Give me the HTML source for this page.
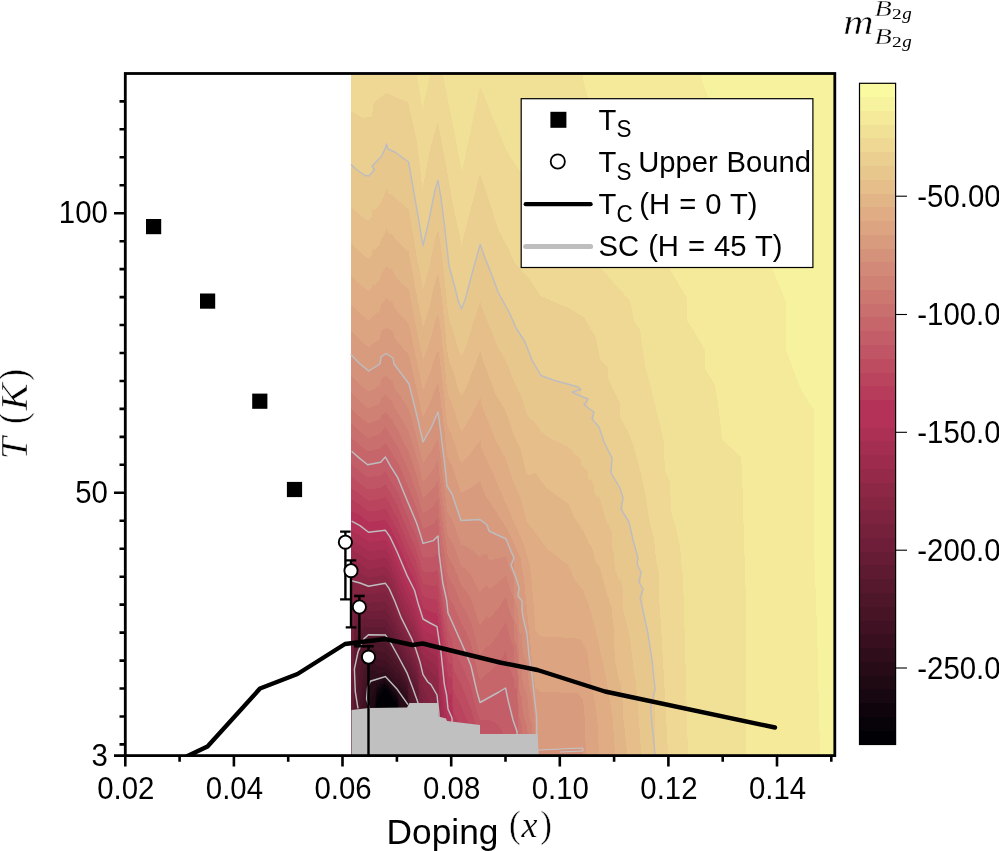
<!DOCTYPE html>
<html><head><meta charset="utf-8"><title>chart</title>
<style>
html,body{margin:0;padding:0;background:#fff}
body{width:999px;height:851px;position:relative;overflow:hidden;font-family:"Liberation Sans",sans-serif}
#hm{position:absolute;left:351px;top:74px;width:484px;height:682px;overflow:hidden}
#hm i{position:absolute;top:0;width:1px;height:682px;display:block}
#ov{position:absolute;left:0;top:0;will-change:transform}
</style></head><body>
<div id="hm">
<i style="left:0px;background:linear-gradient(#eed893 37.8px,#ebcf90 37.8px,#ebcf90 91.5px,#e8c78d 91.5px,#e8c78d 133.2px,#e5be8a 133.2px,#e5be8a 170px,#e2b587 170px,#e2b587 202.5px,#dfac84 202.5px,#dfac84 231.5px,#dca481 231.5px,#dca481 258px,#d99b7e 258px,#d99b7e 281.8px,#d5927a 281.8px,#d5927a 302.2px,#d28977 302.2px,#d28977 319.5px,#cf8174 319.5px,#cf8174 335.2px,#cc7871 335.2px,#cc7871 350px,#c96f6e 350px,#c96f6e 364px,#c6666b 364px,#c6666b 377.8px,#c35e68 377.8px,#c35e68 390.8px,#c05565 390.8px,#c05565 403px,#bd4c61 403px,#bd4c61 414.8px,#ba435e 414.8px,#ba435e 425.8px,#b73b5b 425.8px,#b73b5b 436.8px,#b43258 436.8px,#b43258 447.5px,#b43258 447.5px,#b43258 457.2px,#ac3054 457.2px,#ac3054 466px,#a42e51 466px,#a42e51 474.2px,#9d2b4d 474.2px,#9d2b4d 483px,#95294a 483px,#95294a 492.8px,#8d2746 492.8px,#8d2746 507px,#852542 507px,#852542 529px,#7d233f 529px,#7d233f 553.2px,#75213b 553.2px,#75213b 581.2px,#6e1e38 581.2px,#6e1e38 618px,#661c34 618px)"></i>
<i style="left:1px;background:linear-gradient(#eed893 38px,#ebcf90 38px,#ebcf90 92px,#e8c78d 92px,#e8c78d 133.8px,#e5be8a 133.8px,#e5be8a 170.5px,#e2b587 170.5px,#e2b587 203px,#dfac84 203px,#dfac84 232.2px,#dca481 232.2px,#dca481 258.5px,#d99b7e 258.5px,#d99b7e 282.5px,#d5927a 282.5px,#d5927a 302.8px,#d28977 302.8px,#d28977 320px,#cf8174 320px,#cf8174 335.8px,#cc7871 335.8px,#cc7871 350.5px,#c96f6e 350.5px,#c96f6e 364.5px,#c6666b 364.5px,#c6666b 378.2px,#c35e68 378.2px,#c35e68 391.2px,#c05565 391.2px,#c05565 403.5px,#bd4c61 403.5px,#bd4c61 415px,#ba435e 415px,#ba435e 426.2px,#b73b5b 426.2px,#b73b5b 437px,#b43258 437px,#b43258 447.8px,#b43258 447.8px,#b43258 457.5px,#ac3054 457.5px,#ac3054 466.2px,#a42e51 466.2px,#a42e51 474.8px,#9d2b4d 474.8px,#9d2b4d 483.2px,#95294a 483.2px,#95294a 493.2px,#8d2746 493.2px,#8d2746 507px,#852542 507px,#852542 528px,#7d233f 528px,#7d233f 551px,#75213b 551px,#75213b 577px,#6e1e38 577px,#6e1e38 609.5px,#661c34 609.5px)"></i>
<i style="left:2px;background:linear-gradient(#eed893 38.8px,#ebcf90 38.8px,#ebcf90 92.8px,#e8c78d 92.8px,#e8c78d 135px,#e5be8a 135px,#e5be8a 171.8px,#e2b587 171.8px,#e2b587 204.2px,#dfac84 204.2px,#dfac84 233.2px,#dca481 233.2px,#dca481 259.5px,#d99b7e 259.5px,#d99b7e 283.5px,#d5927a 283.5px,#d5927a 303.8px,#d28977 303.8px,#d28977 321px,#cf8174 321px,#cf8174 336.8px,#cc7871 336.8px,#cc7871 351.2px,#c96f6e 351.2px,#c96f6e 365.5px,#c6666b 365.5px,#c6666b 379px,#c35e68 379px,#c35e68 392.2px,#c05565 392.2px,#c05565 404.2px,#bd4c61 404.2px,#bd4c61 415.8px,#ba435e 415.8px,#ba435e 426.8px,#b73b5b 426.8px,#b73b5b 437.8px,#b43258 437.8px,#b43258 448.2px,#b43258 448.2px,#b43258 458px,#ac3054 458px,#ac3054 466.8px,#a42e51 466.8px,#a42e51 475.2px,#9d2b4d 475.2px,#9d2b4d 484px,#95294a 484px,#95294a 493.8px,#8d2746 493.8px,#8d2746 507.2px,#852542 507.2px,#852542 526.8px,#7d233f 526.8px,#7d233f 547.5px,#75213b 547.5px,#75213b 570.2px,#6e1e38 570.2px,#6e1e38 596.8px,#661c34 596.8px,#661c34 633.2px,#5e1a30 633.2px)"></i>
<i style="left:3px;background:linear-gradient(#eed893 39.2px,#ebcf90 39.2px,#ebcf90 93.8px,#e8c78d 93.8px,#e8c78d 136px,#e5be8a 136px,#e5be8a 172.8px,#e2b587 172.8px,#e2b587 205.2px,#dfac84 205.2px,#dfac84 234.2px,#dca481 234.2px,#dca481 260.5px,#d99b7e 260.5px,#d99b7e 284.5px,#d5927a 284.5px,#d5927a 304.8px,#d28977 304.8px,#d28977 322px,#cf8174 322px,#cf8174 337.8px,#cc7871 337.8px,#cc7871 352.2px,#c96f6e 352.2px,#c96f6e 366.2px,#c6666b 366.2px,#c6666b 380px,#c35e68 380px,#c35e68 393px,#c05565 393px,#c05565 405px,#bd4c61 405px,#bd4c61 416.5px,#ba435e 416.5px,#ba435e 427.5px,#b73b5b 427.5px,#b73b5b 438.2px,#b43258 438.2px,#b43258 448.8px,#b43258 448.8px,#b43258 459px,#ac3054 459px,#ac3054 468.2px,#a42e51 468.2px,#a42e51 477.5px,#9d2b4d 477.5px,#9d2b4d 486.8px,#95294a 486.8px,#95294a 496.5px,#8d2746 496.5px,#8d2746 507.5px,#852542 507.5px,#852542 519px,#7d233f 519px,#7d233f 530px,#75213b 530px,#75213b 540.8px,#6e1e38 540.8px,#6e1e38 552.5px,#661c34 552.5px,#661c34 566.2px,#5e1a30 566.2px,#5e1a30 594.8px,#56182d 594.8px)"></i>
<i style="left:4px;background:linear-gradient(#eed893 39.8px,#ebcf90 39.8px,#ebcf90 94.8px,#e8c78d 94.8px,#e8c78d 137px,#e5be8a 137px,#e5be8a 173.8px,#e2b587 173.8px,#e2b587 206.2px,#dfac84 206.2px,#dfac84 235.2px,#dca481 235.2px,#dca481 261.5px,#d99b7e 261.5px,#d99b7e 285.5px,#d5927a 285.5px,#d5927a 306px,#d28977 306px,#d28977 323px,#cf8174 323px,#cf8174 338.8px,#cc7871 338.8px,#cc7871 353.2px,#c96f6e 353.2px,#c96f6e 367.2px,#c6666b 367.2px,#c6666b 381px,#c35e68 381px,#c35e68 393.8px,#c05565 393.8px,#c05565 405.8px,#bd4c61 405.8px,#bd4c61 417px,#ba435e 417px,#ba435e 428px,#b73b5b 428px,#b73b5b 438.8px,#b43258 438.8px,#b43258 449.2px,#b43258 449.2px,#b43258 459.5px,#ac3054 459.5px,#ac3054 468.8px,#a42e51 468.8px,#a42e51 478px,#9d2b4d 478px,#9d2b4d 487.2px,#95294a 487.2px,#95294a 497px,#8d2746 497px,#8d2746 508px,#852542 508px,#852542 519px,#7d233f 519px,#7d233f 529.5px,#75213b 529.5px,#75213b 540.2px,#6e1e38 540.2px,#6e1e38 551.8px,#661c34 551.8px,#661c34 565px,#5e1a30 565px,#5e1a30 590px,#56182d 590px)"></i>
<i style="left:5px;background:linear-gradient(#eed893 40.5px,#ebcf90 40.5px,#ebcf90 95.8px,#e8c78d 95.8px,#e8c78d 138px,#e5be8a 138px,#e5be8a 175px,#e2b587 175px,#e2b587 207.5px,#dfac84 207.5px,#dfac84 236.2px,#dca481 236.2px,#dca481 262.5px,#d99b7e 262.5px,#d99b7e 286.5px,#d5927a 286.5px,#d5927a 307px,#d28977 307px,#d28977 324.2px,#cf8174 324.2px,#cf8174 339.8px,#cc7871 339.8px,#cc7871 354.2px,#c96f6e 354.2px,#c96f6e 368.2px,#c6666b 368.2px,#c6666b 381.8px,#c35e68 381.8px,#c35e68 394.8px,#c05565 394.8px,#c05565 406.5px,#bd4c61 406.5px,#bd4c61 417.8px,#ba435e 417.8px,#ba435e 428.8px,#b73b5b 428.8px,#b73b5b 439.2px,#b43258 439.2px,#b43258 450px,#b43258 450px,#b43258 460px,#ac3054 460px,#ac3054 469.5px,#a42e51 469.5px,#a42e51 478.8px,#9d2b4d 478.8px,#9d2b4d 488px,#95294a 488px,#95294a 497.8px,#8d2746 497.8px,#8d2746 508.2px,#852542 508.2px,#852542 519px,#7d233f 519px,#7d233f 529px,#75213b 529px,#75213b 539.5px,#6e1e38 539.5px,#6e1e38 550.5px,#661c34 550.5px,#661c34 563.2px,#5e1a30 563.2px,#5e1a30 585.2px,#56182d 585.2px,#56182d 665.2px,#4e1629 665.2px)"></i>
<i style="left:6px;background:linear-gradient(#eed893 41px,#ebcf90 41px,#ebcf90 96.5px,#e8c78d 96.5px,#e8c78d 139px,#e5be8a 139px,#e5be8a 176px,#e2b587 176px,#e2b587 208.5px,#dfac84 208.5px,#dfac84 237.5px,#dca481 237.5px,#dca481 263.5px,#d99b7e 263.5px,#d99b7e 287.5px,#d5927a 287.5px,#d5927a 308px,#d28977 308px,#d28977 325.2px,#cf8174 325.2px,#cf8174 340.8px,#cc7871 340.8px,#cc7871 355.2px,#c96f6e 355.2px,#c96f6e 369.2px,#c6666b 369.2px,#c6666b 382.8px,#c35e68 382.8px,#c35e68 395.5px,#c05565 395.5px,#c05565 407.2px,#bd4c61 407.2px,#bd4c61 418.5px,#ba435e 418.5px,#ba435e 429.2px,#b73b5b 429.2px,#b73b5b 440px,#b43258 440px,#b43258 450.5px,#b43258 450.5px,#b43258 460.5px,#ac3054 460.5px,#ac3054 470px,#a42e51 470px,#a42e51 479.2px,#9d2b4d 479.2px,#9d2b4d 488.5px,#95294a 488.5px,#95294a 498.2px,#8d2746 498.2px,#8d2746 508.5px,#852542 508.5px,#852542 518.8px,#7d233f 518.8px,#7d233f 528.5px,#75213b 528.5px,#75213b 538.2px,#6e1e38 538.2px,#6e1e38 548.8px,#661c34 548.8px,#661c34 561px,#5e1a30 561px,#5e1a30 580.5px,#56182d 580.5px,#56182d 625px,#4e1629 625px)"></i>
<i style="left:7px;background:linear-gradient(#eed893 41.5px,#ebcf90 41.5px,#ebcf90 97.2px,#e8c78d 97.2px,#e8c78d 139.8px,#e5be8a 139.8px,#e5be8a 176.8px,#e2b587 176.8px,#e2b587 209.2px,#dfac84 209.2px,#dfac84 238.5px,#dca481 238.5px,#dca481 264.8px,#d99b7e 264.8px,#d99b7e 288.5px,#d5927a 288.5px,#d5927a 309px,#d28977 309px,#d28977 326.2px,#cf8174 326.2px,#cf8174 341.8px,#cc7871 341.8px,#cc7871 356.2px,#c96f6e 356.2px,#c96f6e 370px,#c6666b 370px,#c6666b 383.5px,#c35e68 383.5px,#c35e68 396.2px,#c05565 396.2px,#c05565 408px,#bd4c61 408px,#bd4c61 419.2px,#ba435e 419.2px,#ba435e 430px,#b73b5b 430px,#b73b5b 440.5px,#b43258 440.5px,#b43258 451px,#b43258 451px,#b43258 461px,#ac3054 461px,#ac3054 470.5px,#a42e51 470.5px,#a42e51 479.8px,#9d2b4d 479.8px,#9d2b4d 489px,#95294a 489px,#95294a 498.8px,#8d2746 498.8px,#8d2746 508.8px,#852542 508.8px,#852542 518.8px,#7d233f 518.8px,#7d233f 528.2px,#75213b 528.2px,#75213b 537.8px,#6e1e38 537.8px,#6e1e38 547.8px,#661c34 547.8px,#661c34 559.2px,#5e1a30 559.2px,#5e1a30 577px,#56182d 577px,#56182d 610.2px,#4e1629 610.2px,#4e1629 672.8px,#461425 672.8px)"></i>
<i style="left:8px;background:linear-gradient(#eed893 42.2px,#ebcf90 42.2px,#ebcf90 97.8px,#e8c78d 97.8px,#e8c78d 140.5px,#e5be8a 140.5px,#e5be8a 177.5px,#e2b587 177.5px,#e2b587 210.2px,#dfac84 210.2px,#dfac84 239.2px,#dca481 239.2px,#dca481 265.5px,#d99b7e 265.5px,#d99b7e 289.5px,#d5927a 289.5px,#d5927a 310px,#d28977 310px,#d28977 327px,#cf8174 327px,#cf8174 342.5px,#cc7871 342.5px,#cc7871 357px,#c96f6e 357px,#c96f6e 371px,#c6666b 371px,#c6666b 384.5px,#c35e68 384.5px,#c35e68 397px,#c05565 397px,#c05565 408.8px,#bd4c61 408.8px,#bd4c61 420px,#ba435e 420px,#ba435e 430.5px,#b73b5b 430.5px,#b73b5b 441px,#b43258 441px,#b43258 451.5px,#b43258 451.5px,#b43258 461.5px,#ac3054 461.5px,#ac3054 471px,#a42e51 471px,#a42e51 480.2px,#9d2b4d 480.2px,#9d2b4d 489.5px,#95294a 489.5px,#95294a 499px,#8d2746 499px,#8d2746 509px,#852542 509px,#852542 518.8px,#7d233f 518.8px,#7d233f 528px,#75213b 528px,#75213b 537.2px,#6e1e38 537.2px,#6e1e38 547px,#661c34 547px,#661c34 558.2px,#5e1a30 558.2px,#5e1a30 574.8px,#56182d 574.8px,#56182d 602px,#4e1629 602px,#4e1629 637.2px,#461425 637.2px)"></i>
<i style="left:9px;background:linear-gradient(#eed893 42.8px,#ebcf90 42.8px,#ebcf90 98.5px,#e8c78d 98.5px,#e8c78d 141.2px,#e5be8a 141.2px,#e5be8a 178.2px,#e2b587 178.2px,#e2b587 211px,#dfac84 211px,#dfac84 240px,#dca481 240px,#dca481 266.5px,#d99b7e 266.5px,#d99b7e 290.2px,#d5927a 290.2px,#d5927a 310.8px,#d28977 310.8px,#d28977 328px,#cf8174 328px,#cf8174 343.5px,#cc7871 343.5px,#cc7871 358px,#c96f6e 358px,#c96f6e 371.8px,#c6666b 371.8px,#c6666b 385.2px,#c35e68 385.2px,#c35e68 398px,#c05565 398px,#c05565 409.5px,#bd4c61 409.5px,#bd4c61 420.8px,#ba435e 420.8px,#ba435e 431.2px,#b73b5b 431.2px,#b73b5b 441.8px,#b43258 441.8px,#b43258 452px,#b43258 452px,#b43258 462px,#ac3054 462px,#ac3054 471.5px,#a42e51 471.5px,#a42e51 481px,#9d2b4d 481px,#9d2b4d 490.2px,#95294a 490.2px,#95294a 499.5px,#8d2746 499.5px,#8d2746 509.2px,#852542 509.2px,#852542 518.8px,#7d233f 518.8px,#7d233f 528px,#75213b 528px,#75213b 537px,#6e1e38 537px,#6e1e38 546.5px,#661c34 546.5px,#661c34 557.2px,#5e1a30 557.2px,#5e1a30 572.5px,#56182d 572.5px,#56182d 595.8px,#4e1629 595.8px,#4e1629 623.2px,#461425 623.2px)"></i>
<i style="left:10px;background:linear-gradient(#eed893 43.5px,#ebcf90 43.5px,#ebcf90 99.2px,#e8c78d 99.2px,#e8c78d 142px,#e5be8a 142px,#e5be8a 179.2px,#e2b587 179.2px,#e2b587 211.8px,#dfac84 211.8px,#dfac84 241px,#dca481 241px,#dca481 267.2px,#d99b7e 267.2px,#d99b7e 291.2px,#d5927a 291.2px,#d5927a 311.5px,#d28977 311.5px,#d28977 328.8px,#cf8174 328.8px,#cf8174 344.2px,#cc7871 344.2px,#cc7871 358.8px,#c96f6e 358.8px,#c96f6e 372.5px,#c6666b 372.5px,#c6666b 386px,#c35e68 386px,#c35e68 398.8px,#c05565 398.8px,#c05565 410.5px,#bd4c61 410.5px,#bd4c61 421.5px,#ba435e 421.5px,#ba435e 432.2px,#b73b5b 432.2px,#b73b5b 442.5px,#b43258 442.5px,#b43258 453px,#b43258 453px,#b43258 462.8px,#ac3054 462.8px,#ac3054 472.2px,#a42e51 472.2px,#a42e51 481.8px,#9d2b4d 481.8px,#9d2b4d 490.8px,#95294a 490.8px,#95294a 500.2px,#8d2746 500.2px,#8d2746 509.8px,#852542 509.8px,#852542 519px,#7d233f 519px,#7d233f 527.8px,#75213b 527.8px,#75213b 536.5px,#6e1e38 536.5px,#6e1e38 545.8px,#661c34 545.8px,#661c34 556px,#5e1a30 556px,#5e1a30 570.2px,#56182d 570.2px,#56182d 590.8px,#4e1629 590.8px,#4e1629 613.8px,#461425 613.8px,#461425 644.2px,#3f1122 644.2px)"></i>
<i style="left:11px;background:linear-gradient(#eed893 44px,#ebcf90 44px,#ebcf90 100px,#e8c78d 100px,#e8c78d 142.8px,#e5be8a 142.8px,#e5be8a 180px,#e2b587 180px,#e2b587 212.5px,#dfac84 212.5px,#dfac84 241.8px,#dca481 241.8px,#dca481 268px,#d99b7e 268px,#d99b7e 292px,#d5927a 292px,#d5927a 312.5px,#d28977 312.5px,#d28977 329.5px,#cf8174 329.5px,#cf8174 345px,#cc7871 345px,#cc7871 359.5px,#c96f6e 359.5px,#c96f6e 373.5px,#c6666b 373.5px,#c6666b 386.8px,#c35e68 386.8px,#c35e68 399.5px,#c05565 399.5px,#c05565 411.2px,#bd4c61 411.2px,#bd4c61 422.2px,#ba435e 422.2px,#ba435e 433px,#b73b5b 433px,#b73b5b 443.5px,#b43258 443.5px,#b43258 453.8px,#b43258 453.8px,#b43258 463.5px,#ac3054 463.5px,#ac3054 473px,#a42e51 473px,#a42e51 482.2px,#9d2b4d 482.2px,#9d2b4d 491.5px,#95294a 491.5px,#95294a 500.8px,#8d2746 500.8px,#8d2746 510px,#852542 510px,#852542 519px,#7d233f 519px,#7d233f 527.5px,#75213b 527.5px,#75213b 536px,#6e1e38 536px,#6e1e38 544.8px,#661c34 544.8px,#661c34 554.8px,#5e1a30 554.8px,#5e1a30 568px,#56182d 568px,#56182d 586.5px,#4e1629 586.5px,#4e1629 606.5px,#461425 606.5px,#461425 630.5px,#3f1122 630.5px)"></i>
<i style="left:12px;background:linear-gradient(#eed893 44.2px,#ebcf90 44.2px,#ebcf90 100.5px,#e8c78d 100.5px,#e8c78d 143.5px,#e5be8a 143.5px,#e5be8a 180.8px,#e2b587 180.8px,#e2b587 213.5px,#dfac84 213.5px,#dfac84 242.5px,#dca481 242.5px,#dca481 268.8px,#d99b7e 268.8px,#d99b7e 292.8px,#d5927a 292.8px,#d5927a 313.2px,#d28977 313.2px,#d28977 330.5px,#cf8174 330.5px,#cf8174 346px,#cc7871 346px,#cc7871 360.2px,#c96f6e 360.2px,#c96f6e 374.2px,#c6666b 374.2px,#c6666b 387.8px,#c35e68 387.8px,#c35e68 400.2px,#c05565 400.2px,#c05565 412px,#bd4c61 412px,#bd4c61 423px,#ba435e 423px,#ba435e 433.8px,#b73b5b 433.8px,#b73b5b 444.2px,#b43258 444.2px,#b43258 454.5px,#b43258 454.5px,#b43258 464.2px,#ac3054 464.2px,#ac3054 473.8px,#a42e51 473.8px,#a42e51 483px,#9d2b4d 483px,#9d2b4d 492.2px,#95294a 492.2px,#95294a 501.2px,#8d2746 501.2px,#8d2746 510.5px,#852542 510.5px,#852542 519.2px,#7d233f 519.2px,#7d233f 527.5px,#75213b 527.5px,#75213b 535.5px,#6e1e38 535.5px,#6e1e38 543.8px,#661c34 543.8px,#661c34 553.2px,#5e1a30 553.2px,#5e1a30 565.8px,#56182d 565.8px,#56182d 582.5px,#4e1629 582.5px,#4e1629 600.5px,#461425 600.5px,#461425 621px,#3f1122 621px,#3f1122 648.2px,#370f1e 648.2px)"></i>
<i style="left:13px;background:linear-gradient(#eed893 44px,#ebcf90 44px,#ebcf90 101.2px,#e8c78d 101.2px,#e8c78d 144.5px,#e5be8a 144.5px,#e5be8a 181.8px,#e2b587 181.8px,#e2b587 214.2px,#dfac84 214.2px,#dfac84 243.5px,#dca481 243.5px,#dca481 269.8px,#d99b7e 269.8px,#d99b7e 293.8px,#d5927a 293.8px,#d5927a 314px,#d28977 314px,#d28977 331.2px,#cf8174 331.2px,#cf8174 346.8px,#cc7871 346.8px,#cc7871 361.2px,#c96f6e 361.2px,#c96f6e 375px,#c6666b 375px,#c6666b 388.5px,#c35e68 388.5px,#c35e68 401px,#c05565 401px,#c05565 412.8px,#bd4c61 412.8px,#bd4c61 424px,#ba435e 424px,#ba435e 434.5px,#b73b5b 434.5px,#b73b5b 445px,#b43258 445px,#b43258 455.2px,#b43258 455.2px,#b43258 465px,#ac3054 465px,#ac3054 474.5px,#a42e51 474.5px,#a42e51 483.8px,#9d2b4d 483.8px,#9d2b4d 492.8px,#95294a 492.8px,#95294a 501.8px,#8d2746 501.8px,#8d2746 510.8px,#852542 510.8px,#852542 519.5px,#7d233f 519.5px,#7d233f 527.5px,#75213b 527.5px,#75213b 535.2px,#6e1e38 535.2px,#6e1e38 543.5px,#661c34 543.5px,#661c34 552.5px,#5e1a30 552.5px,#5e1a30 564.5px,#56182d 564.5px,#56182d 580px,#4e1629 580px,#4e1629 596.2px,#461425 596.2px,#461425 614px,#3f1122 614px,#3f1122 635.8px,#370f1e 635.8px)"></i>
<i style="left:14px;background:linear-gradient(#eed893 43.8px,#ebcf90 43.8px,#ebcf90 101.8px,#e8c78d 101.8px,#e8c78d 145.2px,#e5be8a 145.2px,#e5be8a 182.5px,#e2b587 182.5px,#e2b587 215.2px,#dfac84 215.2px,#dfac84 244.2px,#dca481 244.2px,#dca481 270.5px,#d99b7e 270.5px,#d99b7e 294.5px,#d5927a 294.5px,#d5927a 315px,#d28977 315px,#d28977 332px,#cf8174 332px,#cf8174 347.5px,#cc7871 347.5px,#cc7871 362px,#c96f6e 362px,#c96f6e 375.8px,#c6666b 375.8px,#c6666b 389.2px,#c35e68 389.2px,#c35e68 402px,#c05565 402px,#c05565 413.8px,#bd4c61 413.8px,#bd4c61 424.8px,#ba435e 424.8px,#ba435e 435.5px,#b73b5b 435.5px,#b73b5b 445.8px,#b43258 445.8px,#b43258 456px,#b43258 456px,#b43258 465.8px,#ac3054 465.8px,#ac3054 475.2px,#a42e51 475.2px,#a42e51 484.5px,#9d2b4d 484.5px,#9d2b4d 493.5px,#95294a 493.5px,#95294a 502.2px,#8d2746 502.2px,#8d2746 511.2px,#852542 511.2px,#852542 519.8px,#7d233f 519.8px,#7d233f 527.5px,#75213b 527.5px,#75213b 535.2px,#6e1e38 535.2px,#6e1e38 543.2px,#661c34 543.2px,#661c34 552.2px,#5e1a30 552.2px,#5e1a30 563.5px,#56182d 563.5px,#56182d 578px,#4e1629 578px,#4e1629 592.8px,#461425 592.8px,#461425 608.8px,#3f1122 608.8px,#3f1122 627.2px,#370f1e 627.2px,#370f1e 652px,#2f0d1b 652px)"></i>
<i style="left:15px;background:linear-gradient(#eed893 43.5px,#ebcf90 43.5px,#ebcf90 101.8px,#e8c78d 101.8px,#e8c78d 145.5px,#e5be8a 145.5px,#e5be8a 183px,#e2b587 183px,#e2b587 215.8px,#dfac84 215.8px,#dfac84 245px,#dca481 245px,#dca481 271.2px,#d99b7e 271.2px,#d99b7e 295.2px,#d5927a 295.2px,#d5927a 315.8px,#d28977 315.8px,#d28977 333px,#cf8174 333px,#cf8174 348.2px,#cc7871 348.2px,#cc7871 362.8px,#c96f6e 362.8px,#c96f6e 376.5px,#c6666b 376.5px,#c6666b 390px,#c35e68 390px,#c35e68 402.8px,#c05565 402.8px,#c05565 414.5px,#bd4c61 414.5px,#bd4c61 425.5px,#ba435e 425.5px,#ba435e 436.2px,#b73b5b 436.2px,#b73b5b 446.5px,#b43258 446.5px,#b43258 456.8px,#b43258 456.8px,#b43258 466.5px,#ac3054 466.5px,#ac3054 476px,#a42e51 476px,#a42e51 485px,#9d2b4d 485px,#9d2b4d 494px,#95294a 494px,#95294a 502.8px,#8d2746 502.8px,#8d2746 511.8px,#852542 511.8px,#852542 520px,#7d233f 520px,#7d233f 527.8px,#75213b 527.8px,#75213b 535.2px,#6e1e38 535.2px,#6e1e38 543px,#661c34 543px,#661c34 551.8px,#5e1a30 551.8px,#5e1a30 562.8px,#56182d 562.8px,#56182d 576.2px,#4e1629 576.2px,#4e1629 590.2px,#461425 590.2px,#461425 605px,#3f1122 605px,#3f1122 621.5px,#370f1e 621.5px,#370f1e 641.5px,#2f0d1b 641.5px)"></i>
<i style="left:16px;background:linear-gradient(#eed893 43.5px,#ebcf90 43.5px,#ebcf90 102px,#e8c78d 102px,#e8c78d 145.8px,#e5be8a 145.8px,#e5be8a 183.5px,#e2b587 183.5px,#e2b587 216.5px,#dfac84 216.5px,#dfac84 245.8px,#dca481 245.8px,#dca481 272px,#d99b7e 272px,#d99b7e 296.2px,#d5927a 296.2px,#d5927a 316.5px,#d28977 316.5px,#d28977 333.8px,#cf8174 333.8px,#cf8174 349.2px,#cc7871 349.2px,#cc7871 363.8px,#c96f6e 363.8px,#c96f6e 377.5px,#c6666b 377.5px,#c6666b 390.8px,#c35e68 390.8px,#c35e68 403.5px,#c05565 403.5px,#c05565 415.2px,#bd4c61 415.2px,#bd4c61 426.5px,#ba435e 426.5px,#ba435e 437px,#b73b5b 437px,#b73b5b 447.5px,#b43258 447.5px,#b43258 457.5px,#b43258 457.5px,#b43258 467.2px,#ac3054 467.2px,#ac3054 476.8px,#a42e51 476.8px,#a42e51 485.8px,#9d2b4d 485.8px,#9d2b4d 494.5px,#95294a 494.5px,#95294a 503.2px,#8d2746 503.2px,#8d2746 512px,#852542 512px,#852542 520.5px,#7d233f 520.5px,#7d233f 528.8px,#75213b 528.8px,#75213b 537px,#6e1e38 537px,#6e1e38 545.2px,#661c34 545.2px,#661c34 553.5px,#5e1a30 553.5px,#5e1a30 561.8px,#56182d 561.8px,#56182d 569.8px,#4e1629 569.8px,#4e1629 576.8px,#461425 576.8px,#461425 583.8px,#3f1122 583.8px,#3f1122 591px,#370f1e 591px,#370f1e 599.2px,#2f0d1b 599.2px,#2f0d1b 615px,#270b17 615px)"></i>
<i style="left:17px;background:linear-gradient(#eed893 43.2px,#ebcf90 43.2px,#ebcf90 102px,#e8c78d 102px,#e8c78d 146.2px,#e5be8a 146.2px,#e5be8a 184px,#e2b587 184px,#e2b587 217.2px,#dfac84 217.2px,#dfac84 246.5px,#dca481 246.5px,#dca481 273px,#d99b7e 273px,#d99b7e 297px,#d5927a 297px,#d5927a 317.2px,#d28977 317.2px,#d28977 334.2px,#cf8174 334.2px,#cf8174 349.5px,#cc7871 349.5px,#cc7871 363.8px,#c96f6e 363.8px,#c96f6e 377.2px,#c6666b 377.2px,#c6666b 390.8px,#c35e68 390.8px,#c35e68 403.5px,#c05565 403.5px,#c05565 415.5px,#bd4c61 415.5px,#bd4c61 426.8px,#ba435e 426.8px,#ba435e 437.8px,#b73b5b 437.8px,#b73b5b 448px,#b43258 448px,#b43258 458.2px,#b43258 458.2px,#b43258 468.2px,#ac3054 468.2px,#ac3054 477.5px,#a42e51 477.5px,#a42e51 486.5px,#9d2b4d 486.5px,#9d2b4d 495.2px,#95294a 495.2px,#95294a 503.8px,#8d2746 503.8px,#8d2746 512.5px,#852542 512.5px,#852542 520.8px,#7d233f 520.8px,#7d233f 529px,#75213b 529px,#75213b 536.8px,#6e1e38 536.8px,#6e1e38 544.8px,#661c34 544.8px,#661c34 552.8px,#5e1a30 552.8px,#5e1a30 561px,#56182d 561px,#56182d 568.5px,#4e1629 568.5px,#4e1629 575.5px,#461425 575.5px,#461425 582.2px,#3f1122 582.2px,#3f1122 589.5px,#370f1e 589.5px,#370f1e 597.8px,#2f0d1b 597.8px,#2f0d1b 611.8px,#270b17 611.8px,#270b17 656.5px,#1f0913 656.5px)"></i>
<i style="left:18px;background:linear-gradient(#eed893 43px,#ebcf90 43px,#ebcf90 101.5px,#e8c78d 101.5px,#e8c78d 145.8px,#e5be8a 145.8px,#e5be8a 183.5px,#e2b587 183.5px,#e2b587 216.5px,#dfac84 216.5px,#dfac84 246px,#dca481 246px,#dca481 272.5px,#d99b7e 272.5px,#d99b7e 296.5px,#d5927a 296.5px,#d5927a 316.8px,#d28977 316.8px,#d28977 333.8px,#cf8174 333.8px,#cf8174 349px,#cc7871 349px,#cc7871 363.5px,#c96f6e 363.5px,#c96f6e 377px,#c6666b 377px,#c6666b 390.5px,#c35e68 390.5px,#c35e68 403.2px,#c05565 403.2px,#c05565 415.2px,#bd4c61 415.2px,#bd4c61 426.8px,#ba435e 426.8px,#ba435e 437.5px,#b73b5b 437.5px,#b73b5b 448px,#b43258 448px,#b43258 458.2px,#b43258 458.2px,#b43258 468px,#ac3054 468px,#ac3054 477.2px,#a42e51 477.2px,#a42e51 486.2px,#9d2b4d 486.2px,#9d2b4d 495px,#95294a 495px,#95294a 503.8px,#8d2746 503.8px,#8d2746 512.2px,#852542 512.2px,#852542 520.8px,#7d233f 520.8px,#7d233f 528.8px,#75213b 528.8px,#75213b 537px,#6e1e38 537px,#6e1e38 545px,#661c34 545px,#661c34 553px,#5e1a30 553px,#5e1a30 561px,#56182d 561px,#56182d 568.5px,#4e1629 568.5px,#4e1629 575.2px,#461425 575.2px,#461425 581.8px,#3f1122 581.8px,#3f1122 588.8px,#370f1e 588.8px,#370f1e 596.8px,#2f0d1b 596.8px,#2f0d1b 609.5px,#270b17 609.5px,#270b17 635.8px,#1f0913 635.8px)"></i>
<i style="left:19px;background:linear-gradient(#eed893 42.8px,#ebcf90 42.8px,#ebcf90 100.5px,#e8c78d 100.5px,#e8c78d 144.2px,#e5be8a 144.2px,#e5be8a 182.2px,#e2b587 182.2px,#e2b587 215.5px,#dfac84 215.5px,#dfac84 245px,#dca481 245px,#dca481 271.8px,#d99b7e 271.8px,#d99b7e 296px,#d5927a 296px,#d5927a 316.2px,#d28977 316.2px,#d28977 333.2px,#cf8174 333.2px,#cf8174 348.8px,#cc7871 348.8px,#cc7871 363px,#c96f6e 363px,#c96f6e 377px,#c6666b 377px,#c6666b 390.2px,#c35e68 390.2px,#c35e68 403.2px,#c05565 403.2px,#c05565 415.2px,#bd4c61 415.2px,#bd4c61 426.5px,#ba435e 426.5px,#ba435e 437.5px,#b73b5b 437.5px,#b73b5b 448px,#b43258 448px,#b43258 458px,#b43258 458px,#b43258 468px,#ac3054 468px,#ac3054 477.2px,#a42e51 477.2px,#a42e51 486.2px,#9d2b4d 486.2px,#9d2b4d 495px,#95294a 495px,#95294a 503.5px,#8d2746 503.5px,#8d2746 512px,#852542 512px,#852542 520.5px,#7d233f 520.5px,#7d233f 528.8px,#75213b 528.8px,#75213b 537px,#6e1e38 537px,#6e1e38 545px,#661c34 545px,#661c34 553px,#5e1a30 553px,#5e1a30 561px,#56182d 561px,#56182d 568.2px,#4e1629 568.2px,#4e1629 575px,#461425 575px,#461425 581.2px,#3f1122 581.2px,#3f1122 588.2px,#370f1e 588.2px,#370f1e 595.8px,#2f0d1b 595.8px,#2f0d1b 607.2px,#270b17 607.2px,#270b17 627.2px,#1f0913 627.2px,#1f0913 654px,#170710 654px)"></i>
<i style="left:20px;background:linear-gradient(#eed893 42.5px,#ebcf90 42.5px,#ebcf90 99.2px,#e8c78d 99.2px,#e8c78d 143px,#e5be8a 143px,#e5be8a 181px,#e2b587 181px,#e2b587 214.5px,#dfac84 214.5px,#dfac84 244.2px,#dca481 244.2px,#dca481 271px,#d99b7e 271px,#d99b7e 295.2px,#d5927a 295.2px,#d5927a 315.8px,#d28977 315.8px,#d28977 333px,#cf8174 333px,#cf8174 348.2px,#cc7871 348.2px,#cc7871 362.8px,#c96f6e 362.8px,#c96f6e 376.8px,#c6666b 376.8px,#c6666b 390.2px,#c35e68 390.2px,#c35e68 403px,#c05565 403px,#c05565 415px,#bd4c61 415px,#bd4c61 426.5px,#ba435e 426.5px,#ba435e 437.2px,#b73b5b 437.2px,#b73b5b 447.8px,#b43258 447.8px,#b43258 458px,#b43258 458px,#b43258 467.8px,#ac3054 467.8px,#ac3054 477px,#a42e51 477px,#a42e51 486px,#9d2b4d 486px,#9d2b4d 494.8px,#95294a 494.8px,#95294a 503.2px,#8d2746 503.2px,#8d2746 512px,#852542 512px,#852542 520.5px,#7d233f 520.5px,#7d233f 528.8px,#75213b 528.8px,#75213b 537px,#6e1e38 537px,#6e1e38 545px,#661c34 545px,#661c34 553px,#5e1a30 553px,#5e1a30 561px,#56182d 561px,#56182d 568.2px,#4e1629 568.2px,#4e1629 575px,#461425 575px,#461425 581.5px,#3f1122 581.5px,#3f1122 588.5px,#370f1e 588.5px,#370f1e 596.2px,#2f0d1b 596.2px,#2f0d1b 607px,#270b17 607px,#270b17 623px,#1f0913 623px,#1f0913 642px,#170710 642px)"></i>
<i style="left:21px;background:linear-gradient(#eed893 38.5px,#ebcf90 38.5px,#ebcf90 91.5px,#e8c78d 91.5px,#e8c78d 135.5px,#e5be8a 135.5px,#e5be8a 175.2px,#e2b587 175.2px,#e2b587 210.5px,#dfac84 210.5px,#dfac84 241.8px,#dca481 241.8px,#dca481 269.8px,#d99b7e 269.8px,#d99b7e 294.8px,#d5927a 294.8px,#d5927a 315.5px,#d28977 315.5px,#d28977 332.8px,#cf8174 332.8px,#cf8174 348px,#cc7871 348px,#cc7871 362.5px,#c96f6e 362.5px,#c96f6e 376.5px,#c6666b 376.5px,#c6666b 390px,#c35e68 390px,#c35e68 402.8px,#c05565 402.8px,#c05565 415px,#bd4c61 415px,#bd4c61 426.2px,#ba435e 426.2px,#ba435e 437.2px,#b73b5b 437.2px,#b73b5b 447.8px,#b43258 447.8px,#b43258 458px,#b43258 458px,#b43258 467.8px,#ac3054 467.8px,#ac3054 477px,#a42e51 477px,#a42e51 485.8px,#9d2b4d 485.8px,#9d2b4d 494.5px,#95294a 494.5px,#95294a 503.2px,#8d2746 503.2px,#8d2746 511.8px,#852542 511.8px,#852542 520.2px,#7d233f 520.2px,#7d233f 528.5px,#75213b 528.5px,#75213b 536.8px,#6e1e38 536.8px,#6e1e38 545px,#661c34 545px,#661c34 553px,#5e1a30 553px,#5e1a30 561px,#56182d 561px,#56182d 568.2px,#4e1629 568.2px,#4e1629 575px,#461425 575px,#461425 581.8px,#3f1122 581.8px,#3f1122 588.8px,#370f1e 588.8px,#370f1e 596.5px,#2f0d1b 596.5px,#2f0d1b 606.8px,#270b17 606.8px,#270b17 620.5px,#1f0913 620.5px,#1f0913 635.5px,#170710 635.5px,#170710 654.2px,#10040c 654.2px)"></i>
<i style="left:22px;background:linear-gradient(#eed893 30.5px,#ebcf90 30.5px,#ebcf90 90.5px,#e8c78d 90.5px,#e8c78d 136.5px,#e5be8a 136.5px,#e5be8a 176.2px,#e2b587 176.2px,#e2b587 211px,#dfac84 211px,#dfac84 241.8px,#dca481 241.8px,#dca481 269.2px,#d99b7e 269.2px,#d99b7e 294px,#d5927a 294px,#d5927a 315px,#d28977 315px,#d28977 332.2px,#cf8174 332.2px,#cf8174 347.8px,#cc7871 347.8px,#cc7871 362.2px,#c96f6e 362.2px,#c96f6e 376.2px,#c6666b 376.2px,#c6666b 389.8px,#c35e68 389.8px,#c35e68 402.8px,#c05565 402.8px,#c05565 414.8px,#bd4c61 414.8px,#bd4c61 426.2px,#ba435e 426.2px,#ba435e 437px,#b73b5b 437px,#b73b5b 447.5px,#b43258 447.5px,#b43258 457.8px,#b43258 457.8px,#b43258 467.5px,#ac3054 467.5px,#ac3054 476.8px,#a42e51 476.8px,#a42e51 485.8px,#9d2b4d 485.8px,#9d2b4d 494.2px,#95294a 494.2px,#95294a 503px,#8d2746 503px,#8d2746 511.5px,#852542 511.5px,#852542 520px,#7d233f 520px,#7d233f 528.5px,#75213b 528.5px,#75213b 536.8px,#6e1e38 536.8px,#6e1e38 545px,#661c34 545px,#661c34 553px,#5e1a30 553px,#5e1a30 561px,#56182d 561px,#56182d 568.5px,#4e1629 568.5px,#4e1629 575.2px,#461425 575.2px,#461425 582px,#3f1122 582px,#3f1122 589px,#370f1e 589px,#370f1e 596.5px,#2f0d1b 596.5px,#2f0d1b 606.2px,#270b17 606.2px,#270b17 618.8px,#1f0913 618.8px,#1f0913 632px,#170710 632px,#170710 647.2px,#10040c 647.2px,#10040c 669.5px,#080209 669.5px)"></i>
<i style="left:23px;background:linear-gradient(#eed893 27.8px,#ebcf90 27.8px,#ebcf90 89.5px,#e8c78d 89.5px,#e8c78d 136px,#e5be8a 136px,#e5be8a 175.8px,#e2b587 175.8px,#e2b587 210.5px,#dfac84 210.5px,#dfac84 241px,#dca481 241px,#dca481 268.5px,#d99b7e 268.5px,#d99b7e 293.5px,#d5927a 293.5px,#d5927a 314.5px,#d28977 314.5px,#d28977 331.8px,#cf8174 331.8px,#cf8174 347.5px,#cc7871 347.5px,#cc7871 362px,#c96f6e 362px,#c96f6e 376px,#c6666b 376px,#c6666b 389.5px,#c35e68 389.5px,#c35e68 402.5px,#c05565 402.5px,#c05565 414.5px,#bd4c61 414.5px,#bd4c61 426px,#ba435e 426px,#ba435e 437px,#b73b5b 437px,#b73b5b 447.5px,#b43258 447.5px,#b43258 457.8px,#b43258 457.8px,#b43258 467.5px,#ac3054 467.5px,#ac3054 476.8px,#a42e51 476.8px,#a42e51 485.5px,#9d2b4d 485.5px,#9d2b4d 494.2px,#95294a 494.2px,#95294a 502.8px,#8d2746 502.8px,#8d2746 511.2px,#852542 511.2px,#852542 520px,#7d233f 520px,#7d233f 528.5px,#75213b 528.5px,#75213b 536.8px,#6e1e38 536.8px,#6e1e38 545px,#661c34 545px,#661c34 553px,#5e1a30 553px,#5e1a30 561px,#56182d 561px,#56182d 568.5px,#4e1629 568.5px,#4e1629 575.2px,#461425 575.2px,#461425 582px,#3f1122 582px,#3f1122 589px,#370f1e 589px,#370f1e 596.8px,#2f0d1b 596.8px,#2f0d1b 606px,#270b17 606px,#270b17 617.5px,#1f0913 617.5px,#1f0913 629.5px,#170710 629.5px,#170710 642.8px,#10040c 642.8px,#10040c 659px,#080209 659px)"></i>
<i style="left:24px;background:linear-gradient(#eed893 27px,#ebcf90 27px,#ebcf90 88.5px,#e8c78d 88.5px,#e8c78d 135px,#e5be8a 135px,#e5be8a 174.8px,#e2b587 174.8px,#e2b587 209.5px,#dfac84 209.5px,#dfac84 240.2px,#dca481 240.2px,#dca481 267.8px,#d99b7e 267.8px,#d99b7e 293px,#d5927a 293px,#d5927a 313.8px,#d28977 313.8px,#d28977 331.2px,#cf8174 331.2px,#cf8174 347px,#cc7871 347px,#cc7871 361.8px,#c96f6e 361.8px,#c96f6e 375.8px,#c6666b 375.8px,#c6666b 389.2px,#c35e68 389.2px,#c35e68 402.2px,#c05565 402.2px,#c05565 414.5px,#bd4c61 414.5px,#bd4c61 425.8px,#ba435e 425.8px,#ba435e 436.8px,#b73b5b 436.8px,#b73b5b 447.2px,#b43258 447.2px,#b43258 457.5px,#b43258 457.5px,#b43258 467.2px,#ac3054 467.2px,#ac3054 476.5px,#a42e51 476.5px,#a42e51 485.2px,#9d2b4d 485.2px,#9d2b4d 494px,#95294a 494px,#95294a 502.5px,#8d2746 502.5px,#8d2746 511.2px,#852542 511.2px,#852542 519.8px,#7d233f 519.8px,#7d233f 528.2px,#75213b 528.2px,#75213b 536.8px,#6e1e38 536.8px,#6e1e38 545px,#661c34 545px,#661c34 553px,#5e1a30 553px,#5e1a30 561px,#56182d 561px,#56182d 568.5px,#4e1629 568.5px,#4e1629 575.8px,#461425 575.8px,#461425 582.8px,#3f1122 582.8px,#3f1122 590px,#370f1e 590px,#370f1e 597.5px,#2f0d1b 597.5px,#2f0d1b 605.8px,#270b17 605.8px,#270b17 614px,#1f0913 614px,#1f0913 621.5px,#170710 621.5px,#170710 629.2px,#10040c 629.2px,#10040c 638.2px,#080209 638.2px,#080209 651.8px,#000005 651.8px)"></i>
<i style="left:25px;background:linear-gradient(#eed893 26.2px,#ebcf90 26.2px,#ebcf90 87.5px,#e8c78d 87.5px,#e8c78d 134px,#e5be8a 134px,#e5be8a 174px,#e2b587 174px,#e2b587 208.8px,#dfac84 208.8px,#dfac84 239.5px,#dca481 239.5px,#dca481 267px,#d99b7e 267px,#d99b7e 292.2px,#d5927a 292.2px,#d5927a 313.2px,#d28977 313.2px,#d28977 331px,#cf8174 331px,#cf8174 346.8px,#cc7871 346.8px,#cc7871 361.2px,#c96f6e 361.2px,#c96f6e 375.5px,#c6666b 375.5px,#c6666b 389.2px,#c35e68 389.2px,#c35e68 402.2px,#c05565 402.2px,#c05565 414.2px,#bd4c61 414.2px,#bd4c61 425.8px,#ba435e 425.8px,#ba435e 436.8px,#b73b5b 436.8px,#b73b5b 447.2px,#b43258 447.2px,#b43258 457.5px,#b43258 457.5px,#b43258 467.2px,#ac3054 467.2px,#ac3054 476.2px,#a42e51 476.2px,#a42e51 485.2px,#9d2b4d 485.2px,#9d2b4d 493.8px,#95294a 493.8px,#95294a 502.5px,#8d2746 502.5px,#8d2746 511px,#852542 511px,#852542 519.5px,#7d233f 519.5px,#7d233f 528.2px,#75213b 528.2px,#75213b 536.5px,#6e1e38 536.5px,#6e1e38 545px,#661c34 545px,#661c34 553px,#5e1a30 553px,#5e1a30 561px,#56182d 561px,#56182d 569px,#4e1629 569px,#4e1629 577px,#461425 577px,#461425 584.5px,#3f1122 584.5px,#3f1122 592px,#370f1e 592px,#370f1e 599px,#2f0d1b 599px,#2f0d1b 605.5px,#270b17 605.5px,#270b17 610.5px,#1f0913 610.5px,#1f0913 614.5px,#170710 614.5px,#170710 618.5px,#10040c 618.5px,#10040c 623px,#080209 623px,#080209 629.5px,#000005 629.5px)"></i>
<i style="left:26px;background:linear-gradient(#eed893 25.5px,#ebcf90 25.5px,#ebcf90 86.5px,#e8c78d 86.5px,#e8c78d 133px,#e5be8a 133px,#e5be8a 173px,#e2b587 173px,#e2b587 207.8px,#dfac84 207.8px,#dfac84 238.8px,#dca481 238.8px,#dca481 266.5px,#d99b7e 266.5px,#d99b7e 291.8px,#d5927a 291.8px,#d5927a 312.8px,#d28977 312.8px,#d28977 330.5px,#cf8174 330.5px,#cf8174 346.2px,#cc7871 346.2px,#cc7871 361px,#c96f6e 361px,#c96f6e 375.2px,#c6666b 375.2px,#c6666b 389px,#c35e68 389px,#c35e68 402px,#c05565 402px,#c05565 414.2px,#bd4c61 414.2px,#bd4c61 425.5px,#ba435e 425.5px,#ba435e 436.5px,#b73b5b 436.5px,#b73b5b 447px,#b43258 447px,#b43258 457.2px,#b43258 457.2px,#b43258 467px,#ac3054 467px,#ac3054 476.2px,#a42e51 476.2px,#a42e51 485px,#9d2b4d 485px,#9d2b4d 493.8px,#95294a 493.8px,#95294a 502.2px,#8d2746 502.2px,#8d2746 510.8px,#852542 510.8px,#852542 519.5px,#7d233f 519.5px,#7d233f 528px,#75213b 528px,#75213b 536.5px,#6e1e38 536.5px,#6e1e38 545px,#661c34 545px,#661c34 553px,#5e1a30 553px,#5e1a30 561px,#56182d 561px,#56182d 569px,#4e1629 569px,#4e1629 577px,#461425 577px,#461425 584.8px,#3f1122 584.8px,#3f1122 592.2px,#370f1e 592.2px,#370f1e 599px,#2f0d1b 599px,#2f0d1b 605px,#270b17 605px,#270b17 609.8px,#1f0913 609.8px,#1f0913 613.5px,#170710 613.5px,#170710 617px,#10040c 617px,#10040c 620.8px,#080209 620.8px,#080209 626.5px,#000005 626.5px)"></i>
<i style="left:27px;background:linear-gradient(#eed893 24.8px,#ebcf90 24.8px,#ebcf90 85.5px,#e8c78d 85.5px,#e8c78d 132px,#e5be8a 132px,#e5be8a 172px,#e2b587 172px,#e2b587 207px,#dfac84 207px,#dfac84 238px,#dca481 238px,#dca481 265.8px,#d99b7e 265.8px,#d99b7e 291px,#d5927a 291px,#d5927a 312.2px,#d28977 312.2px,#d28977 330px,#cf8174 330px,#cf8174 346px,#cc7871 346px,#cc7871 360.8px,#c96f6e 360.8px,#c96f6e 375px,#c6666b 375px,#c6666b 388.8px,#c35e68 388.8px,#c35e68 401.8px,#c05565 401.8px,#c05565 414px,#bd4c61 414px,#bd4c61 425.5px,#ba435e 425.5px,#ba435e 436.5px,#b73b5b 436.5px,#b73b5b 447px,#b43258 447px,#b43258 457.2px,#b43258 457.2px,#b43258 467px,#ac3054 467px,#ac3054 476px,#a42e51 476px,#a42e51 485px,#9d2b4d 485px,#9d2b4d 493.5px,#95294a 493.5px,#95294a 502px,#8d2746 502px,#8d2746 510.8px,#852542 510.8px,#852542 519.2px,#7d233f 519.2px,#7d233f 528px,#75213b 528px,#75213b 536.5px,#6e1e38 536.5px,#6e1e38 545px,#661c34 545px,#661c34 553px,#5e1a30 553px,#5e1a30 561px,#56182d 561px,#56182d 569px,#4e1629 569px,#4e1629 577.2px,#461425 577.2px,#461425 585.2px,#3f1122 585.2px,#3f1122 592.5px,#370f1e 592.5px,#370f1e 599px,#2f0d1b 599px,#2f0d1b 604.8px,#270b17 604.8px,#270b17 609px,#1f0913 609px,#1f0913 612.2px,#170710 612.2px,#170710 615.2px,#10040c 615.2px,#10040c 618.5px,#080209 618.5px,#080209 623.5px,#000005 623.5px)"></i>
<i style="left:28px;background:linear-gradient(#eed893 24.2px,#ebcf90 24.2px,#ebcf90 84.5px,#e8c78d 84.5px,#e8c78d 131px,#e5be8a 131px,#e5be8a 171px,#e2b587 171px,#e2b587 206px,#dfac84 206px,#dfac84 237px,#dca481 237px,#dca481 265px,#d99b7e 265px,#d99b7e 290.5px,#d5927a 290.5px,#d5927a 311.8px,#d28977 311.8px,#d28977 329.5px,#cf8174 329.5px,#cf8174 345.5px,#cc7871 345.5px,#cc7871 360.5px,#c96f6e 360.5px,#c96f6e 374.8px,#c6666b 374.8px,#c6666b 388.5px,#c35e68 388.5px,#c35e68 401.8px,#c05565 401.8px,#c05565 413.8px,#bd4c61 413.8px,#bd4c61 425.2px,#ba435e 425.2px,#ba435e 436.2px,#b73b5b 436.2px,#b73b5b 446.8px,#b43258 446.8px,#b43258 457px,#b43258 457px,#b43258 466.8px,#ac3054 466.8px,#ac3054 476px,#a42e51 476px,#a42e51 484.8px,#9d2b4d 484.8px,#9d2b4d 493.2px,#95294a 493.2px,#95294a 502px,#8d2746 502px,#8d2746 510.5px,#852542 510.5px,#852542 519.2px,#7d233f 519.2px,#7d233f 527.8px,#75213b 527.8px,#75213b 536.5px,#6e1e38 536.5px,#6e1e38 544.8px,#661c34 544.8px,#661c34 553px,#5e1a30 553px,#5e1a30 561px,#56182d 561px,#56182d 569.2px,#4e1629 569.2px,#4e1629 577.5px,#461425 577.5px,#461425 585.5px,#3f1122 585.5px,#3f1122 592.5px,#370f1e 592.5px,#370f1e 599px,#2f0d1b 599px,#2f0d1b 604.5px,#270b17 604.5px,#270b17 608.2px,#1f0913 608.2px,#1f0913 611.2px,#170710 611.2px,#170710 614px,#10040c 614px,#10040c 617px,#080209 617px,#080209 621.5px,#000005 621.5px)"></i>
<i style="left:29px;background:linear-gradient(#eed893 23.5px,#ebcf90 23.5px,#ebcf90 83.5px,#e8c78d 83.5px,#e8c78d 129.2px,#e5be8a 129.2px,#e5be8a 168.2px,#e2b587 168.2px,#e2b587 202.5px,#dfac84 202.5px,#dfac84 233.2px,#dca481 233.2px,#dca481 261.2px,#d99b7e 261.2px,#d99b7e 286.5px,#d5927a 286.5px,#d5927a 308.5px,#d28977 308.5px,#d28977 327px,#cf8174 327px,#cf8174 343.8px,#cc7871 343.8px,#cc7871 359.2px,#c96f6e 359.2px,#c96f6e 374.2px,#c6666b 374.2px,#c6666b 388.2px,#c35e68 388.2px,#c35e68 401.8px,#c05565 401.8px,#c05565 413.8px,#bd4c61 413.8px,#bd4c61 425.2px,#ba435e 425.2px,#ba435e 436.2px,#b73b5b 436.2px,#b73b5b 446.8px,#b43258 446.8px,#b43258 457px,#b43258 457px,#b43258 466.8px,#ac3054 466.8px,#ac3054 475.8px,#a42e51 475.8px,#a42e51 484.5px,#9d2b4d 484.5px,#9d2b4d 493.2px,#95294a 493.2px,#95294a 501.8px,#8d2746 501.8px,#8d2746 510.2px,#852542 510.2px,#852542 519px,#7d233f 519px,#7d233f 527.8px,#75213b 527.8px,#75213b 536.5px,#6e1e38 536.5px,#6e1e38 544.8px,#661c34 544.8px,#661c34 553px,#5e1a30 553px,#5e1a30 561px,#56182d 561px,#56182d 569.2px,#4e1629 569.2px,#4e1629 577.5px,#461425 577.5px,#461425 585.5px,#3f1122 585.5px,#3f1122 592.8px,#370f1e 592.8px,#370f1e 598.8px,#2f0d1b 598.8px,#2f0d1b 604.2px,#270b17 604.2px,#270b17 607.8px,#1f0913 607.8px,#1f0913 610.5px,#170710 610.5px,#170710 613px,#10040c 613px,#10040c 615.8px,#080209 615.8px,#080209 620px,#000005 620px)"></i>
<i style="left:30px;background:linear-gradient(#eed893 22.8px,#ebcf90 22.8px,#ebcf90 82px,#e8c78d 82px,#e8c78d 126.8px,#e5be8a 126.8px,#e5be8a 165.2px,#e2b587 165.2px,#e2b587 199px,#dfac84 199px,#dfac84 229.5px,#dca481 229.5px,#dca481 257.2px,#d99b7e 257.2px,#d99b7e 282.8px,#d5927a 282.8px,#d5927a 305px,#d28977 305px,#d28977 324.2px,#cf8174 324.2px,#cf8174 341.5px,#cc7871 341.5px,#cc7871 357.8px,#c96f6e 357.8px,#c96f6e 372.8px,#c6666b 372.8px,#c6666b 387.5px,#c35e68 387.5px,#c35e68 401px,#c05565 401px,#c05565 413.2px,#bd4c61 413.2px,#bd4c61 425px,#ba435e 425px,#ba435e 436px,#b73b5b 436px,#b73b5b 446.5px,#b43258 446.5px,#b43258 456.8px,#b43258 456.8px,#b43258 466.5px,#ac3054 466.5px,#ac3054 475.8px,#a42e51 475.8px,#a42e51 484.5px,#9d2b4d 484.5px,#9d2b4d 493px,#95294a 493px,#95294a 501.5px,#8d2746 501.5px,#8d2746 510px,#852542 510px,#852542 518.8px,#7d233f 518.8px,#7d233f 527.8px,#75213b 527.8px,#75213b 536.2px,#6e1e38 536.2px,#6e1e38 544.8px,#661c34 544.8px,#661c34 553px,#5e1a30 553px,#5e1a30 561px,#56182d 561px,#56182d 569.2px,#4e1629 569.2px,#4e1629 577.8px,#461425 577.8px,#461425 585.8px,#3f1122 585.8px,#3f1122 592.8px,#370f1e 592.8px,#370f1e 598.8px,#2f0d1b 598.8px,#2f0d1b 603.8px,#270b17 603.8px,#270b17 607.2px,#1f0913 607.2px,#1f0913 609.8px,#170710 609.8px,#170710 612px,#10040c 612px,#10040c 614.8px,#080209 614.8px,#080209 618.5px,#000005 618.5px)"></i>
<i style="left:31px;background:linear-gradient(#eed893 22px,#ebcf90 22px,#ebcf90 80px,#e8c78d 80px,#e8c78d 124.8px,#e5be8a 124.8px,#e5be8a 163.5px,#e2b587 163.5px,#e2b587 197.8px,#dfac84 197.8px,#dfac84 228.5px,#dca481 228.5px,#dca481 256.5px,#d99b7e 256.5px,#d99b7e 282px,#d5927a 282px,#d5927a 304.2px,#d28977 304.2px,#d28977 323.2px,#cf8174 323.2px,#cf8174 340.5px,#cc7871 340.5px,#cc7871 356.5px,#c96f6e 356.5px,#c96f6e 371.8px,#c6666b 371.8px,#c6666b 386.2px,#c35e68 386.2px,#c35e68 400px,#c05565 400px,#c05565 412.5px,#bd4c61 412.5px,#bd4c61 424.5px,#ba435e 424.5px,#ba435e 435.5px,#b73b5b 435.5px,#b73b5b 446.2px,#b43258 446.2px,#b43258 456.8px,#b43258 456.8px,#b43258 466.5px,#ac3054 466.5px,#ac3054 475.5px,#a42e51 475.5px,#a42e51 484.2px,#9d2b4d 484.2px,#9d2b4d 492.8px,#95294a 492.8px,#95294a 501.2px,#8d2746 501.2px,#8d2746 510px,#852542 510px,#852542 518.8px,#7d233f 518.8px,#7d233f 527.5px,#75213b 527.5px,#75213b 536.2px,#6e1e38 536.2px,#6e1e38 544.8px,#661c34 544.8px,#661c34 553.2px,#5e1a30 553.2px,#5e1a30 561px,#56182d 561px,#56182d 569.2px,#4e1629 569.2px,#4e1629 578px,#461425 578px,#461425 585.8px,#3f1122 585.8px,#3f1122 592.8px,#370f1e 592.8px,#370f1e 598.5px,#2f0d1b 598.5px,#2f0d1b 603.5px,#270b17 603.5px,#270b17 606.8px,#1f0913 606.8px,#1f0913 609px,#170710 609px,#170710 611.2px,#10040c 611.2px,#10040c 613.5px,#080209 613.5px,#080209 617px,#000005 617px)"></i>
<i style="left:32px;background:linear-gradient(#eed893 21.2px,#ebcf90 21.2px,#ebcf90 78px,#e8c78d 78px,#e8c78d 122.8px,#e5be8a 122.8px,#e5be8a 161.8px,#e2b587 161.8px,#e2b587 196.5px,#dfac84 196.5px,#dfac84 227.5px,#dca481 227.5px,#dca481 255.5px,#d99b7e 255.5px,#d99b7e 281.2px,#d5927a 281.2px,#d5927a 303.5px,#d28977 303.5px,#d28977 322.5px,#cf8174 322.5px,#cf8174 339.5px,#cc7871 339.5px,#cc7871 355.5px,#c96f6e 355.5px,#c96f6e 370.5px,#c6666b 370.5px,#c6666b 385.2px,#c35e68 385.2px,#c35e68 399px,#c05565 399px,#c05565 411.8px,#bd4c61 411.8px,#bd4c61 423.8px,#ba435e 423.8px,#ba435e 435.2px,#b73b5b 435.2px,#b73b5b 446.2px,#b43258 446.2px,#b43258 456.8px,#b43258 456.8px,#b43258 466.5px,#ac3054 466.5px,#ac3054 475.5px,#a42e51 475.5px,#a42e51 484.2px,#9d2b4d 484.2px,#9d2b4d 492.8px,#95294a 492.8px,#95294a 501.2px,#8d2746 501.2px,#8d2746 509.8px,#852542 509.8px,#852542 518.5px,#7d233f 518.5px,#7d233f 527.5px,#75213b 527.5px,#75213b 536.2px,#6e1e38 536.2px,#6e1e38 544.8px,#661c34 544.8px,#661c34 553.2px,#5e1a30 553.2px,#5e1a30 561px,#56182d 561px,#56182d 569.5px,#4e1629 569.5px,#4e1629 578px,#461425 578px,#461425 586px,#3f1122 586px,#3f1122 592.8px,#370f1e 592.8px,#370f1e 598.5px,#2f0d1b 598.5px,#2f0d1b 603.2px,#270b17 603.2px,#270b17 606.2px,#1f0913 606.2px,#1f0913 608.2px,#170710 608.2px,#170710 610.2px,#10040c 610.2px,#10040c 612.2px,#080209 612.2px,#080209 615.5px,#000005 615.5px)"></i>
<i style="left:33px;background:linear-gradient(#eed893 20.5px,#ebcf90 20.5px,#ebcf90 76px,#e8c78d 76px,#e8c78d 120.5px,#e5be8a 120.5px,#e5be8a 160px,#e2b587 160px,#e2b587 195px,#dfac84 195px,#dfac84 226.5px,#dca481 226.5px,#dca481 254.8px,#d99b7e 254.8px,#d99b7e 280.8px,#d5927a 280.8px,#d5927a 302.8px,#d28977 302.8px,#d28977 321.5px,#cf8174 321.5px,#cf8174 338.5px,#cc7871 338.5px,#cc7871 354.2px,#c96f6e 354.2px,#c96f6e 369.5px,#c6666b 369.5px,#c6666b 384px,#c35e68 384px,#c35e68 398px,#c05565 398px,#c05565 411px,#bd4c61 411px,#bd4c61 423.2px,#ba435e 423.2px,#ba435e 435px,#b73b5b 435px,#b73b5b 446px,#b43258 446px,#b43258 456.5px,#b43258 456.5px,#b43258 466.2px,#ac3054 466.2px,#ac3054 475.5px,#a42e51 475.5px,#a42e51 484px,#9d2b4d 484px,#9d2b4d 492.5px,#95294a 492.5px,#95294a 501px,#8d2746 501px,#8d2746 509.5px,#852542 509.5px,#852542 518.5px,#7d233f 518.5px,#7d233f 527.2px,#75213b 527.2px,#75213b 536.2px,#6e1e38 536.2px,#6e1e38 544.8px,#661c34 544.8px,#661c34 553.2px,#5e1a30 553.2px,#5e1a30 561px,#56182d 561px,#56182d 569.5px,#4e1629 569.5px,#4e1629 578.2px,#461425 578.2px,#461425 586.2px,#3f1122 586.2px,#3f1122 592.8px,#370f1e 592.8px,#370f1e 598.2px,#2f0d1b 598.2px,#2f0d1b 603px,#270b17 603px,#270b17 605.5px,#1f0913 605.5px,#1f0913 607.5px,#170710 607.5px,#170710 609.2px,#10040c 609.2px,#10040c 611.2px,#080209 611.2px,#080209 614px,#000005 614px)"></i>
<i style="left:34px;background:linear-gradient(#eed893 20px,#ebcf90 20px,#ebcf90 73.5px,#e8c78d 73.5px,#e8c78d 117.5px,#e5be8a 117.5px,#e5be8a 157.5px,#e2b587 157.5px,#e2b587 193.2px,#dfac84 193.2px,#dfac84 225.2px,#dca481 225.2px,#dca481 254px,#d99b7e 254px,#d99b7e 280px,#d5927a 280px,#d5927a 302px,#d28977 302px,#d28977 320.8px,#cf8174 320.8px,#cf8174 337.8px,#cc7871 337.8px,#cc7871 353.5px,#c96f6e 353.5px,#c96f6e 368.5px,#c6666b 368.5px,#c6666b 383.2px,#c35e68 383.2px,#c35e68 397.5px,#c05565 397.5px,#c05565 410.5px,#bd4c61 410.5px,#bd4c61 423px,#ba435e 423px,#ba435e 434.8px,#b73b5b 434.8px,#b73b5b 446px,#b43258 446px,#b43258 456.5px,#b43258 456.5px,#b43258 466.5px,#ac3054 466.5px,#ac3054 475.5px,#a42e51 475.5px,#a42e51 484px,#9d2b4d 484px,#9d2b4d 492.5px,#95294a 492.5px,#95294a 501px,#8d2746 501px,#8d2746 509.5px,#852542 509.5px,#852542 518.5px,#7d233f 518.5px,#7d233f 527.2px,#75213b 527.2px,#75213b 536.2px,#6e1e38 536.2px,#6e1e38 545px,#661c34 545px,#661c34 553.2px,#5e1a30 553.2px,#5e1a30 561.2px,#56182d 561.2px,#56182d 569.5px,#4e1629 569.5px,#4e1629 578px,#461425 578px,#461425 585.8px,#3f1122 585.8px,#3f1122 592.5px,#370f1e 592.5px,#370f1e 598px,#2f0d1b 598px,#2f0d1b 602.8px,#270b17 602.8px,#270b17 605.8px,#1f0913 605.8px,#1f0913 607.8px,#170710 607.8px,#170710 609.8px,#10040c 609.8px,#10040c 612px,#080209 612px,#080209 615px,#000005 615px)"></i>
<i style="left:35px;background:linear-gradient(#eed893 19.2px,#ebcf90 19.2px,#ebcf90 70px,#e8c78d 70px,#e8c78d 113.8px,#e5be8a 113.8px,#e5be8a 154.2px,#e2b587 154.2px,#e2b587 191px,#dfac84 191px,#dfac84 224px,#dca481 224px,#dca481 253.2px,#d99b7e 253.2px,#d99b7e 280px,#d5927a 280px,#d5927a 302.5px,#d28977 302.5px,#d28977 321.5px,#cf8174 321.5px,#cf8174 338.8px,#cc7871 338.8px,#cc7871 355px,#c96f6e 355px,#c96f6e 370.2px,#c6666b 370.2px,#c6666b 385.2px,#c35e68 385.2px,#c35e68 399.2px,#c05565 399.2px,#c05565 412.2px,#bd4c61 412.2px,#bd4c61 424.8px,#ba435e 424.8px,#ba435e 436.2px,#b73b5b 436.2px,#b73b5b 447.5px,#b43258 447.5px,#b43258 458px,#b43258 458px,#b43258 467.8px,#ac3054 467.8px,#ac3054 477px,#a42e51 477px,#a42e51 485.5px,#9d2b4d 485.5px,#9d2b4d 494px,#95294a 494px,#95294a 502.5px,#8d2746 502.5px,#8d2746 511px,#852542 511px,#852542 519.8px,#7d233f 519.8px,#7d233f 528.8px,#75213b 528.8px,#75213b 537.8px,#6e1e38 537.8px,#6e1e38 546.5px,#661c34 546.5px,#661c34 554.8px,#5e1a30 554.8px,#5e1a30 562.8px,#56182d 562.8px,#56182d 570.8px,#4e1629 570.8px,#4e1629 579.2px,#461425 579.2px,#461425 587px,#3f1122 587px,#3f1122 593.5px,#370f1e 593.5px,#370f1e 599px,#2f0d1b 599px,#2f0d1b 603.8px,#270b17 603.8px,#270b17 606.8px,#1f0913 606.8px,#1f0913 609px,#170710 609px,#170710 611px,#10040c 611px,#10040c 613px,#080209 613px,#080209 616.2px,#000005 616.2px)"></i>
<i style="left:36px;background:linear-gradient(#eed893 19.8px,#ebcf90 19.8px,#ebcf90 73.5px,#e8c78d 73.5px,#e8c78d 117.5px,#e5be8a 117.5px,#e5be8a 157.5px,#e2b587 157.5px,#e2b587 193px,#dfac84 193px,#dfac84 225.2px,#dca481 225.2px,#dca481 254.2px,#d99b7e 254.2px,#d99b7e 280.5px,#d5927a 280.5px,#d5927a 303.2px,#d28977 303.2px,#d28977 322.8px,#cf8174 322.8px,#cf8174 340.2px,#cc7871 340.2px,#cc7871 356.5px,#c96f6e 356.5px,#c96f6e 372px,#c6666b 372px,#c6666b 387px,#c35e68 387px,#c35e68 401px,#c05565 401px,#c05565 414px,#bd4c61 414px,#bd4c61 426.2px,#ba435e 426.2px,#ba435e 437.8px,#b73b5b 437.8px,#b73b5b 448.8px,#b43258 448.8px,#b43258 459.5px,#b43258 459.5px,#b43258 469.2px,#ac3054 469.2px,#ac3054 478.2px,#a42e51 478.2px,#a42e51 487px,#9d2b4d 487px,#9d2b4d 495.2px,#95294a 495.2px,#95294a 503.8px,#8d2746 503.8px,#8d2746 512.2px,#852542 512.2px,#852542 521.2px,#7d233f 521.2px,#7d233f 530.2px,#75213b 530.2px,#75213b 539.2px,#6e1e38 539.2px,#6e1e38 548px,#661c34 548px,#661c34 556.2px,#5e1a30 556.2px,#5e1a30 564.2px,#56182d 564.2px,#56182d 572.2px,#4e1629 572.2px,#4e1629 580.5px,#461425 580.5px,#461425 588.2px,#3f1122 588.2px,#3f1122 594.8px,#370f1e 594.8px,#370f1e 600.2px,#2f0d1b 600.2px,#2f0d1b 605px,#270b17 605px,#270b17 607.8px,#1f0913 607.8px,#1f0913 610px,#170710 610px,#170710 612px,#10040c 612px,#10040c 614.2px,#080209 614.2px,#080209 617.5px,#000005 617.5px)"></i>
<i style="left:37px;background:linear-gradient(#eed893 20.2px,#ebcf90 20.2px,#ebcf90 75.2px,#e8c78d 75.2px,#e8c78d 119.5px,#e5be8a 119.5px,#e5be8a 159px,#e2b587 159px,#e2b587 194.2px,#dfac84 194.2px,#dfac84 226px,#dca481 226px,#dca481 255px,#d99b7e 255px,#d99b7e 281.2px,#d5927a 281.2px,#d5927a 304px,#d28977 304px,#d28977 323.8px,#cf8174 323.8px,#cf8174 341.5px,#cc7871 341.5px,#cc7871 358px,#c96f6e 358px,#c96f6e 373.8px,#c6666b 373.8px,#c6666b 388.8px,#c35e68 388.8px,#c35e68 402.8px,#c05565 402.8px,#c05565 415.8px,#bd4c61 415.8px,#bd4c61 428px,#ba435e 428px,#ba435e 439.5px,#b73b5b 439.5px,#b73b5b 450.2px,#b43258 450.2px,#b43258 460.8px,#b43258 460.8px,#b43258 470.8px,#ac3054 470.8px,#ac3054 479.8px,#a42e51 479.8px,#a42e51 488.2px,#9d2b4d 488.2px,#9d2b4d 496.8px,#95294a 496.8px,#95294a 505.2px,#8d2746 505.2px,#8d2746 513.8px,#852542 513.8px,#852542 522.5px,#7d233f 522.5px,#7d233f 531.8px,#75213b 531.8px,#75213b 540.8px,#6e1e38 540.8px,#6e1e38 549.5px,#661c34 549.5px,#661c34 557.8px,#5e1a30 557.8px,#5e1a30 565.8px,#56182d 565.8px,#56182d 573.8px,#4e1629 573.8px,#4e1629 581.8px,#461425 581.8px,#461425 589.2px,#3f1122 589.2px,#3f1122 595.8px,#370f1e 595.8px,#370f1e 601.2px,#2f0d1b 601.2px,#2f0d1b 606px,#270b17 606px,#270b17 609px,#1f0913 609px,#1f0913 611.2px,#170710 611.2px,#170710 613.2px,#10040c 613.2px,#10040c 615.5px,#080209 615.5px,#080209 618.8px,#000005 618.8px)"></i>
<i style="left:38px;background:linear-gradient(#eed893 20.5px,#ebcf90 20.5px,#ebcf90 75.8px,#e8c78d 75.8px,#e8c78d 120px,#e5be8a 120px,#e5be8a 159.5px,#e2b587 159.5px,#e2b587 194.8px,#dfac84 194.8px,#dfac84 226.5px,#dca481 226.5px,#dca481 255.5px,#d99b7e 255.5px,#d99b7e 281.8px,#d5927a 281.8px,#d5927a 305px,#d28977 305px,#d28977 325px,#cf8174 325px,#cf8174 343px,#cc7871 343px,#cc7871 359.8px,#c96f6e 359.8px,#c96f6e 375.5px,#c6666b 375.5px,#c6666b 390.5px,#c35e68 390.5px,#c35e68 404.8px,#c05565 404.8px,#c05565 417.5px,#bd4c61 417.5px,#bd4c61 429.5px,#ba435e 429.5px,#ba435e 441px,#b73b5b 441px,#b73b5b 451.8px,#b43258 451.8px,#b43258 462.2px,#b43258 462.2px,#b43258 472px,#ac3054 472px,#ac3054 481.2px,#a42e51 481.2px,#a42e51 489.8px,#9d2b4d 489.8px,#9d2b4d 498.2px,#95294a 498.2px,#95294a 506.8px,#8d2746 506.8px,#8d2746 515.5px,#852542 515.5px,#852542 524.2px,#7d233f 524.2px,#7d233f 533.2px,#75213b 533.2px,#75213b 542.2px,#6e1e38 542.2px,#6e1e38 551px,#661c34 551px,#661c34 559.2px,#5e1a30 559.2px,#5e1a30 567px,#56182d 567px,#56182d 575px,#4e1629 575px,#4e1629 583px,#461425 583px,#461425 590.5px,#3f1122 590.5px,#3f1122 596.8px,#370f1e 596.8px,#370f1e 602.2px,#2f0d1b 602.2px,#2f0d1b 607px,#270b17 607px,#270b17 610px,#1f0913 610px,#1f0913 612.2px,#170710 612.2px,#170710 614.2px,#10040c 614.2px,#10040c 616.5px,#080209 616.5px,#080209 620px,#000005 620px)"></i>
<i style="left:39px;background:linear-gradient(#eed893 21px,#ebcf90 21px,#ebcf90 76.2px,#e8c78d 76.2px,#e8c78d 120.5px,#e5be8a 120.5px,#e5be8a 159.8px,#e2b587 159.8px,#e2b587 195px,#dfac84 195px,#dfac84 227px,#dca481 227px,#dca481 256px,#d99b7e 256px,#d99b7e 282.5px,#d5927a 282.5px,#d5927a 305.8px,#d28977 305.8px,#d28977 326px,#cf8174 326px,#cf8174 344.2px,#cc7871 344.2px,#cc7871 361.2px,#c96f6e 361.2px,#c96f6e 377px,#c6666b 377px,#c6666b 392.2px,#c35e68 392.2px,#c35e68 406.5px,#c05565 406.5px,#c05565 419.2px,#bd4c61 419.2px,#bd4c61 431.2px,#ba435e 431.2px,#ba435e 442.8px,#b73b5b 442.8px,#b73b5b 453.5px,#b43258 453.5px,#b43258 464px,#b43258 464px,#b43258 474px,#ac3054 474px,#ac3054 483.2px,#a42e51 483.2px,#a42e51 492px,#9d2b4d 492px,#9d2b4d 500.5px,#95294a 500.5px,#95294a 509px,#8d2746 509px,#8d2746 517.8px,#852542 517.8px,#852542 526.5px,#7d233f 526.5px,#7d233f 535.5px,#75213b 535.5px,#75213b 544.2px,#6e1e38 544.2px,#6e1e38 552.8px,#661c34 552.8px,#661c34 561px,#5e1a30 561px,#5e1a30 568.8px,#56182d 568.8px,#56182d 576.5px,#4e1629 576.5px,#4e1629 584.5px,#461425 584.5px,#461425 591.8px,#3f1122 591.8px,#3f1122 598px,#370f1e 598px,#370f1e 603.5px,#2f0d1b 603.5px,#2f0d1b 608.2px,#270b17 608.2px,#270b17 611.2px,#1f0913 611.2px,#1f0913 613.2px,#170710 613.2px,#170710 615.5px,#10040c 615.5px,#10040c 617.8px,#080209 617.8px,#080209 621px,#000005 621px)"></i>
<i style="left:40px;background:linear-gradient(#eed893 21.5px,#ebcf90 21.5px,#ebcf90 76.5px,#e8c78d 76.5px,#e8c78d 120.8px,#e5be8a 120.8px,#e5be8a 160.2px,#e2b587 160.2px,#e2b587 195.5px,#dfac84 195.5px,#dfac84 227.5px,#dca481 227.5px,#dca481 256.5px,#d99b7e 256.5px,#d99b7e 283.2px,#d5927a 283.2px,#d5927a 306.5px,#d28977 306.5px,#d28977 327px,#cf8174 327px,#cf8174 345.2px,#cc7871 345.2px,#cc7871 362.5px,#c96f6e 362.5px,#c96f6e 378.5px,#c6666b 378.5px,#c6666b 394px,#c35e68 394px,#c35e68 408px,#c05565 408px,#c05565 421px,#bd4c61 421px,#bd4c61 433.2px,#ba435e 433.2px,#ba435e 444.8px,#b73b5b 444.8px,#b73b5b 455.5px,#b43258 455.5px,#b43258 466.2px,#b43258 466.2px,#b43258 476px,#ac3054 476px,#ac3054 485.2px,#a42e51 485.2px,#a42e51 494.2px,#9d2b4d 494.2px,#9d2b4d 502.8px,#95294a 502.8px,#95294a 511.2px,#8d2746 511.2px,#8d2746 520px,#852542 520px,#852542 528.8px,#7d233f 528.8px,#7d233f 537.5px,#75213b 537.5px,#75213b 546.2px,#6e1e38 546.2px,#6e1e38 554.8px,#661c34 554.8px,#661c34 563px,#5e1a30 563px,#5e1a30 570.5px,#56182d 570.5px,#56182d 578.2px,#4e1629 578.2px,#4e1629 585.8px,#461425 585.8px,#461425 593px,#3f1122 593px,#3f1122 599.2px,#370f1e 599.2px,#370f1e 604.5px,#2f0d1b 604.5px,#2f0d1b 609.2px,#270b17 609.2px,#270b17 612.2px,#1f0913 612.2px,#1f0913 614.5px,#170710 614.5px,#170710 616.8px,#10040c 616.8px,#10040c 619px,#080209 619px,#080209 622.5px,#000005 622.5px)"></i>
<i style="left:41px;background:linear-gradient(#eed893 21.8px,#ebcf90 21.8px,#ebcf90 77px,#e8c78d 77px,#e8c78d 121.2px,#e5be8a 121.2px,#e5be8a 160.8px,#e2b587 160.8px,#e2b587 196px,#dfac84 196px,#dfac84 228px,#dca481 228px,#dca481 257px,#d99b7e 257px,#d99b7e 283.8px,#d5927a 283.8px,#d5927a 307.5px,#d28977 307.5px,#d28977 328px,#cf8174 328px,#cf8174 346.5px,#cc7871 346.5px,#cc7871 363.8px,#c96f6e 363.8px,#c96f6e 380px,#c6666b 380px,#c6666b 395.5px,#c35e68 395.5px,#c35e68 409.8px,#c05565 409.8px,#c05565 423px,#bd4c61 423px,#bd4c61 435px,#ba435e 435px,#ba435e 446.5px,#b73b5b 446.5px,#b73b5b 457.8px,#b43258 457.8px,#b43258 468.2px,#b43258 468.2px,#b43258 478.2px,#ac3054 478.2px,#ac3054 487.5px,#a42e51 487.5px,#a42e51 496.5px,#9d2b4d 496.5px,#9d2b4d 505px,#95294a 505px,#95294a 513.5px,#8d2746 513.5px,#8d2746 522.2px,#852542 522.2px,#852542 531px,#7d233f 531px,#7d233f 539.8px,#75213b 539.8px,#75213b 548.5px,#6e1e38 548.5px,#6e1e38 556.8px,#661c34 556.8px,#661c34 564.8px,#5e1a30 564.8px,#5e1a30 572.2px,#56182d 572.2px,#56182d 579.8px,#4e1629 579.8px,#4e1629 587.2px,#461425 587.2px,#461425 594.2px,#3f1122 594.2px,#3f1122 600.2px,#370f1e 600.2px,#370f1e 605.5px,#2f0d1b 605.5px,#2f0d1b 610.2px,#270b17 610.2px,#270b17 613.5px,#1f0913 613.5px,#1f0913 615.8px,#170710 615.8px,#170710 618px,#10040c 618px,#10040c 620.5px,#080209 620.5px,#080209 624px,#000005 624px)"></i>
<i style="left:42px;background:linear-gradient(#eed893 22.2px,#ebcf90 22.2px,#ebcf90 77.5px,#e8c78d 77.5px,#e8c78d 122.2px,#e5be8a 122.2px,#e5be8a 162.5px,#e2b587 162.5px,#e2b587 198.5px,#dfac84 198.5px,#dfac84 230.8px,#dca481 230.8px,#dca481 260.2px,#d99b7e 260.2px,#d99b7e 287px,#d5927a 287px,#d5927a 310.5px,#d28977 310.5px,#d28977 330.5px,#cf8174 330.5px,#cf8174 348.8px,#cc7871 348.8px,#cc7871 365.8px,#c96f6e 365.8px,#c96f6e 381.8px,#c6666b 381.8px,#c6666b 397px,#c35e68 397px,#c35e68 411.5px,#c05565 411.5px,#c05565 424.5px,#bd4c61 424.5px,#bd4c61 437px,#ba435e 437px,#ba435e 448.5px,#b73b5b 448.5px,#b73b5b 459.8px,#b43258 459.8px,#b43258 470.5px,#b43258 470.5px,#b43258 480.5px,#ac3054 480.5px,#ac3054 489.8px,#a42e51 489.8px,#a42e51 498.8px,#9d2b4d 498.8px,#9d2b4d 507.2px,#95294a 507.2px,#95294a 516px,#8d2746 516px,#8d2746 524.5px,#852542 524.5px,#852542 533.2px,#7d233f 533.2px,#7d233f 542px,#75213b 542px,#75213b 550.5px,#6e1e38 550.5px,#6e1e38 558.8px,#661c34 558.8px,#661c34 566.8px,#5e1a30 566.8px,#5e1a30 574px,#56182d 574px,#56182d 581.5px,#4e1629 581.5px,#4e1629 588.8px,#461425 588.8px,#461425 595.5px,#3f1122 595.5px,#3f1122 601.5px,#370f1e 601.5px,#370f1e 606.8px,#2f0d1b 606.8px,#2f0d1b 611.2px,#270b17 611.2px,#270b17 614.5px,#1f0913 614.5px,#1f0913 617px,#170710 617px,#170710 619.2px,#10040c 619.2px,#10040c 621.8px,#080209 621.8px,#080209 625.5px,#000005 625.5px)"></i>
<i style="left:43px;background:linear-gradient(#eed893 22.8px,#ebcf90 22.8px,#ebcf90 78px,#e8c78d 78px,#e8c78d 123.2px,#e5be8a 123.2px,#e5be8a 164.2px,#e2b587 164.2px,#e2b587 201.2px,#dfac84 201.2px,#dfac84 234px,#dca481 234px,#dca481 263.8px,#d99b7e 263.8px,#d99b7e 290.8px,#d5927a 290.8px,#d5927a 313.8px,#d28977 313.8px,#d28977 333.5px,#cf8174 333.5px,#cf8174 351.2px,#cc7871 351.2px,#cc7871 367.8px,#c96f6e 367.8px,#c96f6e 383.5px,#c6666b 383.5px,#c6666b 398.8px,#c35e68 398.8px,#c35e68 413px,#c05565 413px,#c05565 426.2px,#bd4c61 426.2px,#bd4c61 438.8px,#ba435e 438.8px,#ba435e 450.5px,#b73b5b 450.5px,#b73b5b 461.8px,#b43258 461.8px,#b43258 472.5px,#b43258 472.5px,#b43258 482.5px,#ac3054 482.5px,#ac3054 492px,#a42e51 492px,#a42e51 501px,#9d2b4d 501px,#9d2b4d 509.5px,#95294a 509.5px,#95294a 518.2px,#8d2746 518.2px,#8d2746 526.8px,#852542 526.8px,#852542 535.5px,#7d233f 535.5px,#7d233f 544px,#75213b 544px,#75213b 552.5px,#6e1e38 552.5px,#6e1e38 560.8px,#661c34 560.8px,#661c34 568.5px,#5e1a30 568.5px,#5e1a30 575.8px,#56182d 575.8px,#56182d 583px,#4e1629 583px,#4e1629 590px,#461425 590px,#461425 596.5px,#3f1122 596.5px,#3f1122 602.5px,#370f1e 602.5px,#370f1e 607.8px,#2f0d1b 607.8px,#2f0d1b 612.5px,#270b17 612.5px,#270b17 615.8px,#1f0913 615.8px,#1f0913 618.2px,#170710 618.2px,#170710 620.5px,#10040c 620.5px,#10040c 623px,#080209 623px,#080209 627px,#000005 627px)"></i>
<i style="left:44px;background:linear-gradient(#eed893 23px,#ebcf90 23px,#ebcf90 78.5px,#e8c78d 78.5px,#e8c78d 124px,#e5be8a 124px,#e5be8a 165.2px,#e2b587 165.2px,#e2b587 202.2px,#dfac84 202.2px,#dfac84 235.2px,#dca481 235.2px,#dca481 265px,#d99b7e 265px,#d99b7e 292px,#d5927a 292px,#d5927a 315.2px,#d28977 315.2px,#d28977 335px,#cf8174 335px,#cf8174 352.8px,#cc7871 352.8px,#cc7871 369.2px,#c96f6e 369.2px,#c96f6e 385px,#c6666b 385px,#c6666b 400.2px,#c35e68 400.2px,#c35e68 414.8px,#c05565 414.8px,#c05565 428px,#bd4c61 428px,#bd4c61 440.5px,#ba435e 440.5px,#ba435e 452.5px,#b73b5b 452.5px,#b73b5b 463.8px,#b43258 463.8px,#b43258 474.5px,#b43258 474.5px,#b43258 484.8px,#ac3054 484.8px,#ac3054 494.2px,#a42e51 494.2px,#a42e51 503.2px,#9d2b4d 503.2px,#9d2b4d 512px,#95294a 512px,#95294a 520.8px,#8d2746 520.8px,#8d2746 529.2px,#852542 529.2px,#852542 537.8px,#7d233f 537.8px,#7d233f 546.5px,#75213b 546.5px,#75213b 554.8px,#6e1e38 554.8px,#6e1e38 562.8px,#661c34 562.8px,#661c34 570.5px,#5e1a30 570.5px,#5e1a30 577.8px,#56182d 577.8px,#56182d 584.8px,#4e1629 584.8px,#4e1629 591.5px,#461425 591.5px,#461425 597.8px,#3f1122 597.8px,#3f1122 603.8px,#370f1e 603.8px,#370f1e 608.8px,#2f0d1b 608.8px,#2f0d1b 613.5px,#270b17 613.5px,#270b17 616.8px,#1f0913 616.8px,#1f0913 619.5px,#170710 619.5px,#170710 621.8px,#10040c 621.8px,#10040c 624.5px,#080209 624.5px,#080209 628.5px,#000005 628.5px)"></i>
<i style="left:45px;background:linear-gradient(#eed893 23.5px,#ebcf90 23.5px,#ebcf90 79.2px,#e8c78d 79.2px,#e8c78d 125px,#e5be8a 125px,#e5be8a 166.2px,#e2b587 166.2px,#e2b587 203.2px,#dfac84 203.2px,#dfac84 236.5px,#dca481 236.5px,#dca481 266.2px,#d99b7e 266.2px,#d99b7e 293.5px,#d5927a 293.5px,#d5927a 316.5px,#d28977 316.5px,#d28977 336.2px,#cf8174 336.2px,#cf8174 354.2px,#cc7871 354.2px,#cc7871 370.8px,#c96f6e 370.8px,#c96f6e 386.5px,#c6666b 386.5px,#c6666b 401.8px,#c35e68 401.8px,#c35e68 416.2px,#c05565 416.2px,#c05565 429.8px,#bd4c61 429.8px,#bd4c61 442.2px,#ba435e 442.2px,#ba435e 454.2px,#b73b5b 454.2px,#b73b5b 465.8px,#b43258 465.8px,#b43258 476.8px,#b43258 476.8px,#b43258 487px,#ac3054 487px,#ac3054 496.5px,#a42e51 496.5px,#a42e51 505.8px,#9d2b4d 505.8px,#9d2b4d 514.5px,#95294a 514.5px,#95294a 523.2px,#8d2746 523.2px,#8d2746 531.8px,#852542 531.8px,#852542 540.2px,#7d233f 540.2px,#7d233f 548.8px,#75213b 548.8px,#75213b 557px,#6e1e38 557px,#6e1e38 565px,#661c34 565px,#661c34 572.5px,#5e1a30 572.5px,#5e1a30 579.5px,#56182d 579.5px,#56182d 586.2px,#4e1629 586.2px,#4e1629 593px,#461425 593px,#461425 599px,#3f1122 599px,#3f1122 604.8px,#370f1e 604.8px,#370f1e 610px,#2f0d1b 610px,#2f0d1b 614.5px,#270b17 614.5px,#270b17 618px,#1f0913 618px,#1f0913 620.5px,#170710 620.5px,#170710 623px,#10040c 623px,#10040c 625.8px,#080209 625.8px,#080209 630px,#000005 630px)"></i>
<i style="left:46px;background:linear-gradient(#eed893 23.8px,#ebcf90 23.8px,#ebcf90 80px,#e8c78d 80px,#e8c78d 126px,#e5be8a 126px,#e5be8a 167.2px,#e2b587 167.2px,#e2b587 204.5px,#dfac84 204.5px,#dfac84 237.8px,#dca481 237.8px,#dca481 267.5px,#d99b7e 267.5px,#d99b7e 294.8px,#d5927a 294.8px,#d5927a 318px,#d28977 318px,#d28977 337.8px,#cf8174 337.8px,#cf8174 355.5px,#cc7871 355.5px,#cc7871 372.2px,#c96f6e 372.2px,#c96f6e 388px,#c6666b 388px,#c6666b 403.5px,#c35e68 403.5px,#c35e68 418px,#c05565 418px,#c05565 431.5px,#bd4c61 431.5px,#bd4c61 444.2px,#ba435e 444.2px,#ba435e 456.5px,#b73b5b 456.5px,#b73b5b 468px,#b43258 468px,#b43258 479px,#b43258 479px,#b43258 489.5px,#ac3054 489.5px,#ac3054 499px,#a42e51 499px,#a42e51 508.2px,#9d2b4d 508.2px,#9d2b4d 517.2px,#95294a 517.2px,#95294a 525.8px,#8d2746 525.8px,#8d2746 534.2px,#852542 534.2px,#852542 542.8px,#7d233f 542.8px,#7d233f 551.2px,#75213b 551.2px,#75213b 559.2px,#6e1e38 559.2px,#6e1e38 567px,#661c34 567px,#661c34 574.2px,#5e1a30 574.2px,#5e1a30 581.2px,#56182d 581.2px,#56182d 588px,#4e1629 588px,#4e1629 594.5px,#461425 594.5px,#461425 600.5px,#3f1122 600.5px,#3f1122 606.2px,#370f1e 606.2px,#370f1e 611.2px,#2f0d1b 611.2px,#2f0d1b 616px,#270b17 616px,#270b17 619.2px,#1f0913 619.2px,#1f0913 622px,#170710 622px,#170710 624.5px,#10040c 624.5px,#10040c 627.2px,#080209 627.2px,#080209 631.5px,#000005 631.5px)"></i>
<i style="left:47px;background:linear-gradient(#eed893 24.2px,#ebcf90 24.2px,#ebcf90 80.8px,#e8c78d 80.8px,#e8c78d 126.8px,#e5be8a 126.8px,#e5be8a 168.2px,#e2b587 168.2px,#e2b587 205.5px,#dfac84 205.5px,#dfac84 238.8px,#dca481 238.8px,#dca481 268.8px,#d99b7e 268.8px,#d99b7e 296px,#d5927a 296px,#d5927a 319.5px,#d28977 319.5px,#d28977 339.5px,#cf8174 339.5px,#cf8174 357.5px,#cc7871 357.5px,#cc7871 374.2px,#c96f6e 374.2px,#c96f6e 390.2px,#c6666b 390.2px,#c6666b 405.8px,#c35e68 405.8px,#c35e68 420.2px,#c05565 420.2px,#c05565 434px,#bd4c61 434px,#bd4c61 446.8px,#ba435e 446.8px,#ba435e 458.8px,#b73b5b 458.8px,#b73b5b 470.2px,#b43258 470.2px,#b43258 481.5px,#b43258 481.5px,#b43258 491.8px,#ac3054 491.8px,#ac3054 501.5px,#a42e51 501.5px,#a42e51 510.8px,#9d2b4d 510.8px,#9d2b4d 519.8px,#95294a 519.8px,#95294a 528.5px,#8d2746 528.5px,#8d2746 537px,#852542 537px,#852542 545.2px,#7d233f 545.2px,#7d233f 553.5px,#75213b 553.5px,#75213b 561.5px,#6e1e38 561.5px,#6e1e38 569px,#661c34 569px,#661c34 576.2px,#5e1a30 576.2px,#5e1a30 583px,#56182d 583px,#56182d 589.2px,#4e1629 589.2px,#4e1629 594.8px,#461425 594.8px,#461425 600.2px,#3f1122 600.2px,#3f1122 605.5px,#370f1e 605.5px,#370f1e 611.2px,#2f0d1b 611.2px,#2f0d1b 617.2px,#270b17 617.2px,#270b17 623.8px,#1f0913 623.8px,#1f0913 629.5px,#170710 629.5px,#170710 635.8px,#10040c 635.8px,#10040c 642.5px,#080209 642.5px,#080209 653px,#000005 653px)"></i>
<i style="left:48px;background:linear-gradient(#eed893 24.8px,#ebcf90 24.8px,#ebcf90 81.5px,#e8c78d 81.5px,#e8c78d 127.8px,#e5be8a 127.8px,#e5be8a 169.2px,#e2b587 169.2px,#e2b587 206.5px,#dfac84 206.5px,#dfac84 239.8px,#dca481 239.8px,#dca481 270px,#d99b7e 270px,#d99b7e 297.5px,#d5927a 297.5px,#d5927a 321px,#d28977 321px,#d28977 341.2px,#cf8174 341.2px,#cf8174 359.5px,#cc7871 359.5px,#cc7871 376.5px,#c96f6e 376.5px,#c96f6e 392.5px,#c6666b 392.5px,#c6666b 408px,#c35e68 408px,#c35e68 422.8px,#c05565 422.8px,#c05565 436.2px,#bd4c61 436.2px,#bd4c61 449px,#ba435e 449px,#ba435e 461.2px,#b73b5b 461.2px,#b73b5b 472.8px,#b43258 472.8px,#b43258 483.8px,#b43258 483.8px,#b43258 494.2px,#ac3054 494.2px,#ac3054 504px,#a42e51 504px,#a42e51 513.2px,#9d2b4d 513.2px,#9d2b4d 522.2px,#95294a 522.2px,#95294a 531px,#8d2746 531px,#8d2746 539.5px,#852542 539.5px,#852542 547.8px,#7d233f 547.8px,#7d233f 555.8px,#75213b 555.8px,#75213b 563.8px,#6e1e38 563.8px,#6e1e38 571px,#661c34 571px,#661c34 578.2px,#5e1a30 578.2px,#5e1a30 585px,#56182d 585px,#56182d 590.8px,#4e1629 590.8px,#4e1629 596px,#461425 596px,#461425 601px,#3f1122 601px,#3f1122 606px,#370f1e 606px,#370f1e 611.8px,#2f0d1b 611.8px,#2f0d1b 618.8px,#270b17 618.8px,#270b17 627.8px,#1f0913 627.8px,#1f0913 637.2px,#170710 637.2px,#170710 647.5px,#10040c 647.5px,#10040c 660.2px,#080209 660.2px)"></i>
<i style="left:49px;background:linear-gradient(#eed893 25px,#ebcf90 25px,#ebcf90 82.2px,#e8c78d 82.2px,#e8c78d 128.5px,#e5be8a 128.5px,#e5be8a 170.2px,#e2b587 170.2px,#e2b587 207.5px,#dfac84 207.5px,#dfac84 241px,#dca481 241px,#dca481 271.2px,#d99b7e 271.2px,#d99b7e 298.8px,#d5927a 298.8px,#d5927a 322.5px,#d28977 322.5px,#d28977 343px,#cf8174 343px,#cf8174 361.5px,#cc7871 361.5px,#cc7871 378.5px,#c96f6e 378.5px,#c96f6e 394.8px,#c6666b 394.8px,#c6666b 410.5px,#c35e68 410.5px,#c35e68 425.2px,#c05565 425.2px,#c05565 438.8px,#bd4c61 438.8px,#bd4c61 451.5px,#ba435e 451.5px,#ba435e 463.5px,#b73b5b 463.5px,#b73b5b 475px,#b43258 475px,#b43258 486.2px,#b43258 486.2px,#b43258 496.5px,#ac3054 496.5px,#ac3054 506.5px,#a42e51 506.5px,#a42e51 515.8px,#9d2b4d 515.8px,#9d2b4d 524.8px,#95294a 524.8px,#95294a 533.5px,#8d2746 533.5px,#8d2746 542px,#852542 542px,#852542 550.2px,#7d233f 550.2px,#7d233f 558.2px,#75213b 558.2px,#75213b 565.8px,#6e1e38 565.8px,#6e1e38 573.2px,#661c34 573.2px,#661c34 580.2px,#5e1a30 580.2px,#5e1a30 586.8px,#56182d 586.8px,#56182d 592.5px,#4e1629 592.5px,#4e1629 597.8px,#461425 597.8px,#461425 602.5px,#3f1122 602.5px,#3f1122 607.5px,#370f1e 607.5px,#370f1e 613px,#2f0d1b 613px,#2f0d1b 620.2px,#270b17 620.2px,#270b17 629.8px,#1f0913 629.8px,#1f0913 639.5px,#170710 639.5px,#170710 650.8px,#10040c 650.8px,#10040c 666.5px,#080209 666.5px)"></i>
<i style="left:50px;background:linear-gradient(#eed893 25.5px,#ebcf90 25.5px,#ebcf90 83px,#e8c78d 83px,#e8c78d 129.5px,#e5be8a 129.5px,#e5be8a 171.2px,#e2b587 171.2px,#e2b587 208.5px,#dfac84 208.5px,#dfac84 242px,#dca481 242px,#dca481 272.2px,#d99b7e 272.2px,#d99b7e 300px,#d5927a 300px,#d5927a 324.2px,#d28977 324.2px,#d28977 344.8px,#cf8174 344.8px,#cf8174 363.5px,#cc7871 363.5px,#cc7871 380.8px,#c96f6e 380.8px,#c96f6e 397.2px,#c6666b 397.2px,#c6666b 413px,#c35e68 413px,#c35e68 427.8px,#c05565 427.8px,#c05565 441.2px,#bd4c61 441.2px,#bd4c61 454px,#ba435e 454px,#ba435e 466px,#b73b5b 466px,#b73b5b 477.5px,#b43258 477.5px,#b43258 488.5px,#b43258 488.5px,#b43258 499px,#ac3054 499px,#ac3054 509px,#a42e51 509px,#a42e51 518.2px,#9d2b4d 518.2px,#9d2b4d 527.5px,#95294a 527.5px,#95294a 536px,#8d2746 536px,#8d2746 544.5px,#852542 544.5px,#852542 552.8px,#7d233f 552.8px,#7d233f 560.5px,#75213b 560.5px,#75213b 568px,#6e1e38 568px,#6e1e38 575.2px,#661c34 575.2px,#661c34 582px,#5e1a30 582px,#5e1a30 588.8px,#56182d 588.8px,#56182d 594.2px,#4e1629 594.2px,#4e1629 599.2px,#461425 599.2px,#461425 604px,#3f1122 604px,#3f1122 609px,#370f1e 609px,#370f1e 614.2px,#2f0d1b 614.2px,#2f0d1b 621.5px,#270b17 621.5px,#270b17 631.8px,#1f0913 631.8px,#1f0913 642.8px,#170710 642.8px,#170710 656.2px,#10040c 656.2px)"></i>
<i style="left:51px;background:linear-gradient(#eed893 26px,#ebcf90 26px,#ebcf90 83.8px,#e8c78d 83.8px,#e8c78d 130.5px,#e5be8a 130.5px,#e5be8a 172px,#e2b587 172px,#e2b587 209.5px,#dfac84 209.5px,#dfac84 243px,#dca481 243px,#dca481 273.5px,#d99b7e 273.5px,#d99b7e 301.5px,#d5927a 301.5px,#d5927a 325.8px,#d28977 325.8px,#d28977 346.5px,#cf8174 346.5px,#cf8174 365.5px,#cc7871 365.5px,#cc7871 383px,#c96f6e 383px,#c96f6e 399.5px,#c6666b 399.5px,#c6666b 415.5px,#c35e68 415.5px,#c35e68 430.2px,#c05565 430.2px,#c05565 443.8px,#bd4c61 443.8px,#bd4c61 456.5px,#ba435e 456.5px,#ba435e 468.5px,#b73b5b 468.5px,#b73b5b 479.8px,#b43258 479.8px,#b43258 490.8px,#b43258 490.8px,#b43258 501.2px,#ac3054 501.2px,#ac3054 511.2px,#a42e51 511.2px,#a42e51 520.5px,#9d2b4d 520.5px,#9d2b4d 529.5px,#95294a 529.5px,#95294a 538.2px,#8d2746 538.2px,#8d2746 546.5px,#852542 546.5px,#852542 554.8px,#7d233f 554.8px,#7d233f 562.5px,#75213b 562.5px,#75213b 570px,#6e1e38 570px,#6e1e38 577.2px,#661c34 577.2px,#661c34 584px,#5e1a30 584px,#5e1a30 590.5px,#56182d 590.5px,#56182d 596px,#4e1629 596px,#4e1629 601px,#461425 601px,#461425 605.5px,#3f1122 605.5px,#3f1122 610.2px,#370f1e 610.2px,#370f1e 615.5px,#2f0d1b 615.5px,#2f0d1b 623px,#270b17 623px,#270b17 634.2px,#1f0913 634.2px,#1f0913 647px,#170710 647px,#170710 664.8px,#10040c 664.8px)"></i>
<i style="left:52px;background:linear-gradient(#eed893 26.2px,#ebcf90 26.2px,#ebcf90 84.5px,#e8c78d 84.5px,#e8c78d 131.2px,#e5be8a 131.2px,#e5be8a 173px,#e2b587 173px,#e2b587 210.5px,#dfac84 210.5px,#dfac84 244.2px,#dca481 244.2px,#dca481 274.8px,#d99b7e 274.8px,#d99b7e 302.8px,#d5927a 302.8px,#d5927a 327.2px,#d28977 327.2px,#d28977 348.2px,#cf8174 348.2px,#cf8174 367.5px,#cc7871 367.5px,#cc7871 385.2px,#c96f6e 385.2px,#c96f6e 401.8px,#c6666b 401.8px,#c6666b 417.8px,#c35e68 417.8px,#c35e68 432.8px,#c05565 432.8px,#c05565 446.2px,#bd4c61 446.2px,#bd4c61 458.8px,#ba435e 458.8px,#ba435e 470.8px,#b73b5b 470.8px,#b73b5b 482.2px,#b43258 482.2px,#b43258 493.2px,#b43258 493.2px,#b43258 503.8px,#ac3054 503.8px,#ac3054 513.5px,#a42e51 513.5px,#a42e51 522.8px,#9d2b4d 522.8px,#9d2b4d 531.5px,#95294a 531.5px,#95294a 540.2px,#8d2746 540.2px,#8d2746 548.5px,#852542 548.5px,#852542 556.5px,#7d233f 556.5px,#7d233f 564.5px,#75213b 564.5px,#75213b 572px,#6e1e38 572px,#6e1e38 579.2px,#661c34 579.2px,#661c34 586px,#5e1a30 586px,#5e1a30 592.5px,#56182d 592.5px,#56182d 597.8px,#4e1629 597.8px,#4e1629 602.5px,#461425 602.5px,#461425 607px,#3f1122 607px,#3f1122 611.8px,#370f1e 611.8px,#370f1e 616.8px,#2f0d1b 616.8px,#2f0d1b 624.5px,#270b17 624.5px,#270b17 637.2px,#1f0913 637.2px,#1f0913 652.8px,#170710 652.8px)"></i>
<i style="left:53px;background:linear-gradient(#eed893 26.8px,#ebcf90 26.8px,#ebcf90 85.2px,#e8c78d 85.2px,#e8c78d 132px,#e5be8a 132px,#e5be8a 174px,#e2b587 174px,#e2b587 211.5px,#dfac84 211.5px,#dfac84 245.2px,#dca481 245.2px,#dca481 276px,#d99b7e 276px,#d99b7e 304px,#d5927a 304px,#d5927a 328.8px,#d28977 328.8px,#d28977 350.2px,#cf8174 350.2px,#cf8174 369.5px,#cc7871 369.5px,#cc7871 387.2px,#c96f6e 387.2px,#c96f6e 404.2px,#c6666b 404.2px,#c6666b 420.2px,#c35e68 420.2px,#c35e68 435.2px,#c05565 435.2px,#c05565 448.8px,#bd4c61 448.8px,#bd4c61 461.2px,#ba435e 461.2px,#ba435e 473.2px,#b73b5b 473.2px,#b73b5b 484.8px,#b43258 484.8px,#b43258 495.5px,#b43258 495.5px,#b43258 506px,#ac3054 506px,#ac3054 515.8px,#a42e51 515.8px,#a42e51 524.8px,#9d2b4d 524.8px,#9d2b4d 533.8px,#95294a 533.8px,#95294a 542.2px,#8d2746 542.2px,#8d2746 550.5px,#852542 550.5px,#852542 558.5px,#7d233f 558.5px,#7d233f 566.5px,#75213b 566.5px,#75213b 574px,#6e1e38 574px,#6e1e38 581px,#661c34 581px,#661c34 587.8px,#5e1a30 587.8px,#5e1a30 594.2px,#56182d 594.2px,#56182d 599.8px,#4e1629 599.8px,#4e1629 604.2px,#461425 604.2px,#461425 608.5px,#3f1122 608.5px,#3f1122 613px,#370f1e 613px,#370f1e 618px,#2f0d1b 618px,#2f0d1b 625.8px,#270b17 625.8px,#270b17 641px,#1f0913 641px,#1f0913 662.2px,#170710 662.2px)"></i>
<i style="left:54px;background:linear-gradient(#eed893 27.2px,#ebcf90 27.2px,#ebcf90 86px,#e8c78d 86px,#e8c78d 133px,#e5be8a 133px,#e5be8a 175px,#e2b587 175px,#e2b587 212.5px,#dfac84 212.5px,#dfac84 246.2px,#dca481 246.2px,#dca481 277.2px,#d99b7e 277.2px,#d99b7e 305.5px,#d5927a 305.5px,#d5927a 330.2px,#d28977 330.2px,#d28977 352px,#cf8174 352px,#cf8174 371.5px,#cc7871 371.5px,#cc7871 389.5px,#c96f6e 389.5px,#c96f6e 406.5px,#c6666b 406.5px,#c6666b 422.8px,#c35e68 422.8px,#c35e68 437.5px,#c05565 437.5px,#c05565 451.2px,#bd4c61 451.2px,#bd4c61 463.8px,#ba435e 463.8px,#ba435e 475.8px,#b73b5b 475.8px,#b73b5b 487px,#b43258 487px,#b43258 498px,#b43258 498px,#b43258 508.2px,#ac3054 508.2px,#ac3054 518px,#a42e51 518px,#a42e51 527px,#9d2b4d 527px,#9d2b4d 535.8px,#95294a 535.8px,#95294a 544.2px,#8d2746 544.2px,#8d2746 552.5px,#852542 552.5px,#852542 560.5px,#7d233f 560.5px,#7d233f 568.2px,#75213b 568.2px,#75213b 576px,#6e1e38 576px,#6e1e38 583px,#661c34 583px,#661c34 589.8px,#5e1a30 589.8px,#5e1a30 596px,#56182d 596px,#56182d 601.5px,#4e1629 601.5px,#4e1629 605.8px,#461425 605.8px,#461425 610px,#3f1122 610px,#3f1122 614.2px,#370f1e 614.2px,#370f1e 619.2px,#2f0d1b 619.2px,#2f0d1b 627.2px,#270b17 627.2px,#270b17 646.2px,#1f0913 646.2px)"></i>
<i style="left:55px;background:linear-gradient(#eed893 27.5px,#ebcf90 27.5px,#ebcf90 86.8px,#e8c78d 86.8px,#e8c78d 133.8px,#e5be8a 133.8px,#e5be8a 175.8px,#e2b587 175.8px,#e2b587 213.5px,#dfac84 213.5px,#dfac84 247.2px,#dca481 247.2px,#dca481 278.2px,#d99b7e 278.2px,#d99b7e 306.8px,#d5927a 306.8px,#d5927a 332px,#d28977 332px,#d28977 353.8px,#cf8174 353.8px,#cf8174 373.5px,#cc7871 373.5px,#cc7871 391.8px,#c96f6e 391.8px,#c96f6e 408.8px,#c6666b 408.8px,#c6666b 425px,#c35e68 425px,#c35e68 440px,#c05565 440px,#c05565 453.8px,#bd4c61 453.8px,#bd4c61 466.2px,#ba435e 466.2px,#ba435e 478.2px,#b73b5b 478.2px,#b73b5b 489.5px,#b43258 489.5px,#b43258 500.2px,#b43258 500.2px,#b43258 510.5px,#ac3054 510.5px,#ac3054 520.2px,#a42e51 520.2px,#a42e51 529.2px,#9d2b4d 529.2px,#9d2b4d 538px,#95294a 538px,#95294a 546.2px,#8d2746 546.2px,#8d2746 554.5px,#852542 554.5px,#852542 562.5px,#7d233f 562.5px,#7d233f 570.2px,#75213b 570.2px,#75213b 577.8px,#6e1e38 577.8px,#6e1e38 585px,#661c34 585px,#661c34 591.8px,#5e1a30 591.8px,#5e1a30 598px,#56182d 598px,#56182d 603.2px,#4e1629 603.2px,#4e1629 607.5px,#461425 607.5px,#461425 611.5px,#3f1122 611.5px,#3f1122 615.8px,#370f1e 615.8px,#370f1e 620.5px,#2f0d1b 620.5px,#2f0d1b 628.8px,#270b17 628.8px,#270b17 657px,#1f0913 657px)"></i>
<i style="left:56px;background:linear-gradient(#eed893 28px,#ebcf90 28px,#ebcf90 87.5px,#e8c78d 87.5px,#e8c78d 134.8px,#e5be8a 134.8px,#e5be8a 176.8px,#e2b587 176.8px,#e2b587 214.5px,#dfac84 214.5px,#dfac84 248.5px,#dca481 248.5px,#dca481 279.5px,#d99b7e 279.5px,#d99b7e 308px,#d5927a 308px,#d5927a 333.5px,#d28977 333.5px,#d28977 355.5px,#cf8174 355.5px,#cf8174 375.5px,#cc7871 375.5px,#cc7871 394px,#c96f6e 394px,#c96f6e 411.2px,#c6666b 411.2px,#c6666b 427.5px,#c35e68 427.5px,#c35e68 442.5px,#c05565 442.5px,#c05565 456px,#bd4c61 456px,#bd4c61 468.5px,#ba435e 468.5px,#ba435e 480.5px,#b73b5b 480.5px,#b73b5b 491.8px,#b43258 491.8px,#b43258 502.5px,#b43258 502.5px,#b43258 512.8px,#ac3054 512.8px,#ac3054 522.2px,#a42e51 522.2px,#a42e51 531.2px,#9d2b4d 531.2px,#9d2b4d 540px,#95294a 540px,#95294a 548.2px,#8d2746 548.2px,#8d2746 556.5px,#852542 556.5px,#852542 564.5px,#7d233f 564.5px,#7d233f 572.5px,#75213b 572.5px,#75213b 580px,#6e1e38 580px,#6e1e38 587.2px,#661c34 587.2px,#661c34 594px,#5e1a30 594px,#5e1a30 600.2px,#56182d 600.2px,#56182d 605.2px,#4e1629 605.2px,#4e1629 609.2px,#461425 609.2px,#461425 613.2px,#3f1122 613.2px,#3f1122 617.2px,#370f1e 617.2px,#370f1e 621.8px,#2f0d1b 621.8px,#2f0d1b 630px,#270b17 630px)"></i>
<i style="left:57px;background:linear-gradient(#eed893 30.5px,#ebcf90 30.5px,#ebcf90 88px,#e8c78d 88px,#e8c78d 135px,#e5be8a 135px,#e5be8a 177px,#e2b587 177px,#e2b587 215px,#dfac84 215px,#dfac84 249.2px,#dca481 249.2px,#dca481 280.8px,#d99b7e 280.8px,#d99b7e 309.5px,#d5927a 309.5px,#d5927a 335px,#d28977 335px,#d28977 357.2px,#cf8174 357.2px,#cf8174 377.5px,#cc7871 377.5px,#cc7871 396.2px,#c96f6e 396.2px,#c96f6e 413.5px,#c6666b 413.5px,#c6666b 430px,#c35e68 430px,#c35e68 444.8px,#c05565 444.8px,#c05565 458.2px,#bd4c61 458.2px,#bd4c61 470.8px,#ba435e 470.8px,#ba435e 482.5px,#b73b5b 482.5px,#b73b5b 493.8px,#b43258 493.8px,#b43258 504.5px,#b43258 504.5px,#b43258 514.8px,#ac3054 514.8px,#ac3054 524.2px,#a42e51 524.2px,#a42e51 533.2px,#9d2b4d 533.2px,#9d2b4d 541.8px,#95294a 541.8px,#95294a 550.2px,#8d2746 550.2px,#8d2746 558.5px,#852542 558.5px,#852542 566.2px,#7d233f 566.2px,#7d233f 573.5px,#75213b 573.5px,#75213b 580.8px,#6e1e38 580.8px,#6e1e38 587.8px,#661c34 587.8px,#661c34 595.2px,#5e1a30 595.2px,#5e1a30 603px,#56182d 603px,#56182d 610.5px,#4e1629 610.5px,#4e1629 617.5px,#461425 617.5px,#461425 624.2px,#3f1122 624.2px,#3f1122 631.8px,#370f1e 631.8px,#370f1e 640.2px,#2f0d1b 640.2px,#2f0d1b 656px,#270b17 656px)"></i>
<i style="left:58px;background:linear-gradient(#eed893 34.8px,#ebcf90 34.8px,#ebcf90 93.8px,#e8c78d 93.8px,#e8c78d 140.5px,#e5be8a 140.5px,#e5be8a 182px,#e2b587 182px,#e2b587 219px,#dfac84 219px,#dfac84 252.8px,#dca481 252.8px,#dca481 283.8px,#d99b7e 283.8px,#d99b7e 312px,#d5927a 312px,#d5927a 337.5px,#d28977 337.5px,#d28977 359.8px,#cf8174 359.8px,#cf8174 380px,#cc7871 380px,#cc7871 398.5px,#c96f6e 398.5px,#c96f6e 416px,#c6666b 416px,#c6666b 432.2px,#c35e68 432.2px,#c35e68 447.2px,#c05565 447.2px,#c05565 460.5px,#bd4c61 460.5px,#bd4c61 473px,#ba435e 473px,#ba435e 484.5px,#b73b5b 484.5px,#b73b5b 495.8px,#b43258 495.8px,#b43258 506.5px,#b43258 506.5px,#b43258 516.8px,#ac3054 516.8px,#ac3054 526px,#a42e51 526px,#a42e51 535px,#9d2b4d 535px,#9d2b4d 543.8px,#95294a 543.8px,#95294a 552.2px,#8d2746 552.2px,#8d2746 560.5px,#852542 560.5px,#852542 568.2px,#7d233f 568.2px,#7d233f 575.2px,#75213b 575.2px,#75213b 582px,#6e1e38 582px,#6e1e38 589px,#661c34 589px,#661c34 596.8px,#5e1a30 596.8px,#5e1a30 605.5px,#56182d 605.5px,#56182d 615.8px,#4e1629 615.8px,#4e1629 626.8px,#461425 626.8px,#461425 638.2px,#3f1122 638.2px,#3f1122 651.2px,#370f1e 651.2px,#370f1e 666.5px,#2f0d1b 666.5px)"></i>
<i style="left:59px;background:linear-gradient(#eed893 39.2px,#ebcf90 39.2px,#ebcf90 99.2px,#e8c78d 99.2px,#e8c78d 146.2px,#e5be8a 146.2px,#e5be8a 187.5px,#e2b587 187.5px,#e2b587 224.2px,#dfac84 224.2px,#dfac84 257.5px,#dca481 257.5px,#dca481 288px,#d99b7e 288px,#d99b7e 316px,#d5927a 316px,#d5927a 341.2px,#d28977 341.2px,#d28977 363.2px,#cf8174 363.2px,#cf8174 383px,#cc7871 383px,#cc7871 401.2px,#c96f6e 401.2px,#c96f6e 418.5px,#c6666b 418.5px,#c6666b 434.8px,#c35e68 434.8px,#c35e68 449.5px,#c05565 449.5px,#c05565 462.8px,#bd4c61 462.8px,#bd4c61 475px,#ba435e 475px,#ba435e 486.8px,#b73b5b 486.8px,#b73b5b 497.8px,#b43258 497.8px,#b43258 508.5px,#b43258 508.5px,#b43258 518.5px,#ac3054 518.5px,#ac3054 528px,#a42e51 528px,#a42e51 537px,#9d2b4d 537px,#9d2b4d 545.8px,#95294a 545.8px,#95294a 554px,#8d2746 554px,#8d2746 562.5px,#852542 562.5px,#852542 570.2px,#7d233f 570.2px,#7d233f 577.2px,#75213b 577.2px,#75213b 584.2px,#6e1e38 584.2px,#6e1e38 591.2px,#661c34 591.2px,#661c34 599px,#5e1a30 599px,#5e1a30 608.2px,#56182d 608.2px,#56182d 619px,#4e1629 619px,#4e1629 630.5px,#461425 630.5px,#461425 643.2px,#3f1122 643.2px,#3f1122 657.8px,#370f1e 657.8px,#370f1e 678.2px,#2f0d1b 678.2px)"></i>
<i style="left:60px;background:linear-gradient(#eed893 43.5px,#ebcf90 43.5px,#ebcf90 105px,#e8c78d 105px,#e8c78d 152px,#e5be8a 152px,#e5be8a 193px,#e2b587 193px,#e2b587 229.2px,#dfac84 229.2px,#dfac84 262.2px,#dca481 262.2px,#dca481 292.2px,#d99b7e 292.2px,#d99b7e 320px,#d5927a 320px,#d5927a 344.8px,#d28977 344.8px,#d28977 366.5px,#cf8174 366.5px,#cf8174 386px,#cc7871 386px,#cc7871 404.2px,#c96f6e 404.2px,#c96f6e 421px,#c6666b 421px,#c6666b 437px,#c35e68 437px,#c35e68 451.8px,#c05565 451.8px,#c05565 464.8px,#bd4c61 464.8px,#bd4c61 477.2px,#ba435e 477.2px,#ba435e 488.8px,#b73b5b 488.8px,#b73b5b 499.8px,#b43258 499.8px,#b43258 510.5px,#b43258 510.5px,#b43258 520.5px,#ac3054 520.5px,#ac3054 530px,#a42e51 530px,#a42e51 539px,#9d2b4d 539px,#9d2b4d 547.5px,#95294a 547.5px,#95294a 556px,#8d2746 556px,#8d2746 564.5px,#852542 564.5px,#852542 572.2px,#7d233f 572.2px,#7d233f 579.2px,#75213b 579.2px,#75213b 586.2px,#6e1e38 586.2px,#6e1e38 593.5px,#661c34 593.5px,#661c34 601.2px,#5e1a30 601.2px,#5e1a30 610.8px,#56182d 610.8px,#56182d 622.5px,#4e1629 622.5px,#4e1629 634.8px,#461425 634.8px,#461425 649px,#3f1122 649px,#3f1122 667px,#370f1e 667px)"></i>
<i style="left:61px;background:linear-gradient(#eed893 48px,#ebcf90 48px,#ebcf90 110.5px,#e8c78d 110.5px,#e8c78d 157.8px,#e5be8a 157.8px,#e5be8a 198.5px,#e2b587 198.5px,#e2b587 234.2px,#dfac84 234.2px,#dfac84 266.8px,#dca481 266.8px,#dca481 296.5px,#d99b7e 296.5px,#d99b7e 324px,#d5927a 324px,#d5927a 348.5px,#d28977 348.5px,#d28977 369.8px,#cf8174 369.8px,#cf8174 389px,#cc7871 389px,#cc7871 407px,#c96f6e 407px,#c96f6e 423.5px,#c6666b 423.5px,#c6666b 439.5px,#c35e68 439.5px,#c35e68 454px,#c05565 454px,#c05565 467px,#bd4c61 467px,#bd4c61 479.2px,#ba435e 479.2px,#ba435e 490.8px,#b73b5b 490.8px,#b73b5b 501.8px,#b43258 501.8px,#b43258 512.5px,#b43258 512.5px,#b43258 522.5px,#ac3054 522.5px,#ac3054 532px,#a42e51 532px,#a42e51 541px,#9d2b4d 541px,#9d2b4d 549.8px,#95294a 549.8px,#95294a 558.2px,#8d2746 558.2px,#8d2746 566.8px,#852542 566.8px,#852542 574.5px,#7d233f 574.5px,#7d233f 581.8px,#75213b 581.8px,#75213b 588.8px,#6e1e38 588.8px,#6e1e38 595.8px,#661c34 595.8px,#661c34 603.5px,#5e1a30 603.5px,#5e1a30 613.5px,#56182d 613.5px,#56182d 626px,#4e1629 626px,#4e1629 639.8px,#461425 639.8px,#461425 656px,#3f1122 656px)"></i>
<i style="left:62px;background:linear-gradient(#eed893 52.2px,#ebcf90 52.2px,#ebcf90 116.2px,#e8c78d 116.2px,#e8c78d 163.8px,#e5be8a 163.8px,#e5be8a 204px,#e2b587 204px,#e2b587 239.5px,#dfac84 239.5px,#dfac84 271.5px,#dca481 271.5px,#dca481 301px,#d99b7e 301px,#d99b7e 328px,#d5927a 328px,#d5927a 352.2px,#d28977 352.2px,#d28977 373.2px,#cf8174 373.2px,#cf8174 392.2px,#cc7871 392.2px,#cc7871 409.8px,#c96f6e 409.8px,#c96f6e 426.2px,#c6666b 426.2px,#c6666b 441.8px,#c35e68 441.8px,#c35e68 456.2px,#c05565 456.2px,#c05565 469.2px,#bd4c61 469.2px,#bd4c61 481.2px,#ba435e 481.2px,#ba435e 492.8px,#b73b5b 492.8px,#b73b5b 503.8px,#b43258 503.8px,#b43258 514.5px,#b43258 514.5px,#b43258 524.5px,#ac3054 524.5px,#ac3054 534.2px,#a42e51 534.2px,#a42e51 543.2px,#9d2b4d 543.2px,#9d2b4d 552.2px,#95294a 552.2px,#95294a 560.8px,#8d2746 560.8px,#8d2746 569.2px,#852542 569.2px,#852542 577.2px,#7d233f 577.2px,#7d233f 584.2px,#75213b 584.2px,#75213b 591px,#6e1e38 591px,#6e1e38 598px,#661c34 598px,#661c34 606px,#5e1a30 606px,#5e1a30 616.2px,#56182d 616.2px,#56182d 630px,#4e1629 630px,#4e1629 645.2px,#461425 645.2px,#461425 666.2px,#3f1122 666.2px)"></i>
<i style="left:63px;background:linear-gradient(#eed893 56.8px,#ebcf90 56.8px,#ebcf90 122px,#e8c78d 122px,#e8c78d 169.5px,#e5be8a 169.5px,#e5be8a 209.5px,#e2b587 209.5px,#e2b587 244.5px,#dfac84 244.5px,#dfac84 276.2px,#dca481 276.2px,#dca481 305.2px,#d99b7e 305.2px,#d99b7e 332px,#d5927a 332px,#d5927a 356px,#d28977 356px,#d28977 376.5px,#cf8174 376.5px,#cf8174 395.2px,#cc7871 395.2px,#cc7871 412.5px,#c96f6e 412.5px,#c96f6e 428.8px,#c6666b 428.8px,#c6666b 444.2px,#c35e68 444.2px,#c35e68 458.5px,#c05565 458.5px,#c05565 471.2px,#bd4c61 471.2px,#bd4c61 483.2px,#ba435e 483.2px,#ba435e 494.8px,#b73b5b 494.8px,#b73b5b 505.8px,#b43258 505.8px,#b43258 516.5px,#b43258 516.5px,#b43258 526.8px,#ac3054 526.8px,#ac3054 536.2px,#a42e51 536.2px,#a42e51 545.5px,#9d2b4d 545.5px,#9d2b4d 554.5px,#95294a 554.5px,#95294a 563.2px,#8d2746 563.2px,#8d2746 572px,#852542 572px,#852542 579.8px,#7d233f 579.8px,#7d233f 586.8px,#75213b 586.8px,#75213b 593.5px,#6e1e38 593.5px,#6e1e38 600.5px,#661c34 600.5px,#661c34 608.2px,#5e1a30 608.2px,#5e1a30 619px,#56182d 619px,#56182d 634.5px,#4e1629 634.5px,#4e1629 653px,#461425 653px)"></i>
<i style="left:64px;background:linear-gradient(#eed893 61.2px,#ebcf90 61.2px,#ebcf90 127.5px,#e8c78d 127.5px,#e8c78d 175.2px,#e5be8a 175.2px,#e5be8a 214.8px,#e2b587 214.8px,#e2b587 249.5px,#dfac84 249.5px,#dfac84 280.8px,#dca481 280.8px,#dca481 309.5px,#d99b7e 309.5px,#d99b7e 336px,#d5927a 336px,#d5927a 359.5px,#d28977 359.5px,#d28977 379.8px,#cf8174 379.8px,#cf8174 398px,#cc7871 398px,#cc7871 415px,#c96f6e 415px,#c96f6e 431.2px,#c6666b 431.2px,#c6666b 446.5px,#c35e68 446.5px,#c35e68 461px,#c05565 461px,#c05565 474px,#bd4c61 474px,#bd4c61 486.2px,#ba435e 486.2px,#ba435e 498px,#b73b5b 498px,#b73b5b 509.2px,#b43258 509.2px,#b43258 520px,#b43258 520px,#b43258 530px,#ac3054 530px,#ac3054 539.5px,#a42e51 539.5px,#a42e51 548.5px,#9d2b4d 548.5px,#9d2b4d 557.2px,#95294a 557.2px,#95294a 566px,#8d2746 566px,#8d2746 574.5px,#852542 574.5px,#852542 582px,#7d233f 582px,#7d233f 589px,#75213b 589px,#75213b 595.8px,#6e1e38 595.8px,#6e1e38 602.5px,#661c34 602.5px,#661c34 610.5px,#5e1a30 610.5px,#5e1a30 621.8px,#56182d 621.8px,#56182d 640.8px,#4e1629 640.8px,#4e1629 670px,#461425 670px)"></i>
<i style="left:65px;background:linear-gradient(#eed893 65.5px,#ebcf90 65.5px,#ebcf90 133.2px,#e8c78d 133.2px,#e8c78d 181px,#e5be8a 181px,#e5be8a 220.2px,#e2b587 220.2px,#e2b587 254.8px,#dfac84 254.8px,#dfac84 285.5px,#dca481 285.5px,#dca481 314px,#d99b7e 314px,#d99b7e 340.2px,#d5927a 340.2px,#d5927a 363.2px,#d28977 363.2px,#d28977 383px,#cf8174 383px,#cf8174 401px,#cc7871 401px,#cc7871 417.8px,#c96f6e 417.8px,#c96f6e 433.5px,#c6666b 433.5px,#c6666b 449px,#c35e68 449px,#c35e68 463.5px,#c05565 463.5px,#c05565 476.8px,#bd4c61 476.8px,#bd4c61 489.5px,#ba435e 489.5px,#ba435e 501.5px,#b73b5b 501.5px,#b73b5b 512.8px,#b43258 512.8px,#b43258 523.5px,#b43258 523.5px,#b43258 533.8px,#ac3054 533.8px,#ac3054 543px,#a42e51 543px,#a42e51 552px,#9d2b4d 552px,#9d2b4d 560.5px,#95294a 560.5px,#95294a 569px,#8d2746 569px,#8d2746 577.5px,#852542 577.5px,#852542 585px,#7d233f 585px,#7d233f 591.8px,#75213b 591.8px,#75213b 598.2px,#6e1e38 598.2px,#6e1e38 605px,#661c34 605px,#661c34 612.5px,#5e1a30 612.5px,#5e1a30 624.5px,#56182d 624.5px,#56182d 650.5px,#4e1629 650.5px)"></i>
<i style="left:66px;background:linear-gradient(#f1e197 4.5px,#eed893 4.5px,#eed893 72px,#ebcf90 72px,#ebcf90 139px,#e8c78d 139px,#e8c78d 186.5px,#e5be8a 186.5px,#e5be8a 225.5px,#e2b587 225.5px,#e2b587 259.8px,#dfac84 259.8px,#dfac84 290.2px,#dca481 290.2px,#dca481 318.5px,#d99b7e 318.5px,#d99b7e 344.5px,#d5927a 344.5px,#d5927a 367.2px,#d28977 367.2px,#d28977 386.8px,#cf8174 386.8px,#cf8174 404.5px,#cc7871 404.5px,#cc7871 421px,#c96f6e 421px,#c96f6e 436.8px,#c6666b 436.8px,#c6666b 452px,#c35e68 452px,#c35e68 466.5px,#c05565 466.5px,#c05565 480px,#bd4c61 480px,#bd4c61 493px,#ba435e 493px,#ba435e 505px,#b73b5b 505px,#b73b5b 516.5px,#b43258 516.5px,#b43258 527.2px,#b43258 527.2px,#b43258 537.2px,#ac3054 537.2px,#ac3054 546.5px,#a42e51 546.5px,#a42e51 555.5px,#9d2b4d 555.5px,#9d2b4d 563.8px,#95294a 563.8px,#95294a 572.2px,#8d2746 572.2px,#8d2746 580.5px,#852542 580.5px,#852542 588px,#7d233f 588px,#7d233f 594.2px,#75213b 594.2px,#75213b 600.5px,#6e1e38 600.5px,#6e1e38 607px,#661c34 607px,#661c34 614.5px,#5e1a30 614.5px,#5e1a30 627.5px,#56182d 627.5px)"></i>
<i style="left:67px;background:linear-gradient(#f1e197 10.8px,#eed893 10.8px,#eed893 80.8px,#ebcf90 80.8px,#ebcf90 145px,#e8c78d 145px,#e8c78d 191.5px,#e5be8a 191.5px,#e5be8a 230.2px,#e2b587 230.2px,#e2b587 264.5px,#dfac84 264.5px,#dfac84 295px,#dca481 295px,#dca481 323px,#d99b7e 323px,#d99b7e 348.8px,#d5927a 348.8px,#d5927a 371.2px,#d28977 371.2px,#d28977 390.5px,#cf8174 390.5px,#cf8174 408px,#cc7871 408px,#cc7871 424.2px,#c96f6e 424.2px,#c96f6e 439.8px,#c6666b 439.8px,#c6666b 455px,#c35e68 455px,#c35e68 469.5px,#c05565 469.5px,#c05565 483.2px,#bd4c61 483.2px,#bd4c61 496.2px,#ba435e 496.2px,#ba435e 508.2px,#b73b5b 508.2px,#b73b5b 519.8px,#b43258 519.8px,#b43258 530.8px,#b43258 530.8px,#b43258 540.5px,#ac3054 540.5px,#ac3054 549.2px,#a42e51 549.2px,#a42e51 557.8px,#9d2b4d 557.8px,#9d2b4d 566px,#95294a 566px,#95294a 574.5px,#8d2746 574.5px,#8d2746 583.5px,#852542 583.5px,#852542 592.2px,#7d233f 592.2px,#7d233f 600.2px,#75213b 600.2px,#75213b 608.2px,#6e1e38 608.2px,#6e1e38 616.8px,#661c34 616.8px,#661c34 626.5px,#5e1a30 626.5px,#5e1a30 644.5px,#56182d 644.5px)"></i>
<i style="left:68px;background:linear-gradient(#f1e197 17px,#eed893 17px,#eed893 89.5px,#ebcf90 89.5px,#ebcf90 151px,#e8c78d 151px,#e8c78d 196.5px,#e5be8a 196.5px,#e5be8a 235px,#e2b587 235px,#e2b587 269px,#dfac84 269px,#dfac84 299.5px,#dca481 299.5px,#dca481 327.5px,#d99b7e 327.5px,#d99b7e 353px,#d5927a 353px,#d5927a 375.2px,#d28977 375.2px,#d28977 394.2px,#cf8174 394.2px,#cf8174 411.5px,#cc7871 411.5px,#cc7871 427.5px,#c96f6e 427.5px,#c96f6e 443px,#c6666b 443px,#c6666b 458px,#c35e68 458px,#c35e68 472.5px,#c05565 472.5px,#c05565 486.2px,#bd4c61 486.2px,#bd4c61 499.2px,#ba435e 499.2px,#ba435e 511.5px,#b73b5b 511.5px,#b73b5b 523px,#b43258 523px,#b43258 534px,#b43258 534px,#b43258 543.5px,#ac3054 543.5px,#ac3054 551.8px,#a42e51 551.8px,#a42e51 559.8px,#9d2b4d 559.8px,#9d2b4d 567.8px,#95294a 567.8px,#95294a 576.2px,#8d2746 576.2px,#8d2746 586.5px,#852542 586.5px,#852542 599px,#7d233f 599px,#7d233f 611.8px,#75213b 611.8px,#75213b 625.5px,#6e1e38 625.5px,#6e1e38 640.8px,#661c34 640.8px,#661c34 659px,#5e1a30 659px)"></i>
<i style="left:69px;background:linear-gradient(#f1e197 23px,#eed893 23px,#eed893 98.2px,#ebcf90 98.2px,#ebcf90 156.8px,#e8c78d 156.8px,#e8c78d 201.2px,#e5be8a 201.2px,#e5be8a 239.8px,#e2b587 239.8px,#e2b587 273.8px,#dfac84 273.8px,#dfac84 304.2px,#dca481 304.2px,#dca481 332px,#d99b7e 332px,#d99b7e 357.5px,#d5927a 357.5px,#d5927a 379.2px,#d28977 379.2px,#d28977 398px,#cf8174 398px,#cf8174 415px,#cc7871 415px,#cc7871 431px,#c96f6e 431px,#c96f6e 446.2px,#c6666b 446.2px,#c6666b 461.2px,#c35e68 461.2px,#c35e68 475.5px,#c05565 475.5px,#c05565 489.2px,#bd4c61 489.2px,#bd4c61 502.2px,#ba435e 502.2px,#ba435e 514.5px,#b73b5b 514.5px,#b73b5b 526.2px,#b43258 526.2px,#b43258 537px,#b43258 537px,#b43258 546.8px,#ac3054 546.8px,#ac3054 555px,#a42e51 555px,#a42e51 563px,#9d2b4d 563px,#9d2b4d 571px,#95294a 571px,#95294a 579.8px,#8d2746 579.8px,#8d2746 590.2px,#852542 590.2px,#852542 602.8px,#7d233f 602.8px,#7d233f 615.8px,#75213b 615.8px,#75213b 629.8px,#6e1e38 629.8px,#6e1e38 645.8px,#661c34 645.8px,#661c34 665.5px,#5e1a30 665.5px)"></i>
<i style="left:70px;background:linear-gradient(#f1e197 29.2px,#eed893 29.2px,#eed893 107px,#ebcf90 107px,#ebcf90 162.8px,#e8c78d 162.8px,#e8c78d 206.2px,#e5be8a 206.2px,#e5be8a 244.5px,#e2b587 244.5px,#e2b587 278.2px,#dfac84 278.2px,#dfac84 308.8px,#dca481 308.8px,#dca481 336.5px,#d99b7e 336.5px,#d99b7e 361.8px,#d5927a 361.8px,#d5927a 383.5px,#d28977 383.5px,#d28977 402px,#cf8174 402px,#cf8174 418.8px,#cc7871 418.8px,#cc7871 434.5px,#c96f6e 434.5px,#c96f6e 449.8px,#c6666b 449.8px,#c6666b 464.5px,#c35e68 464.5px,#c35e68 479px,#c05565 479px,#c05565 492.5px,#bd4c61 492.5px,#bd4c61 505.5px,#ba435e 505.5px,#ba435e 517.8px,#b73b5b 517.8px,#b73b5b 529.2px,#b43258 529.2px,#b43258 540.2px,#b43258 540.2px,#b43258 550px,#ac3054 550px,#ac3054 558.5px,#a42e51 558.5px,#a42e51 566.8px,#9d2b4d 566.8px,#9d2b4d 575px,#95294a 575px,#95294a 583.8px,#8d2746 583.8px,#8d2746 594.5px,#852542 594.5px,#852542 607px,#7d233f 607px,#7d233f 620.5px,#75213b 620.5px,#75213b 635px,#6e1e38 635px,#6e1e38 651.5px,#661c34 651.5px,#661c34 673.2px,#5e1a30 673.2px)"></i>
<i style="left:71px;background:linear-gradient(#f1e197 35.2px,#eed893 35.2px,#eed893 114.2px,#ebcf90 114.2px,#ebcf90 168.8px,#e8c78d 168.8px,#e8c78d 211.5px,#e5be8a 211.5px,#e5be8a 249.5px,#e2b587 249.5px,#e2b587 283.2px,#dfac84 283.2px,#dfac84 313.5px,#dca481 313.5px,#dca481 340.8px,#d99b7e 340.8px,#d99b7e 366px,#d5927a 366px,#d5927a 387.5px,#d28977 387.5px,#d28977 405.8px,#cf8174 405.8px,#cf8174 422.5px,#cc7871 422.5px,#cc7871 438px,#c96f6e 438px,#c96f6e 453px,#c6666b 453px,#c6666b 467.8px,#c35e68 467.8px,#c35e68 482.2px,#c05565 482.2px,#c05565 495.8px,#bd4c61 495.8px,#bd4c61 508.5px,#ba435e 508.5px,#ba435e 520.8px,#b73b5b 520.8px,#b73b5b 532.5px,#b43258 532.5px,#b43258 543.5px,#b43258 543.5px,#b43258 553.2px,#ac3054 553.2px,#ac3054 562px,#a42e51 562px,#a42e51 570.2px,#9d2b4d 570.2px,#9d2b4d 578.8px,#95294a 578.8px,#95294a 587.8px,#8d2746 587.8px,#8d2746 598.5px,#852542 598.5px,#852542 611.5px,#7d233f 611.5px,#7d233f 625.2px,#75213b 625.2px,#75213b 640.2px,#6e1e38 640.2px,#6e1e38 657.8px,#661c34 657.8px)"></i>
<i style="left:72px;background:linear-gradient(#f1e197 30.8px,#eed893 30.8px,#eed893 109px,#ebcf90 109px,#ebcf90 169.5px,#e8c78d 169.5px,#e8c78d 214px,#e5be8a 214px,#e5be8a 252px,#e2b587 252px,#e2b587 285.2px,#dfac84 285.2px,#dfac84 315px,#dca481 315px,#dca481 342.2px,#d99b7e 342.2px,#d99b7e 367.2px,#d5927a 367.2px,#d5927a 388.8px,#d28977 388.8px,#d28977 407.2px,#cf8174 407.2px,#cf8174 423.8px,#cc7871 423.8px,#cc7871 439.5px,#c96f6e 439.5px,#c96f6e 454.5px,#c6666b 454.5px,#c6666b 469.5px,#c35e68 469.5px,#c35e68 483.8px,#c05565 483.8px,#c05565 497.2px,#bd4c61 497.2px,#bd4c61 510.2px,#ba435e 510.2px,#ba435e 522.5px,#b73b5b 522.5px,#b73b5b 534.2px,#b43258 534.2px,#b43258 545.5px,#b43258 545.5px,#b43258 555.2px,#ac3054 555.2px,#ac3054 564.2px,#a42e51 564.2px,#a42e51 572.5px,#9d2b4d 572.5px,#9d2b4d 581.2px,#95294a 581.2px,#95294a 590.5px,#8d2746 590.5px,#8d2746 601.5px,#852542 601.5px,#852542 614.8px,#7d233f 614.8px,#7d233f 628.8px,#75213b 628.8px,#75213b 644.5px,#6e1e38 644.5px,#6e1e38 663.5px,#661c34 663.5px)"></i>
<i style="left:73px;background:linear-gradient(#f1e197 26.2px,#eed893 26.2px,#eed893 104px,#ebcf90 104px,#ebcf90 165.2px,#e8c78d 165.2px,#e8c78d 210.5px,#e5be8a 210.5px,#e5be8a 248.8px,#e2b587 248.8px,#e2b587 282.5px,#dfac84 282.5px,#dfac84 312.5px,#dca481 312.5px,#dca481 340px,#d99b7e 340px,#d99b7e 365.5px,#d5927a 365.5px,#d5927a 387.2px,#d28977 387.2px,#d28977 406px,#cf8174 406px,#cf8174 423px,#cc7871 423px,#cc7871 438.8px,#c96f6e 438.8px,#c96f6e 454px,#c6666b 454px,#c6666b 469px,#c35e68 469px,#c35e68 483.8px,#c05565 483.8px,#c05565 497.2px,#bd4c61 497.2px,#bd4c61 510.5px,#ba435e 510.5px,#ba435e 522.8px,#b73b5b 522.8px,#b73b5b 534.8px,#b43258 534.8px,#b43258 546px,#b43258 546px,#b43258 556px,#ac3054 556px,#ac3054 565px,#a42e51 565px,#a42e51 573.5px,#9d2b4d 573.5px,#9d2b4d 582.2px,#95294a 582.2px,#95294a 591.8px,#8d2746 591.8px,#8d2746 603px,#852542 603px,#852542 616.8px,#7d233f 616.8px,#7d233f 631.5px,#75213b 631.5px,#75213b 648.2px,#6e1e38 648.2px,#6e1e38 669.5px,#661c34 669.5px)"></i>
<i style="left:74px;background:linear-gradient(#f1e197 21.8px,#eed893 21.8px,#eed893 98.8px,#ebcf90 98.8px,#ebcf90 161px,#e8c78d 161px,#e8c78d 206.8px,#e5be8a 206.8px,#e5be8a 245.5px,#e2b587 245.5px,#e2b587 279.5px,#dfac84 279.5px,#dfac84 310.2px,#dca481 310.2px,#dca481 338px,#d99b7e 338px,#d99b7e 363.8px,#d5927a 363.8px,#d5927a 386px,#d28977 386px,#d28977 404.8px,#cf8174 404.8px,#cf8174 422px,#cc7871 422px,#cc7871 438px,#c96f6e 438px,#c96f6e 453.8px,#c6666b 453.8px,#c6666b 468.8px,#c35e68 468.8px,#c35e68 483.5px,#c05565 483.5px,#c05565 497.5px,#bd4c61 497.5px,#bd4c61 510.5px,#ba435e 510.5px,#ba435e 523px,#b73b5b 523px,#b73b5b 535px,#b43258 535px,#b43258 546.5px,#b43258 546.5px,#b43258 556.8px,#ac3054 556.8px,#ac3054 565.8px,#a42e51 565.8px,#a42e51 574.5px,#9d2b4d 574.5px,#9d2b4d 583.2px,#95294a 583.2px,#95294a 593px,#8d2746 593px,#8d2746 604.5px,#852542 604.5px,#852542 619px,#7d233f 619px,#7d233f 634.5px,#75213b 634.5px,#75213b 652.5px,#6e1e38 652.5px,#6e1e38 677.5px,#661c34 677.5px)"></i>
<i style="left:75px;background:linear-gradient(#f1e197 17.2px,#eed893 17.2px,#eed893 93.8px,#ebcf90 93.8px,#ebcf90 156.8px,#e8c78d 156.8px,#e8c78d 203px,#e5be8a 203px,#e5be8a 242.2px,#e2b587 242.2px,#e2b587 276.8px,#dfac84 276.8px,#dfac84 307.8px,#dca481 307.8px,#dca481 336px,#d99b7e 336px,#d99b7e 362px,#d5927a 362px,#d5927a 384.5px,#d28977 384.5px,#d28977 403.8px,#cf8174 403.8px,#cf8174 421px,#cc7871 421px,#cc7871 437.5px,#c96f6e 437.5px,#c96f6e 453.2px,#c6666b 453.2px,#c6666b 468.5px,#c35e68 468.5px,#c35e68 483.5px,#c05565 483.5px,#c05565 497.5px,#bd4c61 497.5px,#bd4c61 510.8px,#ba435e 510.8px,#ba435e 523.5px,#b73b5b 523.5px,#b73b5b 535.5px,#b43258 535.5px,#b43258 547px,#b43258 547px,#b43258 557.5px,#ac3054 557.5px,#ac3054 566.5px,#a42e51 566.5px,#a42e51 575.2px,#9d2b4d 575.2px,#9d2b4d 584.2px,#95294a 584.2px,#95294a 594px,#8d2746 594px,#8d2746 606px,#852542 606px,#852542 621px,#7d233f 621px,#7d233f 637.5px,#75213b 637.5px,#75213b 657.2px,#6e1e38 657.2px)"></i>
<i style="left:76px;background:linear-gradient(#f1e197 12.8px,#eed893 12.8px,#eed893 88.5px,#ebcf90 88.5px,#ebcf90 152.5px,#e8c78d 152.5px,#e8c78d 199.5px,#e5be8a 199.5px,#e5be8a 239.2px,#e2b587 239.2px,#e2b587 274px,#dfac84 274px,#dfac84 305.2px,#dca481 305.2px,#dca481 333.8px,#d99b7e 333.8px,#d99b7e 360.2px,#d5927a 360.2px,#d5927a 383px,#d28977 383px,#d28977 402.5px,#cf8174 402.5px,#cf8174 420.2px,#cc7871 420.2px,#cc7871 436.8px,#c96f6e 436.8px,#c96f6e 452.8px,#c6666b 452.8px,#c6666b 468.2px,#c35e68 468.2px,#c35e68 483.2px,#c05565 483.2px,#c05565 497.5px,#bd4c61 497.5px,#bd4c61 511px,#ba435e 511px,#ba435e 523.8px,#b73b5b 523.8px,#b73b5b 536px,#b43258 536px,#b43258 547.8px,#b43258 547.8px,#b43258 558px,#ac3054 558px,#ac3054 567.2px,#a42e51 567.2px,#a42e51 576.2px,#9d2b4d 576.2px,#9d2b4d 585.2px,#95294a 585.2px,#95294a 595.2px,#8d2746 595.2px,#8d2746 607.8px,#852542 607.8px,#852542 623.5px,#7d233f 623.5px,#7d233f 640.8px,#75213b 640.8px,#75213b 663px,#6e1e38 663px)"></i>
<i style="left:77px;background:linear-gradient(#f1e197 8.2px,#eed893 8.2px,#eed893 83.5px,#ebcf90 83.5px,#ebcf90 148.2px,#e8c78d 148.2px,#e8c78d 195.8px,#e5be8a 195.8px,#e5be8a 236px,#e2b587 236px,#e2b587 271.2px,#dfac84 271.2px,#dfac84 302.8px,#dca481 302.8px,#dca481 331.8px,#d99b7e 331.8px,#d99b7e 358.5px,#d5927a 358.5px,#d5927a 381.5px,#d28977 381.5px,#d28977 401.2px,#cf8174 401.2px,#cf8174 419.2px,#cc7871 419.2px,#cc7871 436px,#c96f6e 436px,#c96f6e 452.2px,#c6666b 452.2px,#c6666b 468px,#c35e68 468px,#c35e68 483.2px,#c05565 483.2px,#c05565 497.5px,#bd4c61 497.5px,#bd4c61 511px,#ba435e 511px,#ba435e 524px,#b73b5b 524px,#b73b5b 536.5px,#b43258 536.5px,#b43258 548.2px,#b43258 548.2px,#b43258 558.8px,#ac3054 558.8px,#ac3054 568px,#a42e51 568px,#a42e51 577px,#9d2b4d 577px,#9d2b4d 586px,#95294a 586px,#95294a 596px,#8d2746 596px,#8d2746 608.8px,#852542 608.8px,#852542 625.2px,#7d233f 625.2px,#7d233f 644px,#75213b 644px,#75213b 670.5px,#6e1e38 670.5px)"></i>
<i style="left:78px;background:linear-gradient(#f1e197 3.8px,#eed893 3.8px,#eed893 78.2px,#ebcf90 78.2px,#ebcf90 143.5px,#e8c78d 143.5px,#e8c78d 191.8px,#e5be8a 191.8px,#e5be8a 232.5px,#e2b587 232.5px,#e2b587 268.2px,#dfac84 268.2px,#dfac84 300.2px,#dca481 300.2px,#dca481 329.8px,#d99b7e 329.8px,#d99b7e 356.8px,#d5927a 356.8px,#d5927a 380.2px,#d28977 380.2px,#d28977 400.2px,#cf8174 400.2px,#cf8174 418.2px,#cc7871 418.2px,#cc7871 435.5px,#c96f6e 435.5px,#c96f6e 451.8px,#c6666b 451.8px,#c6666b 467.8px,#c35e68 467.8px,#c35e68 483.2px,#c05565 483.2px,#c05565 497.8px,#bd4c61 497.8px,#bd4c61 511.2px,#ba435e 511.2px,#ba435e 524.5px,#b73b5b 524.5px,#b73b5b 536.8px,#b43258 536.8px,#b43258 548.8px,#b43258 548.8px,#b43258 559.2px,#ac3054 559.2px,#ac3054 568.5px,#a42e51 568.5px,#a42e51 577.2px,#9d2b4d 577.2px,#9d2b4d 586.5px,#95294a 586.5px,#95294a 596.5px,#8d2746 596.5px,#8d2746 609.5px,#852542 609.5px,#852542 627.2px,#7d233f 627.2px,#7d233f 647.5px,#75213b 647.5px)"></i>
<i style="left:79px;background:linear-gradient(#eed893 74px,#ebcf90 74px,#ebcf90 138.5px,#e8c78d 138.5px,#e8c78d 187px,#e5be8a 187px,#e5be8a 228.5px,#e2b587 228.5px,#e2b587 265px,#dfac84 265px,#dfac84 297.8px,#dca481 297.8px,#dca481 327.5px,#d99b7e 327.5px,#d99b7e 355px,#d5927a 355px,#d5927a 378.8px,#d28977 378.8px,#d28977 399px,#cf8174 399px,#cf8174 417.5px,#cc7871 417.5px,#cc7871 434.8px,#c96f6e 434.8px,#c96f6e 451.2px,#c6666b 451.2px,#c6666b 467.5px,#c35e68 467.5px,#c35e68 483px,#c05565 483px,#c05565 497.8px,#bd4c61 497.8px,#bd4c61 511.5px,#ba435e 511.5px,#ba435e 524.8px,#b73b5b 524.8px,#b73b5b 537.2px,#b43258 537.2px,#b43258 549.5px,#b43258 549.5px,#b43258 560px,#ac3054 560px,#ac3054 569px,#a42e51 569px,#a42e51 577.8px,#9d2b4d 577.8px,#9d2b4d 586.8px,#95294a 586.8px,#95294a 596.8px,#8d2746 596.8px,#8d2746 610.2px,#852542 610.2px,#852542 629.2px,#7d233f 629.2px,#7d233f 651.8px,#75213b 651.8px)"></i>
<i style="left:80px;background:linear-gradient(#eed893 70.2px,#ebcf90 70.2px,#ebcf90 133.5px,#e8c78d 133.5px,#e8c78d 182px,#e5be8a 182px,#e5be8a 224px,#e2b587 224px,#e2b587 261.2px,#dfac84 261.2px,#dfac84 294.5px,#dca481 294.5px,#dca481 325px,#d99b7e 325px,#d99b7e 353px,#d5927a 353px,#d5927a 377px,#d28977 377px,#d28977 397.8px,#cf8174 397.8px,#cf8174 416.5px,#cc7871 416.5px,#cc7871 434px,#c96f6e 434px,#c96f6e 450.8px,#c6666b 450.8px,#c6666b 467.2px,#c35e68 467.2px,#c35e68 483px,#c05565 483px,#c05565 497.8px,#bd4c61 497.8px,#bd4c61 511.8px,#ba435e 511.8px,#ba435e 525px,#b73b5b 525px,#b73b5b 537.8px,#b43258 537.8px,#b43258 550px,#b43258 550px,#b43258 560.5px,#ac3054 560.5px,#ac3054 569.8px,#a42e51 569.8px,#a42e51 578.5px,#9d2b4d 578.5px,#9d2b4d 587.5px,#95294a 587.5px,#95294a 597.8px,#8d2746 597.8px,#8d2746 611.5px,#852542 611.5px,#852542 632px,#7d233f 632px,#7d233f 658.2px,#75213b 658.2px)"></i>
<i style="left:81px;background:linear-gradient(#eed893 66.8px,#ebcf90 66.8px,#ebcf90 128.5px,#e8c78d 128.5px,#e8c78d 177px,#e5be8a 177px,#e5be8a 219.5px,#e2b587 219.5px,#e2b587 257.2px,#dfac84 257.2px,#dfac84 291.2px,#dca481 291.2px,#dca481 322.2px,#d99b7e 322.2px,#d99b7e 350.8px,#d5927a 350.8px,#d5927a 375.2px,#d28977 375.2px,#d28977 396.2px,#cf8174 396.2px,#cf8174 415.2px,#cc7871 415.2px,#cc7871 433.2px,#c96f6e 433.2px,#c96f6e 450.2px,#c6666b 450.2px,#c6666b 467px,#c35e68 467px,#c35e68 483px,#c05565 483px,#c05565 497.8px,#bd4c61 497.8px,#bd4c61 511.8px,#ba435e 511.8px,#ba435e 525.2px,#b73b5b 525.2px,#b73b5b 538px,#b43258 538px,#b43258 550.5px,#b43258 550.5px,#b43258 561.2px,#ac3054 561.2px,#ac3054 570.5px,#a42e51 570.5px,#a42e51 579.2px,#9d2b4d 579.2px,#9d2b4d 588.5px,#95294a 588.5px,#95294a 598.8px,#8d2746 598.8px,#8d2746 613.2px,#852542 613.2px,#852542 636px,#7d233f 636px,#7d233f 672.2px,#75213b 672.2px)"></i>
<i style="left:82px;background:linear-gradient(#eed893 63.2px,#ebcf90 63.2px,#ebcf90 123.5px,#e8c78d 123.5px,#e8c78d 172px,#e5be8a 172px,#e5be8a 215px,#e2b587 215px,#e2b587 253.5px,#dfac84 253.5px,#dfac84 288px,#dca481 288px,#dca481 319.5px,#d99b7e 319.5px,#d99b7e 348.5px,#d5927a 348.5px,#d5927a 373.2px,#d28977 373.2px,#d28977 394.8px,#cf8174 394.8px,#cf8174 414.2px,#cc7871 414.2px,#cc7871 432.2px,#c96f6e 432.2px,#c96f6e 449.8px,#c6666b 449.8px,#c6666b 466.5px,#c35e68 466.5px,#c35e68 482.8px,#c05565 482.8px,#c05565 497.8px,#bd4c61 497.8px,#bd4c61 512px,#ba435e 512px,#ba435e 525.5px,#b73b5b 525.5px,#b73b5b 538.5px,#b43258 538.5px,#b43258 551px,#b43258 551px,#b43258 561.8px,#ac3054 561.8px,#ac3054 571.2px,#a42e51 571.2px,#a42e51 580.2px,#9d2b4d 580.2px,#9d2b4d 589.2px,#95294a 589.2px,#95294a 599.8px,#8d2746 599.8px,#8d2746 615px,#852542 615px,#852542 641px,#7d233f 641px)"></i>
<i style="left:83px;background:linear-gradient(#eed893 59.5px,#ebcf90 59.5px,#ebcf90 118.5px,#e8c78d 118.5px,#e8c78d 167px,#e5be8a 167px,#e5be8a 210.5px,#e2b587 210.5px,#e2b587 249.5px,#dfac84 249.5px,#dfac84 285px,#dca481 285px,#dca481 317px,#d99b7e 317px,#d99b7e 346px,#d5927a 346px,#d5927a 371.2px,#d28977 371.2px,#d28977 393px,#cf8174 393px,#cf8174 412.5px,#cc7871 412.5px,#cc7871 431px,#c96f6e 431px,#c96f6e 448.5px,#c6666b 448.5px,#c6666b 465.5px,#c35e68 465.5px,#c35e68 482px,#c05565 482px,#c05565 497.2px,#bd4c61 497.2px,#bd4c61 511.8px,#ba435e 511.8px,#ba435e 525.5px,#b73b5b 525.5px,#b73b5b 538.8px,#b43258 538.8px,#b43258 551.5px,#b43258 551.5px,#b43258 562.5px,#ac3054 562.5px,#ac3054 572px,#a42e51 572px,#a42e51 581px,#9d2b4d 581px,#9d2b4d 590.2px,#95294a 590.2px,#95294a 600.8px,#8d2746 600.8px,#8d2746 616.8px,#852542 616.8px,#852542 648px,#7d233f 648px)"></i>
<i style="left:84px;background:linear-gradient(#eed893 56px,#ebcf90 56px,#ebcf90 114.5px,#e8c78d 114.5px,#e8c78d 162.8px,#e5be8a 162.8px,#e5be8a 206.8px,#e2b587 206.8px,#e2b587 246.2px,#dfac84 246.2px,#dfac84 282px,#dca481 282px,#dca481 314.2px,#d99b7e 314.2px,#d99b7e 343.8px,#d5927a 343.8px,#d5927a 369.2px,#d28977 369.2px,#d28977 391px,#cf8174 391px,#cf8174 410.8px,#cc7871 410.8px,#cc7871 429.5px,#c96f6e 429.5px,#c96f6e 447.2px,#c6666b 447.2px,#c6666b 464.5px,#c35e68 464.5px,#c35e68 481.2px,#c05565 481.2px,#c05565 496.8px,#bd4c61 496.8px,#bd4c61 511.5px,#ba435e 511.5px,#ba435e 525.5px,#b73b5b 525.5px,#b73b5b 539px,#b43258 539px,#b43258 552px,#b43258 552px,#b43258 563px,#ac3054 563px,#ac3054 572.5px,#a42e51 572.5px,#a42e51 581.8px,#9d2b4d 581.8px,#9d2b4d 591px,#95294a 591px,#95294a 601.8px,#8d2746 601.8px,#8d2746 618.5px,#852542 618.5px,#852542 659.5px,#7d233f 659.5px)"></i>
<i style="left:85px;background:linear-gradient(#eed893 52.5px,#ebcf90 52.5px,#ebcf90 111.2px,#e8c78d 111.2px,#e8c78d 160px,#e5be8a 160px,#e5be8a 204px,#e2b587 204px,#e2b587 243.5px,#dfac84 243.5px,#dfac84 279.5px,#dca481 279.5px,#dca481 311.8px,#d99b7e 311.8px,#d99b7e 341.5px,#d5927a 341.5px,#d5927a 367.2px,#d28977 367.2px,#d28977 389.2px,#cf8174 389.2px,#cf8174 409.2px,#cc7871 409.2px,#cc7871 428px,#c96f6e 428px,#c96f6e 446px,#c6666b 446px,#c6666b 463.5px,#c35e68 463.5px,#c35e68 480.5px,#c05565 480.5px,#c05565 496.2px,#bd4c61 496.2px,#bd4c61 511.2px,#ba435e 511.2px,#ba435e 525.8px,#b73b5b 525.8px,#b73b5b 539.2px,#b43258 539.2px,#b43258 552.5px,#b43258 552.5px,#b43258 563.8px,#ac3054 563.8px,#ac3054 573.2px,#a42e51 573.2px,#a42e51 582.2px,#9d2b4d 582.2px,#9d2b4d 591.8px,#95294a 591.8px,#95294a 602.5px,#8d2746 602.5px,#8d2746 620.2px,#852542 620.2px)"></i>
<i style="left:86px;background:linear-gradient(#eed893 48.8px,#ebcf90 48.8px,#ebcf90 108.2px,#e8c78d 108.2px,#e8c78d 157px,#e5be8a 157px,#e5be8a 201px,#e2b587 201px,#e2b587 240.8px,#dfac84 240.8px,#dfac84 276.8px,#dca481 276.8px,#dca481 309.5px,#d99b7e 309.5px,#d99b7e 339.2px,#d5927a 339.2px,#d5927a 365px,#d28977 365px,#d28977 387px,#cf8174 387px,#cf8174 407.2px,#cc7871 407.2px,#cc7871 426.2px,#c96f6e 426.2px,#c96f6e 444.5px,#c6666b 444.5px,#c6666b 462.5px,#c35e68 462.5px,#c35e68 480.2px,#c05565 480.2px,#c05565 496.8px,#bd4c61 496.8px,#bd4c61 512.8px,#ba435e 512.8px,#ba435e 528px,#b73b5b 528px,#b73b5b 542.2px,#b43258 542.2px,#b43258 556.2px,#b43258 556.2px,#b43258 567.8px,#ac3054 567.8px,#ac3054 577.2px,#a42e51 577.2px,#a42e51 586.5px,#9d2b4d 586.5px,#9d2b4d 596px,#95294a 596px,#95294a 606.8px,#8d2746 606.8px,#8d2746 625.8px,#852542 625.8px)"></i>
<i style="left:87px;background:linear-gradient(#eed893 51.5px,#ebcf90 51.5px,#ebcf90 109.5px,#e8c78d 109.5px,#e8c78d 157.8px,#e5be8a 157.8px,#e5be8a 201.8px,#e2b587 201.8px,#e2b587 241.8px,#dfac84 241.8px,#dfac84 278.2px,#dca481 278.2px,#dca481 311.2px,#d99b7e 311.2px,#d99b7e 341.8px,#d5927a 341.8px,#d5927a 368.5px,#d28977 368.5px,#d28977 391.8px,#cf8174 391.8px,#cf8174 413px,#cc7871 413px,#cc7871 433px,#c96f6e 433px,#c96f6e 452px,#c6666b 452px,#c6666b 470.5px,#c35e68 470.5px,#c35e68 488px,#c05565 488px,#c05565 504.5px,#bd4c61 504.5px,#bd4c61 520px,#ba435e 520px,#ba435e 534.8px,#b73b5b 534.8px,#b73b5b 549px,#b43258 549px,#b43258 562.8px,#b43258 562.8px,#b43258 574.5px,#ac3054 574.5px,#ac3054 584.2px,#a42e51 584.2px,#a42e51 593.8px,#9d2b4d 593.8px,#9d2b4d 603.5px,#95294a 603.5px,#95294a 614.5px,#8d2746 614.5px,#8d2746 635.2px,#852542 635.2px)"></i>
<i style="left:88px;background:linear-gradient(#eed893 56.8px,#ebcf90 56.8px,#ebcf90 115.2px,#e8c78d 115.2px,#e8c78d 163.8px,#e5be8a 163.8px,#e5be8a 207.8px,#e2b587 207.8px,#e2b587 248px,#dfac84 248px,#dfac84 284.5px,#dca481 284.5px,#dca481 318px,#d99b7e 318px,#d99b7e 349px,#d5927a 349px,#d5927a 377px,#d28977 377px,#d28977 401.5px,#cf8174 401.5px,#cf8174 424px,#cc7871 424px,#cc7871 444.8px,#c96f6e 444.8px,#c96f6e 464.5px,#c6666b 464.5px,#c6666b 483px,#c35e68 483px,#c35e68 499.2px,#c05565 499.2px,#c05565 513.2px,#bd4c61 513.2px,#bd4c61 526.8px,#ba435e 526.8px,#ba435e 540px,#b73b5b 540px,#b73b5b 554px,#b43258 554px,#b43258 569px,#b43258 569px,#b43258 585.8px,#ac3054 585.8px,#ac3054 603px,#a42e51 603px,#a42e51 621px,#9d2b4d 621px,#9d2b4d 639.8px,#95294a 639.8px,#95294a 659.8px,#8d2746 659.8px)"></i>
<i style="left:89px;background:linear-gradient(#eed893 62px,#ebcf90 62px,#ebcf90 121.2px,#e8c78d 121.2px,#e8c78d 170px,#e5be8a 170px,#e5be8a 214.5px,#e2b587 214.5px,#e2b587 254.8px,#dfac84 254.8px,#dfac84 291.5px,#dca481 291.5px,#dca481 325.2px,#d99b7e 325.2px,#d99b7e 356.5px,#d5927a 356.5px,#d5927a 384.5px,#d28977 384.5px,#d28977 409.2px,#cf8174 409.2px,#cf8174 432px,#cc7871 432px,#cc7871 453px,#c96f6e 453px,#c96f6e 472.5px,#c6666b 472.5px,#c6666b 490.8px,#c35e68 490.8px,#c35e68 506.8px,#c05565 506.8px,#c05565 520.5px,#bd4c61 520.5px,#bd4c61 533.8px,#ba435e 533.8px,#ba435e 546.5px,#b73b5b 546.5px,#b73b5b 560px,#b43258 560px,#b43258 575px,#b43258 575px,#b43258 592px,#ac3054 592px,#ac3054 609.2px,#a42e51 609.2px,#a42e51 627.5px,#9d2b4d 627.5px,#9d2b4d 647.2px,#95294a 647.2px,#95294a 668.2px,#8d2746 668.2px)"></i>
<i style="left:90px;background:linear-gradient(#eed893 67.2px,#ebcf90 67.2px,#ebcf90 128px,#e8c78d 128px,#e8c78d 177.8px,#e5be8a 177.8px,#e5be8a 222.5px,#e2b587 222.5px,#e2b587 263px,#dfac84 263px,#dfac84 300px,#dca481 300px,#dca481 333.8px,#d99b7e 333.8px,#d99b7e 365px,#d5927a 365px,#d5927a 393px,#d28977 393px,#d28977 417.8px,#cf8174 417.8px,#cf8174 440.2px,#cc7871 440.2px,#cc7871 461px,#c96f6e 461px,#c96f6e 480.5px,#c6666b 480.5px,#c6666b 498.8px,#c35e68 498.8px,#c35e68 514.8px,#c05565 514.8px,#c05565 528.5px,#bd4c61 528.5px,#bd4c61 541.5px,#ba435e 541.5px,#ba435e 554.2px,#b73b5b 554.2px,#b73b5b 567.8px,#b43258 567.8px,#b43258 583px,#b43258 583px,#b43258 599.8px,#ac3054 599.8px,#ac3054 617.5px,#a42e51 617.5px,#a42e51 636.2px,#9d2b4d 636.2px,#9d2b4d 656.2px,#95294a 656.2px,#95294a 678.5px,#8d2746 678.5px)"></i>
<i style="left:91px;background:linear-gradient(#eed893 72.5px,#ebcf90 72.5px,#ebcf90 136px,#e8c78d 136px,#e8c78d 186.5px,#e5be8a 186.5px,#e5be8a 231.2px,#e2b587 231.2px,#e2b587 271.5px,#dfac84 271.5px,#dfac84 308px,#dca481 308px,#dca481 341.5px,#d99b7e 341.5px,#d99b7e 372.8px,#d5927a 372.8px,#d5927a 400.8px,#d28977 400.8px,#d28977 425.5px,#cf8174 425.5px,#cf8174 448px,#cc7871 448px,#cc7871 468.8px,#c96f6e 468.8px,#c96f6e 488.2px,#c6666b 488.2px,#c6666b 506.8px,#c35e68 506.8px,#c35e68 523px,#c05565 523px,#c05565 537px,#bd4c61 537px,#bd4c61 550.2px,#ba435e 550.2px,#ba435e 563.5px,#b73b5b 563.5px,#b73b5b 577.2px,#b43258 577.2px,#b43258 592.5px,#b43258 592.5px,#b43258 609.5px,#ac3054 609.5px,#ac3054 627.2px,#a42e51 627.2px,#a42e51 646.2px,#9d2b4d 646.2px,#9d2b4d 666.5px,#95294a 666.5px)"></i>
<i style="left:92px;background:linear-gradient(#f1e197 4px,#eed893 4px,#eed893 77.8px,#ebcf90 77.8px,#ebcf90 144px,#e8c78d 144px,#e8c78d 195.2px,#e5be8a 195.2px,#e5be8a 240px,#e2b587 240px,#e2b587 279.8px,#dfac84 279.8px,#dfac84 316px,#dca481 316px,#dca481 349.2px,#d99b7e 349.2px,#d99b7e 380.2px,#d5927a 380.2px,#d5927a 407.8px,#d28977 407.8px,#d28977 431.8px,#cf8174 431.8px,#cf8174 453.8px,#cc7871 453.8px,#cc7871 474.2px,#c96f6e 474.2px,#c96f6e 493.8px,#c6666b 493.8px,#c6666b 512.2px,#c35e68 512.2px,#c35e68 529px,#c05565 529px,#c05565 543.8px,#bd4c61 543.8px,#bd4c61 558px,#ba435e 558px,#ba435e 571.8px,#b73b5b 571.8px,#b73b5b 586.2px,#b43258 586.2px,#b43258 602px,#b43258 602px,#b43258 619.2px,#ac3054 619.2px,#ac3054 637.2px,#a42e51 637.2px,#a42e51 656.2px,#9d2b4d 656.2px,#9d2b4d 676.5px,#95294a 676.5px)"></i>
<i style="left:93px;background:linear-gradient(#f1e197 9.2px,#eed893 9.2px,#eed893 83px,#ebcf90 83px,#ebcf90 152px,#e8c78d 152px,#e8c78d 204.2px,#e5be8a 204.2px,#e5be8a 249px,#e2b587 249px,#e2b587 288.8px,#dfac84 288.8px,#dfac84 324.5px,#dca481 324.5px,#dca481 357.5px,#d99b7e 357.5px,#d99b7e 388px,#d5927a 388px,#d5927a 414.8px,#d28977 414.8px,#d28977 438px,#cf8174 438px,#cf8174 459.2px,#cc7871 459.2px,#cc7871 479px,#c96f6e 479px,#c96f6e 498px,#c6666b 498px,#c6666b 516.8px,#c35e68 516.8px,#c35e68 534px,#c05565 534px,#c05565 549.8px,#bd4c61 549.8px,#bd4c61 564.8px,#ba435e 564.8px,#ba435e 579.5px,#b73b5b 579.5px,#b73b5b 594.8px,#b43258 594.8px,#b43258 611.2px,#b43258 611.2px,#b43258 628.8px,#ac3054 628.8px,#ac3054 647px,#a42e51 647px,#a42e51 665.8px,#9d2b4d 665.8px)"></i>
<i style="left:94px;background:linear-gradient(#f1e197 14.2px,#eed893 14.2px,#eed893 88.5px,#ebcf90 88.5px,#ebcf90 160.5px,#e8c78d 160.5px,#e8c78d 214px,#e5be8a 214px,#e5be8a 259.2px,#e2b587 259.2px,#e2b587 299px,#dfac84 299px,#dfac84 334.8px,#dca481 334.8px,#dca481 367.5px,#d99b7e 367.5px,#d99b7e 397.8px,#d5927a 397.8px,#d5927a 423.5px,#d28977 423.5px,#d28977 445.8px,#cf8174 445.8px,#cf8174 465.8px,#cc7871 465.8px,#cc7871 484.8px,#c96f6e 484.8px,#c96f6e 503px,#c6666b 503px,#c6666b 521.2px,#c35e68 521.2px,#c35e68 538.2px,#c05565 538.2px,#c05565 553.8px,#bd4c61 553.8px,#bd4c61 568.8px,#ba435e 568.8px,#ba435e 583.8px,#b73b5b 583.8px,#b73b5b 599.2px,#b43258 599.2px,#b43258 616px,#b43258 616px,#b43258 634.2px,#ac3054 634.2px,#ac3054 653.5px,#a42e51 653.5px,#a42e51 674px,#9d2b4d 674px)"></i>
<i style="left:95px;background:linear-gradient(#f1e197 19.2px,#eed893 19.2px,#eed893 94.2px,#ebcf90 94.2px,#ebcf90 169.5px,#e8c78d 169.5px,#e8c78d 224.2px,#e5be8a 224.2px,#e5be8a 270px,#e2b587 270px,#e2b587 309.8px,#dfac84 309.8px,#dfac84 345.2px,#dca481 345.2px,#dca481 377.5px,#d99b7e 377.5px,#d99b7e 407.2px,#d5927a 407.2px,#d5927a 432.2px,#d28977 432.2px,#d28977 453.2px,#cf8174 453.2px,#cf8174 472.5px,#cc7871 472.5px,#cc7871 490.5px,#c96f6e 490.5px,#c96f6e 508px,#c6666b 508px,#c6666b 525.8px,#c35e68 525.8px,#c35e68 542.2px,#c05565 542.2px,#c05565 557.8px,#bd4c61 557.8px,#bd4c61 572.8px,#ba435e 572.8px,#ba435e 587.8px,#b73b5b 587.8px,#b73b5b 603.5px,#b43258 603.5px,#b43258 620.8px,#b43258 620.8px,#b43258 640px,#ac3054 640px,#ac3054 660.8px,#a42e51 660.8px)"></i>
<i style="left:96px;background:linear-gradient(#f1e197 24.2px,#eed893 24.2px,#eed893 99.8px,#ebcf90 99.8px,#ebcf90 178.5px,#e8c78d 178.5px,#e8c78d 233.2px,#e5be8a 233.2px,#e5be8a 277.8px,#e2b587 277.8px,#e2b587 316.5px,#dfac84 316.5px,#dfac84 351.5px,#dca481 351.5px,#dca481 383.2px,#d99b7e 383.2px,#d99b7e 413px,#d5927a 413px,#d5927a 438.2px,#d28977 438.2px,#d28977 460px,#cf8174 460px,#cf8174 479.8px,#cc7871 479.8px,#cc7871 498.5px,#c96f6e 498.5px,#c96f6e 516.5px,#c6666b 516.5px,#c6666b 534.5px,#c35e68 534.5px,#c35e68 551.5px,#c05565 551.5px,#c05565 567px,#bd4c61 567px,#bd4c61 582px,#ba435e 582px,#ba435e 597px,#b73b5b 597px,#b73b5b 612.8px,#b43258 612.8px,#b43258 630px,#b43258 630px,#b43258 649.5px,#ac3054 649.5px,#ac3054 671px,#a42e51 671px)"></i>
<i style="left:97px;background:linear-gradient(#f1e197 29.2px,#eed893 29.2px,#eed893 105.2px,#ebcf90 105.2px,#ebcf90 187.5px,#e8c78d 187.5px,#e8c78d 241.2px,#e5be8a 241.2px,#e5be8a 283.8px,#e2b587 283.8px,#e2b587 320.8px,#dfac84 320.8px,#dfac84 354.2px,#dca481 354.2px,#dca481 385.2px,#d99b7e 385.2px,#d99b7e 414.5px,#d5927a 414.5px,#d5927a 440.5px,#d28977 440.5px,#d28977 463px,#cf8174 463px,#cf8174 483.5px,#cc7871 483.5px,#cc7871 503px,#c96f6e 503px,#c96f6e 521.8px,#c6666b 521.8px,#c6666b 540.2px,#c35e68 540.2px,#c35e68 557.2px,#c05565 557.2px,#c05565 572.8px,#bd4c61 572.8px,#bd4c61 587.8px,#ba435e 587.8px,#ba435e 602.5px,#b73b5b 602.5px,#b73b5b 618.5px,#b43258 618.5px,#b43258 636.2px,#b43258 636.2px,#b43258 657.2px,#ac3054 657.2px)"></i>
<i style="left:98px;background:linear-gradient(#f1e197 34.2px,#eed893 34.2px,#eed893 111px,#ebcf90 111px,#ebcf90 194px,#e8c78d 194px,#e8c78d 246.8px,#e5be8a 246.8px,#e5be8a 288px,#e2b587 288px,#e2b587 324px,#dfac84 324px,#dfac84 356.8px,#dca481 356.8px,#dca481 387.2px,#d99b7e 387.2px,#d99b7e 416px,#d5927a 416px,#d5927a 442px,#d28977 442px,#d28977 464.5px,#cf8174 464.5px,#cf8174 485.5px,#cc7871 485.5px,#cc7871 505px,#c96f6e 505px,#c96f6e 524px,#c6666b 524px,#c6666b 542.5px,#c35e68 542.5px,#c35e68 559.2px,#c05565 559.2px,#c05565 574.2px,#bd4c61 574.2px,#bd4c61 588.8px,#ba435e 588.8px,#ba435e 603.5px,#b73b5b 603.5px,#b73b5b 619.5px,#b43258 619.5px,#b43258 638.5px,#b43258 638.5px,#b43258 663.8px,#ac3054 663.8px)"></i>
<i style="left:99px;background:linear-gradient(#f1e197 39.2px,#eed893 39.2px,#eed893 116.5px,#ebcf90 116.5px,#ebcf90 197.5px,#e8c78d 197.5px,#e8c78d 249.5px,#e5be8a 249.5px,#e5be8a 290.5px,#e2b587 290.5px,#e2b587 326px,#dfac84 326px,#dfac84 358.5px,#dca481 358.5px,#dca481 389px,#d99b7e 389px,#d99b7e 417.8px,#d5927a 417.8px,#d5927a 443.5px,#d28977 443.5px,#d28977 466.2px,#cf8174 466.2px,#cf8174 487.2px,#cc7871 487.2px,#cc7871 507px,#c96f6e 507px,#c96f6e 526px,#c6666b 526px,#c6666b 544.8px,#c35e68 544.8px,#c35e68 561.2px,#c05565 561.2px,#c05565 575.8px,#bd4c61 575.8px,#bd4c61 589.8px,#ba435e 589.8px,#ba435e 604px,#b73b5b 604px,#b73b5b 619.8px,#b43258 619.8px,#b43258 640.8px,#b43258 640.8px,#b43258 675.2px,#ac3054 675.2px)"></i>
<i style="left:100px;background:linear-gradient(#f1e197 44.2px,#eed893 44.2px,#eed893 122.2px,#ebcf90 122.2px,#ebcf90 201px,#e8c78d 201px,#e8c78d 252.2px,#e5be8a 252.2px,#e5be8a 292.8px,#e2b587 292.8px,#e2b587 328.2px,#dfac84 328.2px,#dfac84 360.5px,#dca481 360.5px,#dca481 390.5px,#d99b7e 390.5px,#d99b7e 419.2px,#d5927a 419.2px,#d5927a 445.2px,#d28977 445.2px,#d28977 468.2px,#cf8174 468.2px,#cf8174 489.2px,#cc7871 489.2px,#cc7871 509px,#c96f6e 509px,#c96f6e 528.2px,#c6666b 528.2px,#c6666b 547px,#c35e68 547px,#c35e68 563px,#c05565 563px,#c05565 577px,#bd4c61 577px,#bd4c61 590.2px,#ba435e 590.2px,#ba435e 604px,#b73b5b 604px,#b73b5b 619.5px,#b43258 619.5px,#b43258 643px,#b43258 643px)"></i>
<i style="left:101px;background:linear-gradient(#f1e197 49.2px,#eed893 49.2px,#eed893 127.8px,#ebcf90 127.8px,#ebcf90 204.8px,#e8c78d 204.8px,#e8c78d 255.2px,#e5be8a 255.2px,#e5be8a 295.5px,#e2b587 295.5px,#e2b587 330.8px,#dfac84 330.8px,#dfac84 363px,#dca481 363px,#dca481 393px,#d99b7e 393px,#d99b7e 421.5px,#d5927a 421.5px,#d5927a 447px,#d28977 447px,#d28977 469.2px,#cf8174 469.2px,#cf8174 490px,#cc7871 490px,#cc7871 509.8px,#c96f6e 509.8px,#c96f6e 529.5px,#c6666b 529.5px,#c6666b 549.2px,#c35e68 549.2px,#c35e68 567.2px,#c05565 567.2px,#c05565 583.2px,#bd4c61 583.2px,#bd4c61 598.5px,#ba435e 598.5px,#ba435e 614.8px,#b73b5b 614.8px,#b73b5b 633px,#b43258 633px,#b43258 662.5px,#b43258 662.5px)"></i>
<i style="left:102px;background:linear-gradient(#f1e197 54.5px,#eed893 54.5px,#eed893 133px,#ebcf90 133px,#ebcf90 208.2px,#e8c78d 208.2px,#e8c78d 258.5px,#e5be8a 258.5px,#e5be8a 298.5px,#e2b587 298.5px,#e2b587 333.8px,#dfac84 333.8px,#dfac84 366px,#dca481 366px,#dca481 396px,#d99b7e 396px,#d99b7e 424.5px,#d5927a 424.5px,#d5927a 449.5px,#d28977 449.5px,#d28977 471.2px,#cf8174 471.2px,#cf8174 491.2px,#cc7871 491.2px,#cc7871 511px,#c96f6e 511px,#c96f6e 530.8px,#c6666b 530.8px,#c6666b 551.5px,#c35e68 551.5px,#c35e68 573px,#c05565 573px,#c05565 594.5px,#bd4c61 594.5px,#bd4c61 616.2px,#ba435e 616.2px,#ba435e 638px,#b73b5b 638px,#b73b5b 660px,#b43258 660px)"></i>
<i style="left:103px;background:linear-gradient(#f1e197 59.5px,#eed893 59.5px,#eed893 137.8px,#ebcf90 137.8px,#ebcf90 212px,#e8c78d 212px,#e8c78d 262px,#e5be8a 262px,#e5be8a 302px,#e2b587 302px,#e2b587 337px,#dfac84 337px,#dfac84 369.2px,#dca481 369.2px,#dca481 399px,#d99b7e 399px,#d99b7e 427.5px,#d5927a 427.5px,#d5927a 452.2px,#d28977 452.2px,#d28977 474px,#cf8174 474px,#cf8174 494px,#cc7871 494px,#cc7871 513.5px,#c96f6e 513.5px,#c96f6e 533px,#c6666b 533px,#c6666b 553.8px,#c35e68 553.8px,#c35e68 575px,#c05565 575px,#c05565 596.8px,#bd4c61 596.8px,#bd4c61 618.2px,#ba435e 618.2px,#ba435e 640.2px,#b73b5b 640.2px,#b73b5b 662px,#b43258 662px)"></i>
<i style="left:104px;background:linear-gradient(#f1e197 64.5px,#eed893 64.5px,#eed893 142.5px,#ebcf90 142.5px,#ebcf90 216px,#e8c78d 216px,#e8c78d 265.5px,#e5be8a 265.5px,#e5be8a 305.5px,#e2b587 305.5px,#e2b587 340.5px,#dfac84 340.5px,#dfac84 372.2px,#dca481 372.2px,#dca481 402.2px,#d99b7e 402.2px,#d99b7e 430.5px,#d5927a 430.5px,#d5927a 455.2px,#d28977 455.2px,#d28977 476.5px,#cf8174 476.5px,#cf8174 496.5px,#cc7871 496.5px,#cc7871 515.8px,#c96f6e 515.8px,#c96f6e 535.5px,#c6666b 535.5px,#c6666b 556px,#c35e68 556px,#c35e68 577.2px,#c05565 577.2px,#c05565 598.8px,#bd4c61 598.8px,#bd4c61 620.5px,#ba435e 620.5px,#ba435e 642.2px,#b73b5b 642.2px,#b73b5b 664.2px,#b43258 664.2px)"></i>
<i style="left:105px;background:linear-gradient(#f1e197 69.8px,#eed893 69.8px,#eed893 147.2px,#ebcf90 147.2px,#ebcf90 220px,#e8c78d 220px,#e8c78d 269.2px,#e5be8a 269.2px,#e5be8a 309px,#e2b587 309px,#e2b587 343.8px,#dfac84 343.8px,#dfac84 375.5px,#dca481 375.5px,#dca481 405.2px,#d99b7e 405.2px,#d99b7e 433.2px,#d5927a 433.2px,#d5927a 458px,#d28977 458px,#d28977 479.2px,#cf8174 479.2px,#cf8174 499px,#cc7871 499px,#cc7871 518.2px,#c96f6e 518.2px,#c96f6e 537.8px,#c6666b 537.8px,#c6666b 558px,#c35e68 558px,#c35e68 579.5px,#c05565 579.5px,#c05565 601px,#bd4c61 601px,#bd4c61 622.5px,#ba435e 622.5px,#ba435e 644.2px,#b73b5b 644.2px,#b73b5b 666.2px,#b43258 666.2px)"></i>
<i style="left:106px;background:linear-gradient(#f1e197 74.8px,#eed893 74.8px,#eed893 152px,#ebcf90 152px,#ebcf90 224px,#e8c78d 224px,#e8c78d 273px,#e5be8a 273px,#e5be8a 312.5px,#e2b587 312.5px,#e2b587 347.2px,#dfac84 347.2px,#dfac84 378.8px,#dca481 378.8px,#dca481 408.2px,#d99b7e 408.2px,#d99b7e 436.2px,#d5927a 436.2px,#d5927a 460.8px,#d28977 460.8px,#d28977 482px,#cf8174 482px,#cf8174 501.5px,#cc7871 501.5px,#cc7871 520.8px,#c96f6e 520.8px,#c96f6e 540px,#c6666b 540px,#c6666b 560.2px,#c35e68 560.2px,#c35e68 581.5px,#c05565 581.5px,#c05565 603px,#bd4c61 603px,#bd4c61 624.5px,#ba435e 624.5px,#ba435e 646.2px,#b73b5b 646.2px,#b73b5b 668.2px,#b43258 668.2px)"></i>
<i style="left:107px;background:linear-gradient(#f1e197 80px,#eed893 80px,#eed893 156.5px,#ebcf90 156.5px,#ebcf90 227.5px,#e8c78d 227.5px,#e8c78d 276px,#e5be8a 276px,#e5be8a 315.5px,#e2b587 315.5px,#e2b587 350.2px,#dfac84 350.2px,#dfac84 381.8px,#dca481 381.8px,#dca481 411.2px,#d99b7e 411.2px,#d99b7e 439.2px,#d5927a 439.2px,#d5927a 463.5px,#d28977 463.5px,#d28977 484.5px,#cf8174 484.5px,#cf8174 504.2px,#cc7871 504.2px,#cc7871 523.2px,#c96f6e 523.2px,#c96f6e 542.5px,#c6666b 542.5px,#c6666b 562.5px,#c35e68 562.5px,#c35e68 583.8px,#c05565 583.8px,#c05565 605px,#bd4c61 605px,#bd4c61 626.5px,#ba435e 626.5px,#ba435e 648.2px,#b73b5b 648.2px,#b73b5b 670.2px,#b43258 670.2px)"></i>
<i style="left:108px;background:linear-gradient(#f1e197 85px,#eed893 85px,#eed893 161.2px,#ebcf90 161.2px,#ebcf90 230px,#e8c78d 230px,#e8c78d 278px,#e5be8a 278px,#e5be8a 317.8px,#e2b587 317.8px,#e2b587 352.8px,#dfac84 352.8px,#dfac84 384.8px,#dca481 384.8px,#dca481 414.2px,#d99b7e 414.2px,#d99b7e 442.2px,#d5927a 442.2px,#d5927a 466.5px,#d28977 466.5px,#d28977 487.2px,#cf8174 487.2px,#cf8174 506.8px,#cc7871 506.8px,#cc7871 525.5px,#c96f6e 525.5px,#c96f6e 544.8px,#c6666b 544.8px,#c6666b 564.8px,#c35e68 564.8px,#c35e68 586px,#c05565 586px,#c05565 607.2px,#bd4c61 607.2px,#bd4c61 628.8px,#ba435e 628.8px,#ba435e 650.5px,#b73b5b 650.5px,#b73b5b 672.2px,#b43258 672.2px)"></i>
<i style="left:109px;background:linear-gradient(#f1e197 90px,#eed893 90px,#eed893 166px,#ebcf90 166px,#ebcf90 232.5px,#e8c78d 232.5px,#e8c78d 280.2px,#e5be8a 280.2px,#e5be8a 320.2px,#e2b587 320.2px,#e2b587 355.5px,#dfac84 355.5px,#dfac84 387.5px,#dca481 387.5px,#dca481 417.2px,#d99b7e 417.2px,#d99b7e 445.2px,#d5927a 445.2px,#d5927a 469.2px,#d28977 469.2px,#d28977 490px,#cf8174 490px,#cf8174 509.2px,#cc7871 509.2px,#cc7871 528px,#c96f6e 528px,#c96f6e 547px,#c6666b 547px,#c6666b 567px,#c35e68 567px,#c35e68 588px,#c05565 588px,#c05565 609.2px,#bd4c61 609.2px,#bd4c61 630.8px,#ba435e 630.8px,#ba435e 652.5px,#b73b5b 652.5px,#b73b5b 674.2px,#b43258 674.2px)"></i>
<i style="left:110px;background:linear-gradient(#f1e197 95.2px,#eed893 95.2px,#eed893 170.8px,#ebcf90 170.8px,#ebcf90 235px,#e8c78d 235px,#e8c78d 282px,#e5be8a 282px,#e5be8a 321.8px,#e2b587 321.8px,#e2b587 356.8px,#dfac84 356.8px,#dfac84 389px,#dca481 389px,#dca481 418.8px,#d99b7e 418.8px,#d99b7e 446.5px,#d5927a 446.5px,#d5927a 470.8px,#d28977 470.8px,#d28977 491.8px,#cf8174 491.8px,#cf8174 511.2px,#cc7871 511.2px,#cc7871 530px,#c96f6e 530px,#c96f6e 549.2px,#c6666b 549.2px,#c6666b 569.2px,#c35e68 569.2px,#c35e68 590.2px,#c05565 590.2px,#c05565 611.5px,#bd4c61 611.5px,#bd4c61 633px,#ba435e 633px,#ba435e 654.5px,#b73b5b 654.5px,#b73b5b 676.5px,#b43258 676.5px)"></i>
<i style="left:111px;background:linear-gradient(#f1e197 95.2px,#eed893 95.2px,#eed893 166.8px,#ebcf90 166.8px,#ebcf90 232.5px,#e8c78d 232.5px,#e8c78d 280.2px,#e5be8a 280.2px,#e5be8a 320.2px,#e2b587 320.2px,#e2b587 355.8px,#dfac84 355.8px,#dfac84 388px,#dca481 388px,#dca481 418.2px,#d99b7e 418.2px,#d99b7e 446.5px,#d5927a 446.5px,#d5927a 471.2px,#d28977 471.2px,#d28977 492.5px,#cf8174 492.5px,#cf8174 512.5px,#cc7871 512.5px,#cc7871 531.8px,#c96f6e 531.8px,#c96f6e 551.2px,#c6666b 551.2px,#c6666b 571.5px,#c35e68 571.5px,#c35e68 592.8px,#c05565 592.8px,#c05565 614px,#bd4c61 614px,#bd4c61 635.2px,#ba435e 635.2px,#ba435e 656.8px,#b73b5b 656.8px,#b73b5b 678.5px,#b43258 678.5px)"></i>
<i style="left:112px;background:linear-gradient(#f1e197 90.5px,#eed893 90.5px,#eed893 163px,#ebcf90 163px,#ebcf90 230px,#e8c78d 230px,#e8c78d 278.2px,#e5be8a 278.2px,#e5be8a 318.8px,#e2b587 318.8px,#e2b587 354.5px,#dfac84 354.5px,#dfac84 387.2px,#dca481 387.2px,#dca481 417.8px,#d99b7e 417.8px,#d99b7e 446.5px,#d5927a 446.5px,#d5927a 471.5px,#d28977 471.5px,#d28977 493.5px,#cf8174 493.5px,#cf8174 513.8px,#cc7871 513.8px,#cc7871 533.5px,#c96f6e 533.5px,#c96f6e 553.2px,#c6666b 553.2px,#c6666b 573.8px,#c35e68 573.8px,#c35e68 595px,#c05565 595px,#c05565 616.5px,#bd4c61 616.5px,#bd4c61 637.8px,#ba435e 637.8px,#ba435e 659px,#b73b5b 659px,#b73b5b 680.5px,#b43258 680.5px)"></i>
<i style="left:113px;background:linear-gradient(#f1e197 85.8px,#eed893 85.8px,#eed893 159px,#ebcf90 159px,#ebcf90 227.5px,#e8c78d 227.5px,#e8c78d 276.2px,#e5be8a 276.2px,#e5be8a 317.2px,#e2b587 317.2px,#e2b587 353.5px,#dfac84 353.5px,#dfac84 386.5px,#dca481 386.5px,#dca481 417.2px,#d99b7e 417.2px,#d99b7e 446.5px,#d5927a 446.5px,#d5927a 472px,#d28977 472px,#d28977 494.2px,#cf8174 494.2px,#cf8174 515px,#cc7871 515px,#cc7871 535px,#c96f6e 535px,#c96f6e 555.2px,#c6666b 555.2px,#c6666b 576px,#c35e68 576px,#c35e68 597.5px,#c05565 597.5px,#c05565 618.8px,#bd4c61 618.8px,#bd4c61 640px,#ba435e 640px,#ba435e 661.2px,#b73b5b 661.2px)"></i>
<i style="left:114px;background:linear-gradient(#f1e197 81px,#eed893 81px,#eed893 155.2px,#ebcf90 155.2px,#ebcf90 224.2px,#e8c78d 224.2px,#e8c78d 273.8px,#e5be8a 273.8px,#e5be8a 315.2px,#e2b587 315.2px,#e2b587 352px,#dfac84 352px,#dfac84 385.5px,#dca481 385.5px,#dca481 416.8px,#d99b7e 416.8px,#d99b7e 446.5px,#d5927a 446.5px,#d5927a 472.5px,#d28977 472.5px,#d28977 495.2px,#cf8174 495.2px,#cf8174 516.5px,#cc7871 516.5px,#cc7871 537px,#c96f6e 537px,#c96f6e 557.2px,#c6666b 557.2px,#c6666b 578.2px,#c35e68 578.2px,#c35e68 599.8px,#c05565 599.8px,#c05565 621.2px,#bd4c61 621.2px,#bd4c61 642.5px,#ba435e 642.5px,#ba435e 663.5px,#b73b5b 663.5px)"></i>
<i style="left:115px;background:linear-gradient(#f1e197 76.2px,#eed893 76.2px,#eed893 151.2px,#ebcf90 151.2px,#ebcf90 220.5px,#e8c78d 220.5px,#e8c78d 270.5px,#e5be8a 270.5px,#e5be8a 312.8px,#e2b587 312.8px,#e2b587 350px,#dfac84 350px,#dfac84 384.2px,#dca481 384.2px,#dca481 416.2px,#d99b7e 416.2px,#d99b7e 446.2px,#d5927a 446.2px,#d5927a 473px,#d28977 473px,#d28977 496.2px,#cf8174 496.2px,#cf8174 518px,#cc7871 518px,#cc7871 538.8px,#c96f6e 538.8px,#c96f6e 559.5px,#c6666b 559.5px,#c6666b 580.8px,#c35e68 580.8px,#c35e68 602.5px,#c05565 602.5px,#c05565 623.8px,#bd4c61 623.8px,#bd4c61 644.8px,#ba435e 644.8px,#ba435e 665.5px,#b73b5b 665.5px)"></i>
<i style="left:116px;background:linear-gradient(#f1e197 71.5px,#eed893 71.5px,#eed893 147.5px,#ebcf90 147.5px,#ebcf90 216.8px,#e8c78d 216.8px,#e8c78d 267.5px,#e5be8a 267.5px,#e5be8a 310.2px,#e2b587 310.2px,#e2b587 348.2px,#dfac84 348.2px,#dfac84 383px,#dca481 383px,#dca481 415.5px,#d99b7e 415.5px,#d99b7e 446.2px,#d5927a 446.2px,#d5927a 473.5px,#d28977 473.5px,#d28977 497.2px,#cf8174 497.2px,#cf8174 519.5px,#cc7871 519.5px,#cc7871 540.8px,#c96f6e 540.8px,#c96f6e 562px,#c6666b 562px,#c6666b 583.2px,#c35e68 583.2px,#c35e68 605px,#c05565 605px,#c05565 626.2px,#bd4c61 626.2px,#bd4c61 647px,#ba435e 647px,#ba435e 667.8px,#b73b5b 667.8px)"></i>
<i style="left:117px;background:linear-gradient(#f1e197 66.8px,#eed893 66.8px,#eed893 143.5px,#ebcf90 143.5px,#ebcf90 213px,#e8c78d 213px,#e8c78d 264.2px,#e5be8a 264.2px,#e5be8a 307.8px,#e2b587 307.8px,#e2b587 346.5px,#dfac84 346.5px,#dfac84 382px,#dca481 382px,#dca481 415px,#d99b7e 415px,#d99b7e 446.2px,#d5927a 446.2px,#d5927a 474px,#d28977 474px,#d28977 498.2px,#cf8174 498.2px,#cf8174 521px,#cc7871 521px,#cc7871 542.8px,#c96f6e 542.8px,#c96f6e 564.2px,#c6666b 564.2px,#c6666b 585.8px,#c35e68 585.8px,#c35e68 607.5px,#c05565 607.5px,#c05565 628.8px,#bd4c61 628.8px,#bd4c61 649.2px,#ba435e 649.2px,#ba435e 669.8px,#b73b5b 669.8px)"></i>
<i style="left:118px;background:linear-gradient(#f1e197 62px,#eed893 62px,#eed893 139.8px,#ebcf90 139.8px,#ebcf90 209.2px,#e8c78d 209.2px,#e8c78d 261px,#e5be8a 261px,#e5be8a 305.2px,#e2b587 305.2px,#e2b587 344.5px,#dfac84 344.5px,#dfac84 380.8px,#dca481 380.8px,#dca481 414.5px,#d99b7e 414.5px,#d99b7e 446.2px,#d5927a 446.2px,#d5927a 474.5px,#d28977 474.5px,#d28977 499.2px,#cf8174 499.2px,#cf8174 522.5px,#cc7871 522.5px,#cc7871 544.8px,#c96f6e 544.8px,#c96f6e 566.5px,#c6666b 566.5px,#c6666b 588.2px,#c35e68 588.2px,#c35e68 610px,#c05565 610px,#c05565 631px,#bd4c61 631px,#bd4c61 651.5px,#ba435e 651.5px,#ba435e 671.8px,#b73b5b 671.8px)"></i>
<i style="left:119px;background:linear-gradient(#f1e197 57.2px,#eed893 57.2px,#eed893 135.8px,#ebcf90 135.8px,#ebcf90 205.5px,#e8c78d 205.5px,#e8c78d 257.8px,#e5be8a 257.8px,#e5be8a 302.8px,#e2b587 302.8px,#e2b587 342.8px,#dfac84 342.8px,#dfac84 379.5px,#dca481 379.5px,#dca481 413.8px,#d99b7e 413.8px,#d99b7e 446px,#d5927a 446px,#d5927a 475px,#d28977 475px,#d28977 500.5px,#cf8174 500.5px,#cf8174 524px,#cc7871 524px,#cc7871 546.8px,#c96f6e 546.8px,#c96f6e 568.8px,#c6666b 568.8px,#c6666b 590.8px,#c35e68 590.8px,#c35e68 612.5px,#c05565 612.5px,#c05565 633.5px,#bd4c61 633.5px,#bd4c61 653.8px,#ba435e 653.8px,#ba435e 673.5px,#b73b5b 673.5px)"></i>
<i style="left:120px;background:linear-gradient(#f1e197 52.5px,#eed893 52.5px,#eed893 132px,#ebcf90 132px,#ebcf90 201.8px,#e8c78d 201.8px,#e8c78d 254.5px,#e5be8a 254.5px,#e5be8a 300px,#e2b587 300px,#e2b587 340.8px,#dfac84 340.8px,#dfac84 378.2px,#dca481 378.2px,#dca481 413.2px,#d99b7e 413.2px,#d99b7e 446px,#d5927a 446px,#d5927a 475.8px,#d28977 475.8px,#d28977 502px,#cf8174 502px,#cf8174 526.2px,#cc7871 526.2px,#cc7871 549.5px,#c96f6e 549.5px,#c96f6e 572px,#c6666b 572px,#c6666b 594.2px,#c35e68 594.2px,#c35e68 616px,#c05565 616px,#c05565 636.5px,#bd4c61 636.5px,#bd4c61 656.2px,#ba435e 656.2px,#ba435e 675.5px,#b73b5b 675.5px)"></i>
<i style="left:121px;background:linear-gradient(#f1e197 47.8px,#eed893 47.8px,#eed893 128.2px,#ebcf90 128.2px,#ebcf90 198px,#e8c78d 198px,#e8c78d 251.2px,#e5be8a 251.2px,#e5be8a 297.2px,#e2b587 297.2px,#e2b587 338.8px,#dfac84 338.8px,#dfac84 376.8px,#dca481 376.8px,#dca481 412.5px,#d99b7e 412.5px,#d99b7e 446px,#d5927a 446px,#d5927a 476.5px,#d28977 476.5px,#d28977 503.8px,#cf8174 503.8px,#cf8174 529px,#cc7871 529px,#cc7871 553px,#c96f6e 553px,#c96f6e 576.2px,#c6666b 576.2px,#c6666b 598.5px,#c35e68 598.5px,#c35e68 620px,#c05565 620px,#c05565 640px,#bd4c61 640px,#bd4c61 659px,#ba435e 659px,#ba435e 677.5px,#b73b5b 677.5px)"></i>
<i style="left:122px;background:linear-gradient(#f1e197 43px,#eed893 43px,#eed893 124.5px,#ebcf90 124.5px,#ebcf90 194.2px,#e8c78d 194.2px,#e8c78d 248px,#e5be8a 248px,#e5be8a 294.8px,#e2b587 294.8px,#e2b587 336.8px,#dfac84 336.8px,#dfac84 375.5px,#dca481 375.5px,#dca481 411.8px,#d99b7e 411.8px,#d99b7e 446px,#d5927a 446px,#d5927a 477.5px,#d28977 477.5px,#d28977 505.8px,#cf8174 505.8px,#cf8174 532px,#cc7871 532px,#cc7871 556.8px,#c96f6e 556.8px,#c96f6e 580.2px,#c6666b 580.2px,#c6666b 603px,#c35e68 603px,#c35e68 624px,#c05565 624px,#c05565 643.2px,#bd4c61 643.2px,#bd4c61 661.5px,#ba435e 661.5px,#ba435e 679.2px,#b73b5b 679.2px)"></i>
<i style="left:123px;background:linear-gradient(#f1e197 38.2px,#eed893 38.2px,#eed893 120.5px,#ebcf90 120.5px,#ebcf90 190.8px,#e8c78d 190.8px,#e8c78d 245px,#e5be8a 245px,#e5be8a 292px,#e2b587 292px,#e2b587 334.8px,#dfac84 334.8px,#dfac84 374px,#dca481 374px,#dca481 411px,#d99b7e 411px,#d99b7e 446px,#d5927a 446px,#d5927a 478.2px,#d28977 478.2px,#d28977 507.8px,#cf8174 507.8px,#cf8174 535.2px,#cc7871 535.2px,#cc7871 560.8px,#c96f6e 560.8px,#c96f6e 584.5px,#c6666b 584.5px,#c6666b 607.2px,#c35e68 607.2px,#c35e68 628px,#c05565 628px,#c05565 646.5px,#bd4c61 646.5px,#bd4c61 664px,#ba435e 664px)"></i>
<i style="left:124px;background:linear-gradient(#f1e197 33.5px,#eed893 33.5px,#eed893 116.8px,#ebcf90 116.8px,#ebcf90 187.2px,#e8c78d 187.2px,#e8c78d 241.8px,#e5be8a 241.8px,#e5be8a 289.5px,#e2b587 289.5px,#e2b587 332.8px,#dfac84 332.8px,#dfac84 372.8px,#dca481 372.8px,#dca481 410.2px,#d99b7e 410.2px,#d99b7e 445.8px,#d5927a 445.8px,#d5927a 479.2px,#d28977 479.2px,#d28977 510px,#cf8174 510px,#cf8174 538.2px,#cc7871 538.2px,#cc7871 564.5px,#c96f6e 564.5px,#c96f6e 589px,#c6666b 589px,#c6666b 611.5px,#c35e68 611.5px,#c35e68 631.8px,#c05565 631.8px,#c05565 649.5px,#bd4c61 649.5px,#bd4c61 666.2px,#ba435e 666.2px)"></i>
<i style="left:125px;background:linear-gradient(#f1e197 28.8px,#eed893 28.8px,#eed893 113px,#ebcf90 113px,#ebcf90 183.8px,#e8c78d 183.8px,#e8c78d 238.8px,#e5be8a 238.8px,#e5be8a 287px,#e2b587 287px,#e2b587 330.8px,#dfac84 330.8px,#dfac84 371.2px,#dca481 371.2px,#dca481 409.5px,#d99b7e 409.5px,#d99b7e 445.8px,#d5927a 445.8px,#d5927a 480.2px,#d28977 480.2px,#d28977 512.2px,#cf8174 512.2px,#cf8174 541.5px,#cc7871 541.5px,#cc7871 568.5px,#c96f6e 568.5px,#c96f6e 593.2px,#c6666b 593.2px,#c6666b 616px,#c35e68 616px,#c35e68 635.5px,#c05565 635.5px,#c05565 652.5px,#bd4c61 652.5px,#bd4c61 668.2px,#ba435e 668.2px)"></i>
<i style="left:126px;background:linear-gradient(#f1e197 24px,#eed893 24px,#eed893 109.2px,#ebcf90 109.2px,#ebcf90 180.2px,#e8c78d 180.2px,#e8c78d 235.8px,#e5be8a 235.8px,#e5be8a 284.5px,#e2b587 284.5px,#e2b587 328.8px,#dfac84 328.8px,#dfac84 370px,#dca481 370px,#dca481 408.8px,#d99b7e 408.8px,#d99b7e 445.8px,#d5927a 445.8px,#d5927a 481px,#d28977 481px,#d28977 514.2px,#cf8174 514.2px,#cf8174 544.8px,#cc7871 544.8px,#cc7871 572.2px,#c96f6e 572.2px,#c96f6e 597.2px,#c6666b 597.2px,#c6666b 619.8px,#c35e68 619.8px,#c35e68 639px,#c05565 639px,#c05565 655.2px,#bd4c61 655.2px,#bd4c61 670.2px,#ba435e 670.2px)"></i>
<i style="left:127px;background:linear-gradient(#f1e197 19.2px,#eed893 19.2px,#eed893 105.5px,#ebcf90 105.5px,#ebcf90 176.8px,#e8c78d 176.8px,#e8c78d 232.8px,#e5be8a 232.8px,#e5be8a 282px,#e2b587 282px,#e2b587 327px,#dfac84 327px,#dfac84 368.8px,#dca481 368.8px,#dca481 408.2px,#d99b7e 408.2px,#d99b7e 445.8px,#d5927a 445.8px,#d5927a 482px,#d28977 482px,#d28977 516.2px,#cf8174 516.2px,#cf8174 547.5px,#cc7871 547.5px,#cc7871 575.5px,#c96f6e 575.5px,#c96f6e 600.8px,#c6666b 600.8px,#c6666b 623.2px,#c35e68 623.2px,#c35e68 642px,#c05565 642px,#c05565 657.5px,#bd4c61 657.5px,#bd4c61 672px,#ba435e 672px)"></i>
<i style="left:128px;background:linear-gradient(#f1e197 14.5px,#eed893 14.5px,#eed893 101.5px,#ebcf90 101.5px,#ebcf90 173px,#e8c78d 173px,#e8c78d 229.5px,#e5be8a 229.5px,#e5be8a 279.5px,#e2b587 279.5px,#e2b587 325.2px,#dfac84 325.2px,#dfac84 367.5px,#dca481 367.5px,#dca481 407.5px,#d99b7e 407.5px,#d99b7e 445.8px,#d5927a 445.8px,#d5927a 482.8px,#d28977 482.8px,#d28977 518.2px,#cf8174 518.2px,#cf8174 550.2px,#cc7871 550.2px,#cc7871 579px,#c96f6e 579px,#c96f6e 604.2px,#c6666b 604.2px,#c6666b 626.8px,#c35e68 626.8px,#c35e68 645px,#c05565 645px,#c05565 659.8px,#bd4c61 659.8px,#bd4c61 673.5px,#ba435e 673.5px)"></i>
<i style="left:129px;background:linear-gradient(#f1e197 13.2px,#eed893 13.2px,#eed893 101.2px,#ebcf90 101.2px,#ebcf90 171.5px,#e8c78d 171.5px,#e8c78d 228px,#e5be8a 228px,#e5be8a 278.2px,#e2b587 278.2px,#e2b587 324.2px,#dfac84 324.2px,#dfac84 367.2px,#dca481 367.2px,#dca481 407.5px,#d99b7e 407.5px,#d99b7e 446px,#d5927a 446px,#d5927a 483.5px,#d28977 483.5px,#d28977 519.2px,#cf8174 519.2px,#cf8174 551.5px,#cc7871 551.5px,#cc7871 580.2px,#c96f6e 580.2px,#c96f6e 605.8px,#c6666b 605.8px,#c6666b 628.2px,#c35e68 628.2px,#c35e68 646.2px,#c05565 646.2px,#c05565 661px,#bd4c61 661px,#bd4c61 674.8px,#ba435e 674.8px)"></i>
<i style="left:130px;background:linear-gradient(#f1e197 15.8px,#eed893 15.8px,#eed893 104.2px,#ebcf90 104.2px,#ebcf90 174.2px,#e8c78d 174.2px,#e8c78d 231.5px,#e5be8a 231.5px,#e5be8a 282.5px,#e2b587 282.5px,#e2b587 330.5px,#dfac84 330.5px,#dfac84 374.2px,#dca481 374.2px,#dca481 412px,#d99b7e 412px,#d99b7e 446.8px,#d5927a 446.8px,#d5927a 481px,#d28977 481px,#d28977 515.8px,#cf8174 515.8px,#cf8174 548.8px,#cc7871 548.8px,#cc7871 578.5px,#c96f6e 578.5px,#c96f6e 604.8px,#c6666b 604.8px,#c6666b 627.8px,#c35e68 627.8px,#c35e68 646.2px,#c05565 646.2px,#c05565 661.5px,#bd4c61 661.5px,#bd4c61 675.8px,#ba435e 675.8px)"></i>
<i style="left:131px;background:linear-gradient(#f1e197 18.2px,#eed893 18.2px,#eed893 107.2px,#ebcf90 107.2px,#ebcf90 177px,#e8c78d 177px,#e8c78d 234.2px,#e5be8a 234.2px,#e5be8a 285.2px,#e2b587 285.2px,#e2b587 333px,#dfac84 333px,#dfac84 376.5px,#dca481 376.5px,#dca481 414.2px,#d99b7e 414.2px,#d99b7e 447.5px,#d5927a 447.5px,#d5927a 480.8px,#d28977 480.8px,#d28977 514.8px,#cf8174 514.8px,#cf8174 547.5px,#cc7871 547.5px,#cc7871 577.5px,#c96f6e 577.5px,#c96f6e 603.8px,#c6666b 603.8px,#c6666b 627.2px,#c35e68 627.2px,#c35e68 646.2px,#c05565 646.2px,#c05565 662px,#bd4c61 662px,#bd4c61 677px,#ba435e 677px)"></i>
<i style="left:132px;background:linear-gradient(#f1e197 20.5px,#eed893 20.5px,#eed893 110.2px,#ebcf90 110.2px,#ebcf90 180px,#e8c78d 180px,#e8c78d 237px,#e5be8a 237px,#e5be8a 288px,#e2b587 288px,#e2b587 335.5px,#dfac84 335.5px,#dfac84 378.8px,#dca481 378.8px,#dca481 416.8px,#d99b7e 416.8px,#d99b7e 448.2px,#d5927a 448.2px,#d5927a 480.5px,#d28977 480.5px,#d28977 514px,#cf8174 514px,#cf8174 546.5px,#cc7871 546.5px,#cc7871 576.2px,#c96f6e 576.2px,#c96f6e 603px,#c6666b 603px,#c6666b 626.8px,#c35e68 626.8px,#c35e68 646px,#c05565 646px,#c05565 662.8px,#bd4c61 662.8px,#bd4c61 678.2px,#ba435e 678.2px)"></i>
<i style="left:133px;background:linear-gradient(#f1e197 23px,#eed893 23px,#eed893 113.2px,#ebcf90 113.2px,#ebcf90 182.8px,#e8c78d 182.8px,#e8c78d 239.8px,#e5be8a 239.8px,#e5be8a 290.8px,#e2b587 290.8px,#e2b587 338.2px,#dfac84 338.2px,#dfac84 380.8px,#dca481 380.8px,#dca481 419px,#d99b7e 419px,#d99b7e 449.2px,#d5927a 449.2px,#d5927a 480.2px,#d28977 480.2px,#d28977 513px,#cf8174 513px,#cf8174 545.2px,#cc7871 545.2px,#cc7871 575.2px,#c96f6e 575.2px,#c96f6e 602.2px,#c6666b 602.2px,#c6666b 626.2px,#c35e68 626.2px,#c35e68 646px,#c05565 646px,#c05565 663.2px,#bd4c61 663.2px,#bd4c61 679.8px,#ba435e 679.8px)"></i>
<i style="left:134px;background:linear-gradient(#f1e197 25.5px,#eed893 25.5px,#eed893 116.2px,#ebcf90 116.2px,#ebcf90 185.2px,#e8c78d 185.2px,#e8c78d 242.5px,#e5be8a 242.5px,#e5be8a 293.2px,#e2b587 293.2px,#e2b587 340.8px,#dfac84 340.8px,#dfac84 383px,#dca481 383px,#dca481 421.2px,#d99b7e 421.2px,#d99b7e 450px,#d5927a 450px,#d5927a 480px,#d28977 480px,#d28977 512px,#cf8174 512px,#cf8174 544px,#cc7871 544px,#cc7871 574px,#c96f6e 574px,#c96f6e 601.2px,#c6666b 601.2px,#c6666b 625.5px,#c35e68 625.5px,#c35e68 646px,#c05565 646px,#c05565 664px,#bd4c61 664px)"></i>
<i style="left:135px;background:linear-gradient(#f1e197 28px,#eed893 28px,#eed893 119.2px,#ebcf90 119.2px,#ebcf90 187.8px,#e8c78d 187.8px,#e8c78d 245px,#e5be8a 245px,#e5be8a 296px,#e2b587 296px,#e2b587 343.2px,#dfac84 343.2px,#dfac84 385.2px,#dca481 385.2px,#dca481 423.5px,#d99b7e 423.5px,#d99b7e 450.8px,#d5927a 450.8px,#d5927a 480px,#d28977 480px,#d28977 511px,#cf8174 511px,#cf8174 542.5px,#cc7871 542.5px,#cc7871 572.8px,#c96f6e 572.8px,#c96f6e 600.2px,#c6666b 600.2px,#c6666b 625px,#c35e68 625px,#c35e68 646.2px,#c05565 646.2px,#c05565 664.8px,#bd4c61 664.8px)"></i>
<i style="left:136px;background:linear-gradient(#f1e197 30.5px,#eed893 30.5px,#eed893 122.2px,#ebcf90 122.2px,#ebcf90 190.2px,#e8c78d 190.2px,#e8c78d 247.5px,#e5be8a 247.5px,#e5be8a 298.5px,#e2b587 298.5px,#e2b587 345.8px,#dfac84 345.8px,#dfac84 387.2px,#dca481 387.2px,#dca481 425px,#d99b7e 425px,#d99b7e 452.5px,#d5927a 452.5px,#d5927a 481.5px,#d28977 481.5px,#d28977 512px,#cf8174 512px,#cf8174 542.8px,#cc7871 542.8px,#cc7871 572.2px,#c96f6e 572.2px,#c96f6e 599.5px,#c6666b 599.5px,#c6666b 624.5px,#c35e68 624.5px,#c35e68 646.2px,#c05565 646.2px,#c05565 665.8px,#bd4c61 665.8px)"></i>
<i style="left:137px;background:linear-gradient(#f1e197 33px,#eed893 33px,#eed893 125.2px,#ebcf90 125.2px,#ebcf90 192.8px,#e8c78d 192.8px,#e8c78d 250px,#e5be8a 250px,#e5be8a 301.2px,#e2b587 301.2px,#e2b587 348.5px,#dfac84 348.5px,#dfac84 389.5px,#dca481 389.5px,#dca481 426.5px,#d99b7e 426.5px,#d99b7e 455.5px,#d5927a 455.5px,#d5927a 484.8px,#d28977 484.8px,#d28977 514.5px,#cf8174 514.5px,#cf8174 544px,#cc7871 544px,#cc7871 572.2px,#c96f6e 572.2px,#c96f6e 599px,#c6666b 599px,#c6666b 624px,#c35e68 624px,#c35e68 646.2px,#c05565 646.2px,#c05565 666.8px,#bd4c61 666.8px)"></i>
<i style="left:138px;background:linear-gradient(#f1e197 35.5px,#eed893 35.5px,#eed893 128.2px,#ebcf90 128.2px,#ebcf90 195.2px,#e8c78d 195.2px,#e8c78d 252.5px,#e5be8a 252.5px,#e5be8a 304px,#e2b587 304px,#e2b587 351px,#dfac84 351px,#dfac84 391.8px,#dca481 391.8px,#dca481 428px,#d99b7e 428px,#d99b7e 457.2px,#d5927a 457.2px,#d5927a 486.2px,#d28977 486.2px,#d28977 515.2px,#cf8174 515.2px,#cf8174 544px,#cc7871 544px,#cc7871 571.8px,#c96f6e 571.8px,#c96f6e 598.2px,#c6666b 598.2px,#c6666b 623.2px,#c35e68 623.2px,#c35e68 646.5px,#c05565 646.5px,#c05565 668px,#bd4c61 668px)"></i>
<i style="left:139px;background:linear-gradient(#f1e197 37.8px,#eed893 37.8px,#eed893 131.5px,#ebcf90 131.5px,#ebcf90 197.8px,#e8c78d 197.8px,#e8c78d 255px,#e5be8a 255px,#e5be8a 306.5px,#e2b587 306.5px,#e2b587 353.5px,#dfac84 353.5px,#dfac84 393.8px,#dca481 393.8px,#dca481 429.5px,#d99b7e 429.5px,#d99b7e 457.8px,#d5927a 457.8px,#d5927a 486px,#d28977 486px,#d28977 514.5px,#cf8174 514.5px,#cf8174 543px,#cc7871 543px,#cc7871 570.5px,#c96f6e 570.5px,#c96f6e 597.2px,#c6666b 597.2px,#c6666b 622.8px,#c35e68 622.8px,#c35e68 646.8px,#c05565 646.8px,#c05565 669.2px,#bd4c61 669.2px)"></i>
<i style="left:140px;background:linear-gradient(#f1e197 40.2px,#eed893 40.2px,#eed893 134.5px,#ebcf90 134.5px,#ebcf90 200.2px,#e8c78d 200.2px,#e8c78d 257.5px,#e5be8a 257.5px,#e5be8a 309.2px,#e2b587 309.2px,#e2b587 356px,#dfac84 356px,#dfac84 396px,#dca481 396px,#dca481 431px,#d99b7e 431px,#d99b7e 458.2px,#d5927a 458.2px,#d5927a 485.8px,#d28977 485.8px,#d28977 513.8px,#cf8174 513.8px,#cf8174 541.8px,#cc7871 541.8px,#cc7871 569.5px,#c96f6e 569.5px,#c96f6e 596.2px,#c6666b 596.2px,#c6666b 622.2px,#c35e68 622.2px,#c35e68 647px,#c05565 647px,#c05565 670.8px,#bd4c61 670.8px)"></i>
<i style="left:141px;background:linear-gradient(#f1e197 42.8px,#eed893 42.8px,#eed893 137.5px,#ebcf90 137.5px,#ebcf90 202.8px,#e8c78d 202.8px,#e8c78d 260px,#e5be8a 260px,#e5be8a 311.8px,#e2b587 311.8px,#e2b587 358.8px,#dfac84 358.8px,#dfac84 398.2px,#dca481 398.2px,#dca481 432.5px,#d99b7e 432.5px,#d99b7e 458.8px,#d5927a 458.8px,#d5927a 485.8px,#d28977 485.8px,#d28977 513px,#cf8174 513px,#cf8174 540.8px,#cc7871 540.8px,#cc7871 568.2px,#c96f6e 568.2px,#c96f6e 595.2px,#c6666b 595.2px,#c6666b 621.8px,#c35e68 621.8px,#c35e68 647.2px,#c05565 647.2px,#c05565 672.2px,#bd4c61 672.2px)"></i>
<i style="left:142px;background:linear-gradient(#f1e197 45px,#eed893 45px,#eed893 140.8px,#ebcf90 140.8px,#ebcf90 205.5px,#e8c78d 205.5px,#e8c78d 262.5px,#e5be8a 262.5px,#e5be8a 314.5px,#e2b587 314.5px,#e2b587 361.2px,#dfac84 361.2px,#dfac84 400.2px,#dca481 400.2px,#dca481 434px,#d99b7e 434px,#d99b7e 459.2px,#d5927a 459.2px,#d5927a 485.5px,#d28977 485.5px,#d28977 512.2px,#cf8174 512.2px,#cf8174 539.5px,#cc7871 539.5px,#cc7871 567px,#c96f6e 567px,#c96f6e 594.2px,#c6666b 594.2px,#c6666b 621.2px,#c35e68 621.2px,#c35e68 647.8px,#c05565 647.8px,#c05565 674.2px,#bd4c61 674.2px)"></i>
<i style="left:143px;background:linear-gradient(#f1e197 47.5px,#eed893 47.5px,#eed893 143.8px,#ebcf90 143.8px,#ebcf90 208.2px,#e8c78d 208.2px,#e8c78d 265.2px,#e5be8a 265.2px,#e5be8a 317.2px,#e2b587 317.2px,#e2b587 363.8px,#dfac84 363.8px,#dfac84 402.8px,#dca481 402.8px,#dca481 435.5px,#d99b7e 435.5px,#d99b7e 459.8px,#d5927a 459.8px,#d5927a 485.2px,#d28977 485.2px,#d28977 511.5px,#cf8174 511.5px,#cf8174 538.2px,#cc7871 538.2px,#cc7871 565.5px,#c96f6e 565.5px,#c96f6e 593px,#c6666b 593px,#c6666b 620.5px,#c35e68 620.5px,#c35e68 648.2px,#c05565 648.2px,#c05565 676.2px,#bd4c61 676.2px)"></i>
<i style="left:144px;background:linear-gradient(#f1e197 50px,#eed893 50px,#eed893 147px,#ebcf90 147px,#ebcf90 211px,#e8c78d 211px,#e8c78d 268px,#e5be8a 268px,#e5be8a 319.8px,#e2b587 319.8px,#e2b587 366.2px,#dfac84 366.2px,#dfac84 405px,#dca481 405px,#dca481 437px,#d99b7e 437px,#d99b7e 460.2px,#d5927a 460.2px,#d5927a 485px,#d28977 485px,#d28977 510.8px,#cf8174 510.8px,#cf8174 537.2px,#cc7871 537.2px,#cc7871 564.2px,#c96f6e 564.2px,#c96f6e 592px,#c6666b 592px,#c6666b 620px,#c35e68 620px,#c35e68 649px,#c05565 649px,#c05565 678.8px,#bd4c61 678.8px)"></i>
<i style="left:145px;background:linear-gradient(#f1e197 52.2px,#eed893 52.2px,#eed893 150px,#ebcf90 150px,#ebcf90 214px,#e8c78d 214px,#e8c78d 270.2px,#e5be8a 270.2px,#e5be8a 321.8px,#e2b587 321.8px,#e2b587 368.2px,#dfac84 368.2px,#dfac84 407.5px,#dca481 407.5px,#dca481 438.5px,#d99b7e 438.5px,#d99b7e 460.8px,#d5927a 460.8px,#d5927a 484.8px,#d28977 484.8px,#d28977 510px,#cf8174 510px,#cf8174 536px,#cc7871 536px,#cc7871 563px,#c96f6e 563px,#c96f6e 590.8px,#c6666b 590.8px,#c6666b 619.5px,#c35e68 619.5px,#c35e68 649.8px,#c05565 649.8px)"></i>
<i style="left:146px;background:linear-gradient(#f1e197 54.8px,#eed893 54.8px,#eed893 153px,#ebcf90 153px,#ebcf90 216.8px,#e8c78d 216.8px,#e8c78d 272.5px,#e5be8a 272.5px,#e5be8a 323.5px,#e2b587 323.5px,#e2b587 370px,#dfac84 370px,#dfac84 410px,#dca481 410px,#dca481 440.2px,#d99b7e 440.2px,#d99b7e 461px,#d5927a 461px,#d5927a 484.5px,#d28977 484.5px,#d28977 509px,#cf8174 509px,#cf8174 534.8px,#cc7871 534.8px,#cc7871 561.5px,#c96f6e 561.5px,#c96f6e 589.5px,#c6666b 589.5px,#c6666b 619px,#c35e68 619px,#c35e68 650.5px,#c05565 650.5px)"></i>
<i style="left:147px;background:linear-gradient(#f1e197 57.2px,#eed893 57.2px,#eed893 155.8px,#ebcf90 155.8px,#ebcf90 219px,#e8c78d 219px,#e8c78d 274.5px,#e5be8a 274.5px,#e5be8a 325.2px,#e2b587 325.2px,#e2b587 371.8px,#dfac84 371.8px,#dfac84 412.2px,#dca481 412.2px,#dca481 441.8px,#d99b7e 441.8px,#d99b7e 461.5px,#d5927a 461.5px,#d5927a 484.2px,#d28977 484.2px,#d28977 508.2px,#cf8174 508.2px,#cf8174 533.5px,#cc7871 533.5px,#cc7871 560px,#c96f6e 560px,#c96f6e 588.2px,#c6666b 588.2px,#c6666b 618.5px,#c35e68 618.5px,#c35e68 651.5px,#c05565 651.5px)"></i>
<i style="left:148px;background:linear-gradient(#f1e197 59.8px,#eed893 59.8px,#eed893 157.8px,#ebcf90 157.8px,#ebcf90 220.8px,#e8c78d 220.8px,#e8c78d 276.2px,#e5be8a 276.2px,#e5be8a 326.8px,#e2b587 326.8px,#e2b587 373.5px,#dfac84 373.5px,#dfac84 414.8px,#dca481 414.8px,#dca481 443.2px,#d99b7e 443.2px,#d99b7e 462px,#d5927a 462px,#d5927a 484.2px,#d28977 484.2px,#d28977 507.5px,#cf8174 507.5px,#cf8174 532.2px,#cc7871 532.2px,#cc7871 558.5px,#c96f6e 558.5px,#c96f6e 587px,#c6666b 587px,#c6666b 617.8px,#c35e68 617.8px,#c35e68 652.8px,#c05565 652.8px)"></i>
<i style="left:149px;background:linear-gradient(#f1e197 62px,#eed893 62px,#eed893 159.8px,#ebcf90 159.8px,#ebcf90 222.8px,#e8c78d 222.8px,#e8c78d 277.8px,#e5be8a 277.8px,#e5be8a 328.2px,#e2b587 328.2px,#e2b587 375.2px,#dfac84 375.2px,#dfac84 417px,#dca481 417px,#dca481 444.8px,#d99b7e 444.8px,#d99b7e 462.5px,#d5927a 462.5px,#d5927a 484px,#d28977 484px,#d28977 506.5px,#cf8174 506.5px,#cf8174 530.8px,#cc7871 530.8px,#cc7871 557px,#c96f6e 557px,#c96f6e 585.5px,#c6666b 585.5px,#c6666b 617.2px,#c35e68 617.2px,#c35e68 654.2px,#c05565 654.2px)"></i>
<i style="left:150px;background:linear-gradient(#f1e197 64.5px,#eed893 64.5px,#eed893 161.5px,#ebcf90 161.5px,#ebcf90 224.5px,#e8c78d 224.5px,#e8c78d 279.5px,#e5be8a 279.5px,#e5be8a 330px,#e2b587 330px,#e2b587 377.2px,#dfac84 377.2px,#dfac84 419.5px,#dca481 419.5px,#dca481 446.2px,#d99b7e 446.2px,#d99b7e 463px,#d5927a 463px,#d5927a 483.8px,#d28977 483.8px,#d28977 505.8px,#cf8174 505.8px,#cf8174 529.5px,#cc7871 529.5px,#cc7871 555.2px,#c96f6e 555.2px,#c96f6e 584px,#c6666b 584px,#c6666b 616.5px,#c35e68 616.5px,#c35e68 656px,#c05565 656px)"></i>
<i style="left:151px;background:linear-gradient(#f1e197 67px,#eed893 67px,#eed893 163.5px,#ebcf90 163.5px,#ebcf90 226.2px,#e8c78d 226.2px,#e8c78d 281px,#e5be8a 281px,#e5be8a 331.5px,#e2b587 331.5px,#e2b587 379px,#dfac84 379px,#dfac84 421.8px,#dca481 421.8px,#dca481 447.8px,#d99b7e 447.8px,#d99b7e 463.5px,#d5927a 463.5px,#d5927a 483.5px,#d28977 483.5px,#d28977 504.8px,#cf8174 504.8px,#cf8174 528px,#cc7871 528px,#cc7871 553.5px,#c96f6e 553.5px,#c96f6e 582.5px,#c6666b 582.5px,#c6666b 616px,#c35e68 616px,#c35e68 658px,#c05565 658px)"></i>
<i style="left:152px;background:linear-gradient(#f1e197 69.2px,#eed893 69.2px,#eed893 165.5px,#ebcf90 165.5px,#ebcf90 228px,#e8c78d 228px,#e8c78d 282.8px,#e5be8a 282.8px,#e5be8a 333px,#e2b587 333px,#e2b587 380.8px,#dfac84 380.8px,#dfac84 424.2px,#dca481 424.2px,#dca481 449.2px,#d99b7e 449.2px,#d99b7e 464px,#d5927a 464px,#d5927a 483.2px,#d28977 483.2px,#d28977 504px,#cf8174 504px,#cf8174 526.5px,#cc7871 526.5px,#cc7871 551.8px,#c96f6e 551.8px,#c96f6e 580.8px,#c6666b 580.8px,#c6666b 615.2px,#c35e68 615.2px,#c35e68 660.5px,#c05565 660.5px)"></i>
<i style="left:153px;background:linear-gradient(#f1e197 71.8px,#eed893 71.8px,#eed893 167.5px,#ebcf90 167.5px,#ebcf90 230px,#e8c78d 230px,#e8c78d 284.2px,#e5be8a 284.2px,#e5be8a 334.5px,#e2b587 334.5px,#e2b587 382.5px,#dfac84 382.5px,#dfac84 426.8px,#dca481 426.8px,#dca481 450.8px,#d99b7e 450.8px,#d99b7e 464.5px,#d5927a 464.5px,#d5927a 483px,#d28977 483px,#d28977 503px,#cf8174 503px,#cf8174 525.2px,#cc7871 525.2px,#cc7871 550px,#c96f6e 550px,#c96f6e 579px,#c6666b 579px,#c6666b 614.8px,#c35e68 614.8px,#c35e68 663.8px,#c05565 663.8px)"></i>
<i style="left:154px;background:linear-gradient(#f1e197 74.2px,#eed893 74.2px,#eed893 169.5px,#ebcf90 169.5px,#ebcf90 231.8px,#e8c78d 231.8px,#e8c78d 286.2px,#e5be8a 286.2px,#e5be8a 336.5px,#e2b587 336.5px,#e2b587 384.5px,#dfac84 384.5px,#dfac84 429px,#dca481 429px,#dca481 452.2px,#d99b7e 452.2px,#d99b7e 465px,#d5927a 465px,#d5927a 482.5px,#d28977 482.5px,#d28977 502px,#cf8174 502px,#cf8174 523.5px,#cc7871 523.5px,#cc7871 548px,#c96f6e 548px,#c96f6e 577px,#c6666b 577px,#c6666b 614px,#c35e68 614px,#c35e68 668px,#c05565 668px)"></i>
<i style="left:155px;background:linear-gradient(#f1e197 76.5px,#eed893 76.5px,#eed893 171.5px,#ebcf90 171.5px,#ebcf90 233.5px,#e8c78d 233.5px,#e8c78d 288.5px,#e5be8a 288.5px,#e5be8a 339.5px,#e2b587 339.5px,#e2b587 387.5px,#dfac84 387.5px,#dfac84 431.2px,#dca481 431.2px,#dca481 454.2px,#d99b7e 454.2px,#d99b7e 466.2px,#d5927a 466.2px,#d5927a 484px,#d28977 484px,#d28977 503.5px,#cf8174 503.5px,#cf8174 525.2px,#cc7871 525.2px,#cc7871 550.5px,#c96f6e 550.5px,#c96f6e 580.8px,#c6666b 580.8px,#c6666b 619px,#c35e68 619px,#c35e68 675.8px,#c05565 675.8px)"></i>
<i style="left:156px;background:linear-gradient(#f1e197 78.5px,#eed893 78.5px,#eed893 173.5px,#ebcf90 173.5px,#ebcf90 235.5px,#e8c78d 235.5px,#e8c78d 290.8px,#e5be8a 290.8px,#e5be8a 342.2px,#e2b587 342.2px,#e2b587 390.5px,#dfac84 390.5px,#dfac84 433.5px,#dca481 433.5px,#dca481 456.2px,#d99b7e 456.2px,#d99b7e 468.8px,#d5927a 468.8px,#d5927a 487px,#d28977 487px,#d28977 506.8px,#cf8174 506.8px,#cf8174 529px,#cc7871 529px,#cc7871 554.5px,#c96f6e 554.5px,#c96f6e 585px,#c6666b 585px,#c6666b 623.8px,#c35e68 623.8px)"></i>
<i style="left:157px;background:linear-gradient(#f1e197 80px,#eed893 80px,#eed893 175.5px,#ebcf90 175.5px,#ebcf90 237.2px,#e8c78d 237.2px,#e8c78d 293px,#e5be8a 293px,#e5be8a 345.2px,#e2b587 345.2px,#e2b587 393.5px,#dfac84 393.5px,#dfac84 435.8px,#dca481 435.8px,#dca481 458.2px,#d99b7e 458.2px,#d99b7e 471.2px,#d5927a 471.2px,#d5927a 489.8px,#d28977 489.8px,#d28977 510px,#cf8174 510px,#cf8174 532.8px,#cc7871 532.8px,#cc7871 558.5px,#c96f6e 558.5px,#c96f6e 589px,#c6666b 589px,#c6666b 628px,#c35e68 628px)"></i>
<i style="left:158px;background:linear-gradient(#f1e197 81.8px,#eed893 81.8px,#eed893 177.5px,#ebcf90 177.5px,#ebcf90 239.2px,#e8c78d 239.2px,#e8c78d 295.5px,#e5be8a 295.5px,#e5be8a 348.2px,#e2b587 348.2px,#e2b587 396.5px,#dfac84 396.5px,#dfac84 438.2px,#dca481 438.2px,#dca481 460.2px,#d99b7e 460.2px,#d99b7e 473.8px,#d5927a 473.8px,#d5927a 492.8px,#d28977 492.8px,#d28977 513.2px,#cf8174 513.2px,#cf8174 536px,#cc7871 536px,#cc7871 561.8px,#c96f6e 561.8px,#c96f6e 592.5px,#c6666b 592.5px,#c6666b 632px,#c35e68 632px)"></i>
<i style="left:159px;background:linear-gradient(#f1e197 83.2px,#eed893 83.2px,#eed893 179.5px,#ebcf90 179.5px,#ebcf90 241.5px,#e8c78d 241.5px,#e8c78d 298.2px,#e5be8a 298.2px,#e5be8a 351.2px,#e2b587 351.2px,#e2b587 399.5px,#dfac84 399.5px,#dfac84 440.5px,#dca481 440.5px,#dca481 462.2px,#d99b7e 462.2px,#d99b7e 476.2px,#d5927a 476.2px,#d5927a 495.5px,#d28977 495.5px,#d28977 516.2px,#cf8174 516.2px,#cf8174 539px,#cc7871 539px,#cc7871 565px,#c96f6e 565px,#c96f6e 595.8px,#c6666b 595.8px,#c6666b 636px,#c35e68 636px)"></i>
<i style="left:160px;background:linear-gradient(#f1e197 84.8px,#eed893 84.8px,#eed893 181.5px,#ebcf90 181.5px,#ebcf90 243.8px,#e8c78d 243.8px,#e8c78d 301px,#e5be8a 301px,#e5be8a 354.5px,#e2b587 354.5px,#e2b587 402.5px,#dfac84 402.5px,#dfac84 442.8px,#dca481 442.8px,#dca481 464.2px,#d99b7e 464.2px,#d99b7e 478.5px,#d5927a 478.5px,#d5927a 498px,#d28977 498px,#d28977 518.8px,#cf8174 518.8px,#cf8174 541.8px,#cc7871 541.8px,#cc7871 567.8px,#c96f6e 567.8px,#c96f6e 598.8px,#c6666b 598.8px,#c6666b 640px,#c35e68 640px)"></i>
<i style="left:161px;background:linear-gradient(#f1e197 86.2px,#eed893 86.2px,#eed893 183.5px,#ebcf90 183.5px,#ebcf90 246px,#e8c78d 246px,#e8c78d 303.8px,#e5be8a 303.8px,#e5be8a 357.2px,#e2b587 357.2px,#e2b587 405.2px,#dfac84 405.2px,#dfac84 445px,#dca481 445px,#dca481 466.2px,#d99b7e 466.2px,#d99b7e 480.8px,#d5927a 480.8px,#d5927a 500.5px,#d28977 500.5px,#d28977 521.5px,#cf8174 521.5px,#cf8174 544.5px,#cc7871 544.5px,#cc7871 570.5px,#c96f6e 570.5px,#c96f6e 601.8px,#c6666b 601.8px,#c6666b 644px,#c35e68 644px)"></i>
<i style="left:162px;background:linear-gradient(#f1e197 87.8px,#eed893 87.8px,#eed893 185.5px,#ebcf90 185.5px,#ebcf90 248.5px,#e8c78d 248.5px,#e8c78d 306px,#e5be8a 306px,#e5be8a 359.8px,#e2b587 359.8px,#e2b587 407.5px,#dfac84 407.5px,#dfac84 447.2px,#dca481 447.2px,#dca481 468.2px,#d99b7e 468.2px,#d99b7e 483px,#d5927a 483px,#d5927a 502.8px,#d28977 502.8px,#d28977 524px,#cf8174 524px,#cf8174 547px,#cc7871 547px,#cc7871 572.8px,#c96f6e 572.8px,#c96f6e 603.8px,#c6666b 603.8px,#c6666b 647.5px,#c35e68 647.5px)"></i>
<i style="left:163px;background:linear-gradient(#f1e197 89.2px,#eed893 89.2px,#eed893 187.5px,#ebcf90 187.5px,#ebcf90 250.8px,#e8c78d 250.8px,#e8c78d 308.5px,#e5be8a 308.5px,#e5be8a 362px,#e2b587 362px,#e2b587 409.8px,#dfac84 409.8px,#dfac84 449.5px,#dca481 449.5px,#dca481 470.2px,#d99b7e 470.2px,#d99b7e 500.2px,#d5927a 500.2px,#d5927a 525px,#d28977 525px,#d28977 546.5px,#cf8174 546.5px,#cf8174 567.2px,#cc7871 567.2px,#cc7871 588.5px,#c96f6e 588.5px,#c96f6e 613px,#c6666b 613px,#c6666b 650.5px,#c35e68 650.5px)"></i>
<i style="left:164px;background:linear-gradient(#f1e197 91px,#eed893 91px,#eed893 189.5px,#ebcf90 189.5px,#ebcf90 253px,#e8c78d 253px,#e8c78d 310.8px,#e5be8a 310.8px,#e5be8a 364.2px,#e2b587 364.2px,#e2b587 412.2px,#dfac84 412.2px,#dfac84 451.8px,#dca481 451.8px,#dca481 472.8px,#d99b7e 472.8px,#d99b7e 502.8px,#d5927a 502.8px,#d5927a 527.5px,#d28977 527.5px,#d28977 548.8px,#cf8174 548.8px,#cf8174 569px,#cc7871 569px,#cc7871 590px,#c96f6e 590px,#c96f6e 614px,#c6666b 614px,#c6666b 653.2px,#c35e68 653.2px)"></i>
<i style="left:165px;background:linear-gradient(#f1e197 92.5px,#eed893 92.5px,#eed893 191.2px,#ebcf90 191.2px,#ebcf90 255px,#e8c78d 255px,#e8c78d 312.8px,#e5be8a 312.8px,#e5be8a 366.5px,#e2b587 366.5px,#e2b587 414.5px,#dfac84 414.5px,#dfac84 454px,#dca481 454px,#dca481 475px,#d99b7e 475px,#d99b7e 505.8px,#d5927a 505.8px,#d5927a 530.2px,#d28977 530.2px,#d28977 551px,#cf8174 551px,#cf8174 571px,#cc7871 571px,#cc7871 591.5px,#c96f6e 591.5px,#c96f6e 615px,#c6666b 615px,#c6666b 656.2px,#c35e68 656.2px)"></i>
<i style="left:166px;background:linear-gradient(#f1e197 94px,#eed893 94px,#eed893 192.5px,#ebcf90 192.5px,#ebcf90 256.5px,#e8c78d 256.5px,#e8c78d 314.8px,#e5be8a 314.8px,#e5be8a 368.8px,#e2b587 368.8px,#e2b587 416.8px,#dfac84 416.8px,#dfac84 456.2px,#dca481 456.2px,#dca481 477.5px,#d99b7e 477.5px,#d99b7e 509px,#d5927a 509px,#d5927a 535px,#d28977 535px,#d28977 557.2px,#cf8174 557.2px,#cf8174 578.5px,#cc7871 578.5px,#cc7871 600.2px,#c96f6e 600.2px,#c96f6e 625.8px,#c6666b 625.8px,#c6666b 669.5px,#c35e68 669.5px)"></i>
<i style="left:167px;background:linear-gradient(#f1e197 95.5px,#eed893 95.5px,#eed893 193.5px,#ebcf90 193.5px,#ebcf90 258px,#e8c78d 258px,#e8c78d 316.8px,#e5be8a 316.8px,#e5be8a 370.8px,#e2b587 370.8px,#e2b587 419px,#dfac84 419px,#dfac84 458.5px,#dca481 458.5px,#dca481 479.8px,#d99b7e 479.8px,#d99b7e 512.5px,#d5927a 512.5px,#d5927a 543.2px,#d28977 543.2px,#d28977 573.2px,#cf8174 573.2px,#cf8174 602.5px,#cc7871 602.5px,#cc7871 630.8px,#c96f6e 630.8px,#c96f6e 658px,#c6666b 658px)"></i>
<i style="left:168px;background:linear-gradient(#f1e197 97px,#eed893 97px,#eed893 194.5px,#ebcf90 194.5px,#ebcf90 259.5px,#e8c78d 259.5px,#e8c78d 318.5px,#e5be8a 318.5px,#e5be8a 373px,#e2b587 373px,#e2b587 421.2px,#dfac84 421.2px,#dfac84 460.8px,#dca481 460.8px,#dca481 482.2px,#d99b7e 482.2px,#d99b7e 524px,#d5927a 524px,#d5927a 558.2px,#d28977 558.2px,#d28977 589.2px,#cf8174 589.2px,#cf8174 617.5px,#cc7871 617.5px,#cc7871 643.2px,#c96f6e 643.2px,#c96f6e 667.2px,#c6666b 667.2px)"></i>
<i style="left:169px;background:linear-gradient(#f1e197 98.5px,#eed893 98.5px,#eed893 195.5px,#ebcf90 195.5px,#ebcf90 261px,#e8c78d 261px,#e8c78d 320.5px,#e5be8a 320.5px,#e5be8a 375.2px,#e2b587 375.2px,#e2b587 423.5px,#dfac84 423.5px,#dfac84 463px,#dca481 463px,#dca481 484.5px,#d99b7e 484.5px,#d99b7e 525.2px,#d5927a 525.2px,#d5927a 559.8px,#d28977 559.8px,#d28977 591.2px,#cf8174 591.2px,#cf8174 620.5px,#cc7871 620.5px,#cc7871 647.5px,#c96f6e 647.5px,#c96f6e 672.5px,#c6666b 672.5px)"></i>
<i style="left:170px;background:linear-gradient(#f1e197 99.8px,#eed893 99.8px,#eed893 196.8px,#ebcf90 196.8px,#ebcf90 262.8px,#e8c78d 262.8px,#e8c78d 323.5px,#e5be8a 323.5px,#e5be8a 379.2px,#e2b587 379.2px,#e2b587 427.5px,#dfac84 427.5px,#dfac84 465.2px,#dca481 465.2px,#dca481 490.8px,#d99b7e 490.8px,#d99b7e 526.5px,#d5927a 526.5px,#d5927a 559.5px,#d28977 559.5px,#d28977 591.2px,#cf8174 591.2px,#cf8174 621.8px,#cc7871 621.8px,#cc7871 650.8px,#c96f6e 650.8px,#c96f6e 678.5px,#c6666b 678.5px)"></i>
<i style="left:171px;background:linear-gradient(#f1e197 101px,#eed893 101px,#eed893 197.8px,#ebcf90 197.8px,#ebcf90 264.2px,#e8c78d 264.2px,#e8c78d 326.5px,#e5be8a 326.5px,#e5be8a 383.5px,#e2b587 383.5px,#e2b587 431.5px,#dfac84 431.5px,#dfac84 467.5px,#dca481 467.5px,#dca481 496.8px,#d99b7e 496.8px,#d99b7e 539.2px,#d5927a 539.2px,#d5927a 574.5px,#d28977 574.5px,#d28977 605.8px,#cf8174 605.8px,#cf8174 634.5px,#cc7871 634.5px,#cc7871 660.5px,#c96f6e 660.5px)"></i>
<i style="left:172px;background:linear-gradient(#f1e197 102px,#eed893 102px,#eed893 198.8px,#ebcf90 198.8px,#ebcf90 265.8px,#e8c78d 265.8px,#e8c78d 329.5px,#e5be8a 329.5px,#e5be8a 387.8px,#e2b587 387.8px,#e2b587 435.5px,#dfac84 435.5px,#dfac84 469.8px,#dca481 469.8px,#dca481 502.8px,#d99b7e 502.8px,#d99b7e 545.5px,#d5927a 545.5px,#d5927a 580.8px,#d28977 580.8px,#d28977 612.2px,#cf8174 612.2px,#cf8174 640.8px,#cc7871 640.8px,#cc7871 666.8px,#c96f6e 666.8px)"></i>
<i style="left:173px;background:linear-gradient(#f1e197 103.2px,#eed893 103.2px,#eed893 199.8px,#ebcf90 199.8px,#ebcf90 267.2px,#e8c78d 267.2px,#e8c78d 332.5px,#e5be8a 332.5px,#e5be8a 391.8px,#e2b587 391.8px,#e2b587 439.5px,#dfac84 439.5px,#dfac84 472.5px,#dca481 472.5px,#dca481 511px,#d99b7e 511px,#d99b7e 549.8px,#d5927a 549.8px,#d5927a 583.8px,#d28977 583.8px,#d28977 615.5px,#cf8174 615.5px,#cf8174 645px,#cc7871 645px,#cc7871 672.5px,#c96f6e 672.5px)"></i>
<i style="left:174px;background:linear-gradient(#f1e197 104.5px,#eed893 104.5px,#eed893 201px,#ebcf90 201px,#ebcf90 269.5px,#e8c78d 269.5px,#e8c78d 335.5px,#e5be8a 335.5px,#e5be8a 395.8px,#e2b587 395.8px,#e2b587 443.5px,#dfac84 443.5px,#dfac84 476px,#dca481 476px,#dca481 521px,#d99b7e 521px,#d99b7e 553.8px,#d5927a 553.8px,#d5927a 586px,#d28977 586px,#d28977 617.5px,#cf8174 617.5px,#cf8174 648.5px,#cc7871 648.5px,#cc7871 679px,#c96f6e 679px)"></i>
<i style="left:175px;background:linear-gradient(#f1e197 105.8px,#eed893 105.8px,#eed893 202px,#ebcf90 202px,#ebcf90 272px,#e8c78d 272px,#e8c78d 339px,#e5be8a 339px,#e5be8a 399.2px,#e2b587 399.2px,#e2b587 447.2px,#dfac84 447.2px,#dfac84 479.8px,#dca481 479.8px,#dca481 531px,#d99b7e 531px,#d99b7e 558px,#d5927a 558px,#d5927a 587.5px,#d28977 587.5px,#d28977 618.5px,#cf8174 618.5px,#cf8174 651.5px,#cc7871 651.5px)"></i>
<i style="left:176px;background:linear-gradient(#f1e197 107px,#eed893 107px,#eed893 203px,#ebcf90 203px,#ebcf90 274.5px,#e8c78d 274.5px,#e8c78d 340.8px,#e5be8a 340.8px,#e5be8a 400px,#e2b587 400px,#e2b587 448.5px,#dfac84 448.5px,#dfac84 483.2px,#dca481 483.2px,#dca481 541px,#d99b7e 541px,#d99b7e 565.5px,#d5927a 565.5px,#d5927a 594px,#d28977 594px,#d28977 624.2px,#cf8174 624.2px,#cf8174 658.5px,#cc7871 658.5px)"></i>
<i style="left:177px;background:linear-gradient(#f1e197 108.2px,#eed893 108.2px,#eed893 204px,#ebcf90 204px,#ebcf90 277px,#e8c78d 277px,#e8c78d 342.5px,#e5be8a 342.5px,#e5be8a 400.8px,#e2b587 400.8px,#e2b587 450px,#dfac84 450px,#dfac84 486.8px,#dca481 486.8px,#dca481 551px,#d99b7e 551px,#d99b7e 576.5px,#d5927a 576.5px,#d5927a 605.2px,#d28977 605.2px,#d28977 635.8px,#cf8174 635.8px,#cf8174 669.8px,#cc7871 669.8px)"></i>
<i style="left:178px;background:linear-gradient(#f1e197 109.5px,#eed893 109.5px,#eed893 205px,#ebcf90 205px,#ebcf90 279.8px,#e8c78d 279.8px,#e8c78d 344.2px,#e5be8a 344.2px,#e5be8a 401.5px,#e2b587 401.5px,#e2b587 451.2px,#dfac84 451.2px,#dfac84 490.2px,#dca481 490.2px,#dca481 561px,#d99b7e 561px,#d99b7e 585.2px,#d5927a 585.2px,#d5927a 613.2px,#d28977 613.2px,#d28977 643.5px,#cf8174 643.5px,#cf8174 679.2px,#cc7871 679.2px)"></i>
<i style="left:179px;background:linear-gradient(#f1e197 110.8px,#eed893 110.8px,#eed893 206.5px,#ebcf90 206.5px,#ebcf90 282.2px,#e8c78d 282.2px,#e8c78d 345.2px,#e5be8a 345.2px,#e5be8a 401.2px,#e2b587 401.2px,#e2b587 452.5px,#dfac84 452.5px,#dfac84 496.8px,#dca481 496.8px,#dca481 571.2px,#d99b7e 571.2px,#d99b7e 591.5px,#d5927a 591.5px,#d5927a 617.5px,#d28977 617.5px,#d28977 647.2px,#cf8174 647.2px)"></i>
<i style="left:180px;background:linear-gradient(#f1e197 112px,#eed893 112px,#eed893 208px,#ebcf90 208px,#ebcf90 284.8px,#e8c78d 284.8px,#e8c78d 346px,#e5be8a 346px,#e5be8a 400.5px,#e2b587 400.5px,#e2b587 454px,#dfac84 454px,#dfac84 506.5px,#dca481 506.5px,#dca481 582px,#d99b7e 582px,#d99b7e 598px,#d5927a 598px,#d5927a 621px,#d28977 621px,#d28977 649.5px,#cf8174 649.5px)"></i>
<i style="left:181px;background:linear-gradient(#f1e197 113.2px,#eed893 113.2px,#eed893 209.8px,#ebcf90 209.8px,#ebcf90 287px,#e8c78d 287px,#e8c78d 346.5px,#e5be8a 346.5px,#e5be8a 399.8px,#e2b587 399.8px,#e2b587 455.2px,#dfac84 455.2px,#dfac84 517.8px,#dca481 517.8px,#dca481 592.5px,#d99b7e 592.5px,#d99b7e 605.8px,#d5927a 605.8px,#d5927a 628px,#d28977 628px,#d28977 658.2px,#cf8174 658.2px)"></i>
<i style="left:182px;background:linear-gradient(#f1e197 114.5px,#eed893 114.5px,#eed893 211.2px,#ebcf90 211.2px,#ebcf90 288.8px,#e8c78d 288.8px,#e8c78d 347.2px,#e5be8a 347.2px,#e5be8a 399.2px,#e2b587 399.2px,#e2b587 456.5px,#dfac84 456.5px,#dfac84 529px,#dca481 529px,#dca481 601px,#d99b7e 601px,#d99b7e 615.2px,#d5927a 615.2px,#d5927a 637.8px,#d28977 637.8px,#d28977 676.5px,#cf8174 676.5px)"></i>
<i style="left:183px;background:linear-gradient(#f1e197 115.5px,#eed893 115.5px,#eed893 212.8px,#ebcf90 212.8px,#ebcf90 290.5px,#e8c78d 290.5px,#e8c78d 347.8px,#e5be8a 347.8px,#e5be8a 399px,#e2b587 399px,#e2b587 457.8px,#dfac84 457.8px,#dfac84 542px,#dca481 542px,#dca481 607.5px,#d99b7e 607.5px,#d99b7e 624.5px,#d5927a 624.5px,#d5927a 649.2px,#d28977 649.2px)"></i>
<i style="left:184px;background:linear-gradient(#f1e197 116.8px,#eed893 116.8px,#eed893 214.5px,#ebcf90 214.5px,#ebcf90 292.2px,#e8c78d 292.2px,#e8c78d 348.8px,#e5be8a 348.8px,#e5be8a 399px,#e2b587 399px,#e2b587 459.2px,#dfac84 459.2px,#dfac84 556.5px,#dca481 556.5px,#dca481 614px,#d99b7e 614px,#d99b7e 633.2px,#d5927a 633.2px,#d5927a 660.5px,#d28977 660.5px)"></i>
<i style="left:185px;background:linear-gradient(#f1e197 118px,#eed893 118px,#eed893 216px,#ebcf90 216px,#ebcf90 293.8px,#e8c78d 293.8px,#e8c78d 350.2px,#e5be8a 350.2px,#e5be8a 400.2px,#e2b587 400.2px,#e2b587 460.5px,#dfac84 460.5px,#dfac84 558px,#dca481 558px,#dca481 614.8px,#d99b7e 614.8px,#d99b7e 641.8px,#d5927a 641.8px,#d5927a 678.5px,#d28977 678.5px)"></i>
<i style="left:186px;background:linear-gradient(#f1e197 119.2px,#eed893 119.2px,#eed893 217.5px,#ebcf90 217.5px,#ebcf90 295.5px,#e8c78d 295.5px,#e8c78d 352px,#e5be8a 352px,#e5be8a 401.8px,#e2b587 401.8px,#e2b587 461.8px,#dfac84 461.8px,#dfac84 559.2px,#dca481 559.2px,#dca481 615.5px,#d99b7e 615.5px,#d99b7e 672.8px,#d5927a 672.8px)"></i>
<i style="left:187px;background:linear-gradient(#f1e197 120.5px,#eed893 120.5px,#eed893 219.2px,#ebcf90 219.2px,#ebcf90 297.2px,#e8c78d 297.2px,#e8c78d 353.5px,#e5be8a 353.5px,#e5be8a 403.2px,#e2b587 403.2px,#e2b587 463.2px,#dfac84 463.2px,#dfac84 560.5px,#dca481 560.5px,#dca481 616.5px,#d99b7e 616.5px,#d99b7e 675px,#d5927a 675px)"></i>
<i style="left:188px;background:linear-gradient(#f1e197 121.8px,#eed893 121.8px,#eed893 220.8px,#ebcf90 220.8px,#ebcf90 299px,#e8c78d 299px,#e8c78d 355.2px,#e5be8a 355.2px,#e5be8a 404.8px,#e2b587 404.8px,#e2b587 464.5px,#dfac84 464.5px,#dfac84 562px,#dca481 562px,#dca481 617.2px,#d99b7e 617.2px,#d99b7e 675px,#d5927a 675px)"></i>
<i style="left:189px;background:linear-gradient(#f1e197 123px,#eed893 123px,#eed893 221.8px,#ebcf90 221.8px,#ebcf90 300.8px,#e8c78d 300.8px,#e8c78d 356.8px,#e5be8a 356.8px,#e5be8a 406.2px,#e2b587 406.2px,#e2b587 465.8px,#dfac84 465.8px,#dfac84 562.5px,#dca481 562.5px,#dca481 617.8px,#d99b7e 617.8px,#d99b7e 675px,#d5927a 675px)"></i>
<i style="left:190px;background:linear-gradient(#f1e197 124.2px,#eed893 124.2px,#eed893 222.2px,#ebcf90 222.2px,#ebcf90 301.8px,#e8c78d 301.8px,#e8c78d 358.2px,#e5be8a 358.2px,#e5be8a 407.8px,#e2b587 407.8px,#e2b587 467.2px,#dfac84 467.2px,#dfac84 562.5px,#dca481 562.5px,#dca481 617.8px,#d99b7e 617.8px,#d99b7e 675px,#d5927a 675px)"></i>
<i style="left:191px;background:linear-gradient(#f1e197 125.5px,#eed893 125.5px,#eed893 222.8px,#ebcf90 222.8px,#ebcf90 302.2px,#e8c78d 302.2px,#e8c78d 359px,#e5be8a 359px,#e5be8a 409px,#e2b587 409px,#e2b587 468.5px,#dfac84 468.5px,#dfac84 562.8px,#dca481 562.8px,#dca481 617.8px,#d99b7e 617.8px,#d99b7e 675px,#d5927a 675px)"></i>
<i style="left:192px;background:linear-gradient(#f1e197 126.8px,#eed893 126.8px,#eed893 223.2px,#ebcf90 223.2px,#ebcf90 302.5px,#e8c78d 302.5px,#e8c78d 359.5px,#e5be8a 359.5px,#e5be8a 410px,#e2b587 410px,#e2b587 469.8px,#dfac84 469.8px,#dfac84 562.8px,#dca481 562.8px,#dca481 618px,#d99b7e 618px,#d99b7e 675px,#d5927a 675px)"></i>
<i style="left:193px;background:linear-gradient(#f1e197 127.8px,#eed893 127.8px,#eed893 223.5px,#ebcf90 223.5px,#ebcf90 303px,#e8c78d 303px,#e8c78d 360.2px,#e5be8a 360.2px,#e5be8a 411.2px,#e2b587 411.2px,#e2b587 471.2px,#dfac84 471.2px,#dfac84 562.8px,#dca481 562.8px,#dca481 618px,#d99b7e 618px,#d99b7e 675px,#d5927a 675px)"></i>
<i style="left:194px;background:linear-gradient(#f1e197 129px,#eed893 129px,#eed893 224px,#ebcf90 224px,#ebcf90 303.2px,#e8c78d 303.2px,#e8c78d 361px,#e5be8a 361px,#e5be8a 412.5px,#e2b587 412.5px,#e2b587 472.5px,#dfac84 472.5px,#dfac84 562.8px,#dca481 562.8px,#dca481 618px,#d99b7e 618px,#d99b7e 675px,#d5927a 675px)"></i>
<i style="left:195px;background:linear-gradient(#f1e197 130.2px,#eed893 130.2px,#eed893 224.5px,#ebcf90 224.5px,#ebcf90 303.8px,#e8c78d 303.8px,#e8c78d 361.8px,#e5be8a 361.8px,#e5be8a 413.5px,#e2b587 413.5px,#e2b587 473.8px,#dfac84 473.8px,#dfac84 562.8px,#dca481 562.8px,#dca481 618px,#d99b7e 618px,#d99b7e 675.2px,#d5927a 675.2px)"></i>
<i style="left:196px;background:linear-gradient(#f1e197 131.5px,#eed893 131.5px,#eed893 225px,#ebcf90 225px,#ebcf90 304px,#e8c78d 304px,#e8c78d 362.5px,#e5be8a 362.5px,#e5be8a 414.8px,#e2b587 414.8px,#e2b587 475px,#dfac84 475px,#dfac84 563px,#dca481 563px,#dca481 618px,#d99b7e 618px,#d99b7e 675.2px,#d5927a 675.2px)"></i>
<i style="left:197px;background:linear-gradient(#f1e197 132.8px,#eed893 132.8px,#eed893 225.2px,#ebcf90 225.2px,#ebcf90 304.5px,#e8c78d 304.5px,#e8c78d 363px,#e5be8a 363px,#e5be8a 415.5px,#e2b587 415.5px,#e2b587 476px,#dfac84 476px,#dfac84 563px,#dca481 563px,#dca481 618px,#d99b7e 618px,#d99b7e 675.2px,#d5927a 675.2px)"></i>
<i style="left:198px;background:linear-gradient(#f1e197 134px,#eed893 134px,#eed893 225.8px,#ebcf90 225.8px,#ebcf90 304.8px,#e8c78d 304.8px,#e8c78d 363.8px,#e5be8a 363.8px,#e5be8a 416.2px,#e2b587 416.2px,#e2b587 476.8px,#dfac84 476.8px,#dfac84 563px,#dca481 563px,#dca481 618px,#d99b7e 618px,#d99b7e 675.2px,#d5927a 675.2px)"></i>
<i style="left:199px;background:linear-gradient(#f1e197 135.2px,#eed893 135.2px,#eed893 226.2px,#ebcf90 226.2px,#ebcf90 305.2px,#e8c78d 305.2px,#e8c78d 364.2px,#e5be8a 364.2px,#e5be8a 417px,#e2b587 417px,#e2b587 477.5px,#dfac84 477.5px,#dfac84 563px,#dca481 563px,#dca481 618px,#d99b7e 618px,#d99b7e 675.2px,#d5927a 675.2px)"></i>
<i style="left:200px;background:linear-gradient(#f1e197 136.5px,#eed893 136.5px,#eed893 226.8px,#ebcf90 226.8px,#ebcf90 305.5px,#e8c78d 305.5px,#e8c78d 364.8px,#e5be8a 364.8px,#e5be8a 417.8px,#e2b587 417.8px,#e2b587 478.2px,#dfac84 478.2px,#dfac84 563px,#dca481 563px,#dca481 618px,#d99b7e 618px,#d99b7e 675.2px,#d5927a 675.2px)"></i>
<i style="left:201px;background:linear-gradient(#f1e197 137.8px,#eed893 137.8px,#eed893 227px,#ebcf90 227px,#ebcf90 306px,#e8c78d 306px,#e8c78d 365.2px,#e5be8a 365.2px,#e5be8a 418.5px,#e2b587 418.5px,#e2b587 479px,#dfac84 479px,#dfac84 563.2px,#dca481 563.2px,#dca481 618px,#d99b7e 618px,#d99b7e 675.2px,#d5927a 675.2px)"></i>
<i style="left:202px;background:linear-gradient(#f1e197 138.8px,#eed893 138.8px,#eed893 227.5px,#ebcf90 227.5px,#ebcf90 306.2px,#e8c78d 306.2px,#e8c78d 365.8px,#e5be8a 365.8px,#e5be8a 419.2px,#e2b587 419.2px,#e2b587 479.8px,#dfac84 479.8px,#dfac84 563.2px,#dca481 563.2px,#dca481 618.2px,#d99b7e 618.2px,#d99b7e 675.2px,#d5927a 675.2px)"></i>
<i style="left:203px;background:linear-gradient(#f1e197 140px,#eed893 140px,#eed893 228px,#ebcf90 228px,#ebcf90 306.5px,#e8c78d 306.5px,#e8c78d 366.2px,#e5be8a 366.2px,#e5be8a 420px,#e2b587 420px,#e2b587 480.5px,#dfac84 480.5px,#dfac84 563.2px,#dca481 563.2px,#dca481 618.2px,#d99b7e 618.2px,#d99b7e 675.2px,#d5927a 675.2px)"></i>
<i style="left:204px;background:linear-gradient(#f1e197 141.2px,#eed893 141.2px,#eed893 228.2px,#ebcf90 228.2px,#ebcf90 306.8px,#e8c78d 306.8px,#e8c78d 366.8px,#e5be8a 366.8px,#e5be8a 420.8px,#e2b587 420.8px,#e2b587 481.5px,#dfac84 481.5px,#dfac84 563.2px,#dca481 563.2px,#dca481 618.2px,#d99b7e 618.2px,#d99b7e 675.2px,#d5927a 675.2px)"></i>
<i style="left:205px;background:linear-gradient(#f1e197 142.5px,#eed893 142.5px,#eed893 228.8px,#ebcf90 228.8px,#ebcf90 307px,#e8c78d 307px,#e8c78d 367.2px,#e5be8a 367.2px,#e5be8a 421.2px,#e2b587 421.2px,#e2b587 482.2px,#dfac84 482.2px,#dfac84 563.2px,#dca481 563.2px,#dca481 618.2px,#d99b7e 618.2px,#d99b7e 675.2px,#d5927a 675.2px)"></i>
<i style="left:206px;background:linear-gradient(#f1e197 143.8px,#eed893 143.8px,#eed893 229.2px,#ebcf90 229.2px,#ebcf90 307.5px,#e8c78d 307.5px,#e8c78d 367.8px,#e5be8a 367.8px,#e5be8a 422px,#e2b587 422px,#e2b587 483px,#dfac84 483px,#dfac84 563.5px,#dca481 563.5px,#dca481 618.2px,#d99b7e 618.2px,#d99b7e 675.2px,#d5927a 675.2px)"></i>
<i style="left:207px;background:linear-gradient(#f1e197 145px,#eed893 145px,#eed893 229.8px,#ebcf90 229.8px,#ebcf90 307.8px,#e8c78d 307.8px,#e8c78d 368.2px,#e5be8a 368.2px,#e5be8a 422.8px,#e2b587 422.8px,#e2b587 483.8px,#dfac84 483.8px,#dfac84 563.5px,#dca481 563.5px,#dca481 618.2px,#d99b7e 618.2px,#d99b7e 675.2px,#d5927a 675.2px)"></i>
<i style="left:208px;background:linear-gradient(#f1e197 146.2px,#eed893 146.2px,#eed893 230px,#ebcf90 230px,#ebcf90 308px,#e8c78d 308px,#e8c78d 368.5px,#e5be8a 368.5px,#e5be8a 423.5px,#e2b587 423.5px,#e2b587 484.5px,#dfac84 484.5px,#dfac84 563.5px,#dca481 563.5px,#dca481 618.2px,#d99b7e 618.2px,#d99b7e 675.2px,#d5927a 675.2px)"></i>
<i style="left:209px;background:linear-gradient(#f1e197 147.5px,#eed893 147.5px,#eed893 230.5px,#ebcf90 230.5px,#ebcf90 308.2px,#e8c78d 308.2px,#e8c78d 369px,#e5be8a 369px,#e5be8a 424.2px,#e2b587 424.2px,#e2b587 485.2px,#dfac84 485.2px,#dfac84 563.5px,#dca481 563.5px,#dca481 618.2px,#d99b7e 618.2px,#d99b7e 675.2px,#d5927a 675.2px)"></i>
<i style="left:210px;background:linear-gradient(#f1e197 148.5px,#eed893 148.5px,#eed893 231px,#ebcf90 231px,#ebcf90 308.5px,#e8c78d 308.5px,#e8c78d 369.5px,#e5be8a 369.5px,#e5be8a 425px,#e2b587 425px,#e2b587 486px,#dfac84 486px,#dfac84 563.5px,#dca481 563.5px,#dca481 618.5px,#d99b7e 618.5px,#d99b7e 675.2px,#d5927a 675.2px)"></i>
<i style="left:211px;background:linear-gradient(#f1e197 149.8px,#eed893 149.8px,#eed893 231.5px,#ebcf90 231.5px,#ebcf90 308.8px,#e8c78d 308.8px,#e8c78d 370px,#e5be8a 370px,#e5be8a 425.8px,#e2b587 425.8px,#e2b587 486.8px,#dfac84 486.8px,#dfac84 563.8px,#dca481 563.8px,#dca481 618.5px,#d99b7e 618.5px,#d99b7e 675.2px,#d5927a 675.2px)"></i>
<i style="left:212px;background:linear-gradient(#f1e197 150.8px,#eed893 150.8px,#eed893 231.8px,#ebcf90 231.8px,#ebcf90 309px,#e8c78d 309px,#e8c78d 370.5px,#e5be8a 370.5px,#e5be8a 426.5px,#e2b587 426.5px,#e2b587 487.8px,#dfac84 487.8px,#dfac84 563.8px,#dca481 563.8px,#dca481 618.5px,#d99b7e 618.5px,#d99b7e 675.2px,#d5927a 675.2px)"></i>
<i style="left:213px;background:linear-gradient(#f1e197 152px,#eed893 152px,#eed893 232.2px,#ebcf90 232.2px,#ebcf90 309.2px,#e8c78d 309.2px,#e8c78d 371px,#e5be8a 371px,#e5be8a 427.2px,#e2b587 427.2px,#e2b587 488.5px,#dfac84 488.5px,#dfac84 563.8px,#dca481 563.8px,#dca481 618.5px,#d99b7e 618.5px,#d99b7e 675.2px,#d5927a 675.2px)"></i>
<i style="left:214px;background:linear-gradient(#f1e197 153.2px,#eed893 153.2px,#eed893 232.8px,#ebcf90 232.8px,#ebcf90 309.5px,#e8c78d 309.5px,#e8c78d 371.5px,#e5be8a 371.5px,#e5be8a 428px,#e2b587 428px,#e2b587 489.2px,#dfac84 489.2px,#dfac84 564px,#dca481 564px,#dca481 618.5px,#d99b7e 618.5px,#d99b7e 675.2px,#d5927a 675.2px)"></i>
<i style="left:215px;background:linear-gradient(#f1e197 154.2px,#eed893 154.2px,#eed893 233.2px,#ebcf90 233.2px,#ebcf90 310px,#e8c78d 310px,#e8c78d 372px,#e5be8a 372px,#e5be8a 428.8px,#e2b587 428.8px,#e2b587 490px,#dfac84 490px,#dfac84 564px,#dca481 564px,#dca481 618.8px,#d99b7e 618.8px,#d99b7e 675.2px,#d5927a 675.2px)"></i>
<i style="left:216px;background:linear-gradient(#f1e197 155.5px,#eed893 155.5px,#eed893 233.5px,#ebcf90 233.5px,#ebcf90 310.2px,#e8c78d 310.2px,#e8c78d 372.5px,#e5be8a 372.5px,#e5be8a 429.5px,#e2b587 429.5px,#e2b587 490.8px,#dfac84 490.8px,#dfac84 564px,#dca481 564px,#dca481 618.8px,#d99b7e 618.8px,#d99b7e 675.2px,#d5927a 675.2px)"></i>
<i style="left:217px;background:linear-gradient(#f1e197 156.5px,#eed893 156.5px,#eed893 234px,#ebcf90 234px,#ebcf90 310.5px,#e8c78d 310.5px,#e8c78d 373px,#e5be8a 373px,#e5be8a 430.2px,#e2b587 430.2px,#e2b587 491.5px,#dfac84 491.5px,#dfac84 564px,#dca481 564px,#dca481 618.8px,#d99b7e 618.8px,#d99b7e 675.2px,#d5927a 675.2px)"></i>
<i style="left:218px;background:linear-gradient(#f1e197 157.8px,#eed893 157.8px,#eed893 234.5px,#ebcf90 234.5px,#ebcf90 310.8px,#e8c78d 310.8px,#e8c78d 374px,#e5be8a 374px,#e5be8a 432.2px,#e2b587 432.2px,#e2b587 493.8px,#dfac84 493.8px,#dfac84 564.2px,#dca481 564.2px,#dca481 618.8px,#d99b7e 618.8px,#d99b7e 675.2px,#d5927a 675.2px)"></i>
<i style="left:219px;background:linear-gradient(#f1e197 159px,#eed893 159px,#eed893 235px,#ebcf90 235px,#ebcf90 311px,#e8c78d 311px,#e8c78d 375px,#e5be8a 375px,#e5be8a 434.5px,#e2b587 434.5px,#e2b587 496px,#dfac84 496px,#dfac84 564.2px,#dca481 564.2px,#dca481 619px,#d99b7e 619px,#d99b7e 675.2px,#d5927a 675.2px)"></i>
<i style="left:220px;background:linear-gradient(#f1e197 160px,#eed893 160px,#eed893 235.8px,#ebcf90 235.8px,#ebcf90 311.2px,#e8c78d 311.2px,#e8c78d 376.2px,#e5be8a 376.2px,#e5be8a 436.8px,#e2b587 436.8px,#e2b587 498.5px,#dfac84 498.5px,#dfac84 564.2px,#dca481 564.2px,#dca481 619px,#d99b7e 619px,#d99b7e 675.2px,#d5927a 675.2px)"></i>
<i style="left:221px;background:linear-gradient(#f1e197 161.2px,#eed893 161.2px,#eed893 236.2px,#ebcf90 236.2px,#ebcf90 311.5px,#e8c78d 311.5px,#e8c78d 377.5px,#e5be8a 377.5px,#e5be8a 439.2px,#e2b587 439.2px,#e2b587 501px,#dfac84 501px,#dfac84 564.5px,#dca481 564.5px,#dca481 619px,#d99b7e 619px,#d99b7e 675.2px,#d5927a 675.2px)"></i>
<i style="left:222px;background:linear-gradient(#f1e197 162.2px,#eed893 162.2px,#eed893 237px,#ebcf90 237px,#ebcf90 311.8px,#e8c78d 311.8px,#e8c78d 378.8px,#e5be8a 378.8px,#e5be8a 441.5px,#e2b587 441.5px,#e2b587 503.5px,#dfac84 503.5px,#dfac84 564.5px,#dca481 564.5px,#dca481 619px,#d99b7e 619px,#d99b7e 675.2px,#d5927a 675.2px)"></i>
<i style="left:223px;background:linear-gradient(#f1e197 163.5px,#eed893 163.5px,#eed893 237.5px,#ebcf90 237.5px,#ebcf90 312.2px,#e8c78d 312.2px,#e8c78d 380px,#e5be8a 380px,#e5be8a 444px,#e2b587 444px,#e2b587 506px,#dfac84 506px,#dfac84 564.5px,#dca481 564.5px,#dca481 619px,#d99b7e 619px,#d99b7e 675.2px,#d5927a 675.2px)"></i>
<i style="left:224px;background:linear-gradient(#f1e197 164.8px,#eed893 164.8px,#eed893 238.2px,#ebcf90 238.2px,#ebcf90 312.5px,#e8c78d 312.5px,#e8c78d 380.8px,#e5be8a 380.8px,#e5be8a 445.5px,#e2b587 445.5px,#e2b587 507.2px,#dfac84 507.2px,#dfac84 564.5px,#dca481 564.5px,#dca481 619.2px,#d99b7e 619.2px,#d99b7e 675.2px,#d5927a 675.2px)"></i>
<i style="left:225px;background:linear-gradient(#f1e197 165.8px,#eed893 165.8px,#eed893 239px,#ebcf90 239px,#ebcf90 312.8px,#e8c78d 312.8px,#e8c78d 381.2px,#e5be8a 381.2px,#e5be8a 446.8px,#e2b587 446.8px,#e2b587 508.5px,#dfac84 508.5px,#dfac84 564.8px,#dca481 564.8px,#dca481 619.2px,#d99b7e 619.2px,#d99b7e 675.2px,#d5927a 675.2px)"></i>
<i style="left:226px;background:linear-gradient(#f1e197 167px,#eed893 167px,#eed893 239.5px,#ebcf90 239.5px,#ebcf90 313px,#e8c78d 313px,#e8c78d 382px,#e5be8a 382px,#e5be8a 448px,#e2b587 448px,#e2b587 509.5px,#dfac84 509.5px,#dfac84 564.8px,#dca481 564.8px,#dca481 619.2px,#d99b7e 619.2px,#d99b7e 675.2px,#d5927a 675.2px)"></i>
<i style="left:227px;background:linear-gradient(#f1e197 168px,#eed893 168px,#eed893 240.2px,#ebcf90 240.2px,#ebcf90 313.5px,#e8c78d 313.5px,#e8c78d 383px,#e5be8a 383px,#e5be8a 449.2px,#e2b587 449.2px,#e2b587 510.8px,#dfac84 510.8px,#dfac84 564.8px,#dca481 564.8px,#dca481 620px,#d99b7e 620px,#d99b7e 675.5px,#d5927a 675.5px)"></i>
<i style="left:228px;background:linear-gradient(#f1e197 169.2px,#eed893 169.2px,#eed893 240.8px,#ebcf90 240.8px,#ebcf90 314.2px,#e8c78d 314.2px,#e8c78d 384.2px,#e5be8a 384.2px,#e5be8a 450.8px,#e2b587 450.8px,#e2b587 512px,#dfac84 512px,#dfac84 565px,#dca481 565px,#dca481 621.2px,#d99b7e 621.2px,#d99b7e 675.8px,#d5927a 675.8px)"></i>
<i style="left:229px;background:linear-gradient(#f1e197 170.5px,#eed893 170.5px,#eed893 241.5px,#ebcf90 241.5px,#ebcf90 315.2px,#e8c78d 315.2px,#e8c78d 385.2px,#e5be8a 385.2px,#e5be8a 452px,#e2b587 452px,#e2b587 513.2px,#dfac84 513.2px,#dfac84 565.8px,#dca481 565.8px,#dca481 622.5px,#d99b7e 622.5px,#d99b7e 675.8px,#d5927a 675.8px)"></i>
<i style="left:230px;background:linear-gradient(#f1e197 171.5px,#eed893 171.5px,#eed893 242px,#ebcf90 242px,#ebcf90 322.5px,#e8c78d 322.5px,#e8c78d 392px,#e5be8a 392px,#e5be8a 455.2px,#e2b587 455.2px,#e2b587 514.2px,#dfac84 514.2px,#dfac84 567.5px,#dca481 567.5px,#dca481 623.8px,#d99b7e 623.8px,#d99b7e 676px,#d5927a 676px)"></i>
<i style="left:231px;background:linear-gradient(#f1e197 172.8px,#eed893 172.8px,#eed893 242.8px,#ebcf90 242.8px,#ebcf90 323px,#e8c78d 323px,#e8c78d 392.5px,#e5be8a 392.5px,#e5be8a 456px,#e2b587 456px,#e2b587 515.5px,#dfac84 515.5px,#dfac84 569px,#dca481 569px,#dca481 625.2px,#d99b7e 625.2px,#d99b7e 676px,#d5927a 676px)"></i>
<i style="left:232px;background:linear-gradient(#f4ea9a 6.8px,#f1e197 6.8px,#f1e197 173.8px,#eed893 173.8px,#eed893 243.5px,#ebcf90 243.5px,#ebcf90 323.2px,#e8c78d 323.2px,#e8c78d 393.2px,#e5be8a 393.2px,#e5be8a 457.5px,#e2b587 457.5px,#e2b587 517.5px,#dfac84 517.5px,#dfac84 570.8px,#dca481 570.8px,#dca481 631.5px,#d99b7e 631.5px)"></i>
<i style="left:233px;background:linear-gradient(#f4ea9a 10.8px,#f1e197 10.8px,#f1e197 175px,#eed893 175px,#eed893 244.5px,#ebcf90 244.5px,#ebcf90 323.8px,#e8c78d 323.8px,#e8c78d 394.5px,#e5be8a 394.5px,#e5be8a 459.8px,#e2b587 459.8px,#e2b587 520px,#dfac84 520px,#dfac84 572.2px,#dca481 572.2px,#dca481 642.5px,#d99b7e 642.5px)"></i>
<i style="left:234px;background:linear-gradient(#f4ea9a 14.5px,#f1e197 14.5px,#f1e197 176.2px,#eed893 176.2px,#eed893 246.2px,#ebcf90 246.2px,#ebcf90 324px,#e8c78d 324px,#e8c78d 395.5px,#e5be8a 395.5px,#e5be8a 462px,#e2b587 462px,#e2b587 522.5px,#dfac84 522.5px,#dfac84 574px,#dca481 574px,#dca481 667.5px,#d99b7e 667.5px)"></i>
<i style="left:235px;background:linear-gradient(#f4ea9a 18.2px,#f1e197 18.2px,#f1e197 177.2px,#eed893 177.2px,#eed893 247.8px,#ebcf90 247.8px,#ebcf90 324.5px,#e8c78d 324.5px,#e8c78d 396.5px,#e5be8a 396.5px,#e5be8a 464.2px,#e2b587 464.2px,#e2b587 525px,#dfac84 525px,#dfac84 575.8px,#dca481 575.8px)"></i>
<i style="left:236px;background:linear-gradient(#f4ea9a 22.2px,#f1e197 22.2px,#f1e197 178.5px,#eed893 178.5px,#eed893 249.5px,#ebcf90 249.5px,#ebcf90 325px,#e8c78d 325px,#e8c78d 397px,#e5be8a 397px,#e5be8a 465.5px,#e2b587 465.5px,#e2b587 527.8px,#dfac84 527.8px,#dfac84 580.2px,#dca481 580.2px)"></i>
<i style="left:237px;background:linear-gradient(#f4ea9a 25.2px,#f1e197 25.2px,#f1e197 179.5px,#eed893 179.5px,#eed893 251.2px,#ebcf90 251.2px,#ebcf90 334.2px,#e8c78d 334.2px,#e8c78d 404.8px,#e5be8a 404.8px,#e5be8a 469px,#e2b587 469px,#e2b587 530.2px,#dfac84 530.2px,#dfac84 587.5px,#dca481 587.5px)"></i>
<i style="left:238px;background:linear-gradient(#f4ea9a 27.5px,#f1e197 27.5px,#f1e197 180.8px,#eed893 180.8px,#eed893 252.8px,#ebcf90 252.8px,#ebcf90 335px,#e8c78d 335px,#e8c78d 405px,#e5be8a 405px,#e5be8a 469.8px,#e2b587 469.8px,#e2b587 532.8px,#dfac84 532.8px,#dfac84 595px,#dca481 595px)"></i>
<i style="left:239px;background:linear-gradient(#f4ea9a 29.5px,#f1e197 29.5px,#f1e197 182px,#eed893 182px,#eed893 254.5px,#ebcf90 254.5px,#ebcf90 335.8px,#e8c78d 335.8px,#e8c78d 406px,#e5be8a 406px,#e5be8a 471.2px,#e2b587 471.2px,#e2b587 536px,#dfac84 536px,#dfac84 601.8px,#dca481 601.8px)"></i>
<i style="left:240px;background:linear-gradient(#f4ea9a 31.8px,#f1e197 31.8px,#f1e197 183px,#eed893 183px,#eed893 256.2px,#ebcf90 256.2px,#ebcf90 336.2px,#e8c78d 336.2px,#e8c78d 407.2px,#e5be8a 407.2px,#e5be8a 473.5px,#e2b587 473.5px,#e2b587 540px,#dfac84 540px,#dfac84 608.2px,#dca481 608.2px)"></i>
<i style="left:241px;background:linear-gradient(#f4ea9a 34px,#f1e197 34px,#f1e197 184.2px,#eed893 184.2px,#eed893 257.8px,#ebcf90 257.8px,#ebcf90 337px,#e8c78d 337px,#e8c78d 408.2px,#e5be8a 408.2px,#e5be8a 476px,#e2b587 476px,#e2b587 544px,#dfac84 544px,#dfac84 614.5px,#dca481 614.5px)"></i>
<i style="left:242px;background:linear-gradient(#f4ea9a 36.2px,#f1e197 36.2px,#f1e197 185.5px,#eed893 185.5px,#eed893 259.5px,#ebcf90 259.5px,#ebcf90 337.8px,#e8c78d 337.8px,#e8c78d 409.5px,#e5be8a 409.5px,#e5be8a 478.5px,#e2b587 478.5px,#e2b587 548px,#dfac84 548px,#dfac84 620.8px,#dca481 620.8px)"></i>
<i style="left:243px;background:linear-gradient(#f4ea9a 38.2px,#f1e197 38.2px,#f1e197 186.5px,#eed893 186.5px,#eed893 261.2px,#ebcf90 261.2px,#ebcf90 348px,#e8c78d 348px,#e8c78d 419.2px,#e5be8a 419.2px,#e5be8a 484.5px,#e2b587 484.5px,#e2b587 552px,#dfac84 552px,#dfac84 627.2px,#dca481 627.2px)"></i>
<i style="left:244px;background:linear-gradient(#f4ea9a 40.5px,#f1e197 40.5px,#f1e197 187.8px,#eed893 187.8px,#eed893 262.8px,#ebcf90 262.8px,#ebcf90 349px,#e8c78d 349px,#e8c78d 421px,#e5be8a 421px,#e5be8a 487px,#e2b587 487px,#e2b587 556px,#dfac84 556px,#dfac84 633.5px,#dca481 633.5px)"></i>
<i style="left:245px;background:linear-gradient(#f4ea9a 42.8px,#f1e197 42.8px,#f1e197 188.8px,#eed893 188.8px,#eed893 266.5px,#ebcf90 266.5px,#ebcf90 350.2px,#e8c78d 350.2px,#e8c78d 422.2px,#e5be8a 422.2px,#e5be8a 489.5px,#e2b587 489.5px,#e2b587 560px,#dfac84 560px,#dfac84 640px,#dca481 640px)"></i>
<i style="left:246px;background:linear-gradient(#f4ea9a 45px,#f1e197 45px,#f1e197 190px,#eed893 190px,#eed893 272px,#ebcf90 272px,#ebcf90 351.5px,#e8c78d 351.5px,#e8c78d 422.8px,#e5be8a 422.8px,#e5be8a 491px,#e2b587 491px,#e2b587 564px,#dfac84 564px,#dfac84 649.5px,#dca481 649.5px)"></i>
<i style="left:247px;background:linear-gradient(#f4ea9a 47px,#f1e197 47px,#f1e197 191.2px,#eed893 191.2px,#eed893 277.5px,#ebcf90 277.5px,#ebcf90 352.5px,#e8c78d 352.5px,#e8c78d 422.2px,#e5be8a 422.2px,#e5be8a 490.8px,#e2b587 490.8px,#e2b587 568.5px,#dfac84 568.5px,#dfac84 671px,#dca481 671px)"></i>
<i style="left:248px;background:linear-gradient(#f4ea9a 49.2px,#f1e197 49.2px,#f1e197 192.2px,#eed893 192.2px,#eed893 283px,#ebcf90 283px,#ebcf90 354.5px,#e8c78d 354.5px,#e8c78d 423.8px,#e5be8a 423.8px,#e5be8a 492.5px,#e2b587 492.5px,#e2b587 573px,#dfac84 573px)"></i>
<i style="left:249px;background:linear-gradient(#f4ea9a 51.5px,#f1e197 51.5px,#f1e197 193.5px,#eed893 193.5px,#eed893 286.2px,#ebcf90 286.2px,#ebcf90 357.5px,#e8c78d 357.5px,#e8c78d 426.8px,#e5be8a 426.8px,#e5be8a 496.2px,#e2b587 496.2px,#e2b587 577.5px,#dfac84 577.5px)"></i>
<i style="left:250px;background:linear-gradient(#f4ea9a 53.8px,#f1e197 53.8px,#f1e197 194.8px,#eed893 194.8px,#eed893 287.2px,#ebcf90 287.2px,#ebcf90 360.5px,#e8c78d 360.5px,#e8c78d 430.5px,#e5be8a 430.5px,#e5be8a 500px,#e2b587 500px,#e2b587 582px,#dfac84 582px)"></i>
<i style="left:251px;background:linear-gradient(#f4ea9a 56px,#f1e197 56px,#f1e197 195.8px,#eed893 195.8px,#eed893 288.2px,#ebcf90 288.2px,#ebcf90 363.5px,#e8c78d 363.5px,#e8c78d 434.2px,#e5be8a 434.2px,#e5be8a 503.8px,#e2b587 503.8px,#e2b587 586.8px,#dfac84 586.8px)"></i>
<i style="left:252px;background:linear-gradient(#f4ea9a 58px,#f1e197 58px,#f1e197 197px,#eed893 197px,#eed893 289.2px,#ebcf90 289.2px,#ebcf90 366.5px,#e8c78d 366.5px,#e8c78d 437.8px,#e5be8a 437.8px,#e5be8a 507.5px,#e2b587 507.5px,#e2b587 591.2px,#dfac84 591.2px)"></i>
<i style="left:253px;background:linear-gradient(#f4ea9a 60.2px,#f1e197 60.2px,#f1e197 198px,#eed893 198px,#eed893 290.2px,#ebcf90 290.2px,#ebcf90 369px,#e8c78d 369px,#e8c78d 441px,#e5be8a 441px,#e5be8a 511px,#e2b587 511px,#e2b587 595.8px,#dfac84 595.8px)"></i>
<i style="left:254px;background:linear-gradient(#f4ea9a 62.5px,#f1e197 62.5px,#f1e197 199.2px,#eed893 199.2px,#eed893 291.2px,#ebcf90 291.2px,#ebcf90 371px,#e8c78d 371px,#e8c78d 443.8px,#e5be8a 443.8px,#e5be8a 514.5px,#e2b587 514.5px,#e2b587 601px,#dfac84 601px)"></i>
<i style="left:255px;background:linear-gradient(#f4ea9a 64.8px,#f1e197 64.8px,#f1e197 200.5px,#eed893 200.5px,#eed893 292.2px,#ebcf90 292.2px,#ebcf90 373px,#e8c78d 373px,#e8c78d 446.8px,#e5be8a 446.8px,#e5be8a 518.8px,#e2b587 518.8px,#e2b587 607px,#dfac84 607px)"></i>
<i style="left:256px;background:linear-gradient(#f4ea9a 66.8px,#f1e197 66.8px,#f1e197 201.5px,#eed893 201.5px,#eed893 293.2px,#ebcf90 293.2px,#ebcf90 375px,#e8c78d 375px,#e8c78d 449.8px,#e5be8a 449.8px,#e5be8a 522.5px,#e2b587 522.5px,#e2b587 613px,#dfac84 613px)"></i>
<i style="left:257px;background:linear-gradient(#f4ea9a 69px,#f1e197 69px,#f1e197 202.8px,#eed893 202.8px,#eed893 305px,#ebcf90 305px,#ebcf90 377px,#e8c78d 377px,#e8c78d 450px,#e5be8a 450px,#e5be8a 524.5px,#e2b587 524.5px,#e2b587 619px,#dfac84 619px)"></i>
<i style="left:258px;background:linear-gradient(#f4ea9a 71.2px,#f1e197 71.2px,#f1e197 204px,#eed893 204px,#eed893 307.2px,#ebcf90 307.2px,#ebcf90 379px,#e8c78d 379px,#e8c78d 452.5px,#e5be8a 452.5px,#e5be8a 527.8px,#e2b587 527.8px,#e2b587 625px,#dfac84 625px)"></i>
<i style="left:259px;background:linear-gradient(#f4ea9a 73.5px,#f1e197 73.5px,#f1e197 205px,#eed893 205px,#eed893 309.2px,#ebcf90 309.2px,#ebcf90 381px,#e8c78d 381px,#e8c78d 454.8px,#e5be8a 454.8px,#e5be8a 530.8px,#e2b587 530.8px,#e2b587 631px,#dfac84 631px)"></i>
<i style="left:260px;background:linear-gradient(#f4ea9a 75.5px,#f1e197 75.5px,#f1e197 206.2px,#eed893 206.2px,#eed893 311.5px,#ebcf90 311.5px,#ebcf90 383px,#e8c78d 383px,#e8c78d 457px,#e5be8a 457px,#e5be8a 533px,#e2b587 533px,#e2b587 637px,#dfac84 637px)"></i>
<i style="left:261px;background:linear-gradient(#f4ea9a 77.8px,#f1e197 77.8px,#f1e197 207.2px,#eed893 207.2px,#eed893 313.5px,#ebcf90 313.5px,#ebcf90 401.5px,#e8c78d 401.5px,#e8c78d 475.2px,#e5be8a 475.2px,#e5be8a 544.5px,#e2b587 544.5px,#e2b587 643px,#dfac84 643px)"></i>
<i style="left:262px;background:linear-gradient(#f4ea9a 80px,#f1e197 80px,#f1e197 208.5px,#eed893 208.5px,#eed893 315.8px,#ebcf90 315.8px,#ebcf90 403.2px,#e8c78d 403.2px,#e8c78d 479.5px,#e5be8a 479.5px,#e5be8a 552.5px,#e2b587 552.5px,#e2b587 657px,#dfac84 657px)"></i>
<i style="left:263px;background:linear-gradient(#f4ea9a 82.2px,#f1e197 82.2px,#f1e197 209.5px,#eed893 209.5px,#eed893 317.8px,#ebcf90 317.8px,#ebcf90 405px,#e8c78d 405px,#e8c78d 490.5px,#e5be8a 490.5px,#e5be8a 576.8px,#e2b587 576.8px,#e2b587 673px,#dfac84 673px)"></i>
<i style="left:264px;background:linear-gradient(#f4ea9a 84.2px,#f1e197 84.2px,#f1e197 210.8px,#eed893 210.8px,#eed893 320px,#ebcf90 320px,#ebcf90 406.5px,#e8c78d 406.5px,#e8c78d 496.8px,#e5be8a 496.8px,#e5be8a 589.2px,#e2b587 589.2px)"></i>
<i style="left:265px;background:linear-gradient(#f4ea9a 86.5px,#f1e197 86.5px,#f1e197 211.8px,#eed893 211.8px,#eed893 322px,#ebcf90 322px,#ebcf90 408.2px,#e8c78d 408.2px,#e8c78d 499.2px,#e5be8a 499.2px,#e5be8a 593.8px,#e2b587 593.8px)"></i>
<i style="left:266px;background:linear-gradient(#f4ea9a 88.8px,#f1e197 88.8px,#f1e197 213px,#eed893 213px,#eed893 324.2px,#ebcf90 324.2px,#ebcf90 410px,#e8c78d 410px,#e8c78d 502px,#e5be8a 502px,#e5be8a 598.8px,#e2b587 598.8px)"></i>
<i style="left:267px;background:linear-gradient(#f4ea9a 91px,#f1e197 91px,#f1e197 214px,#eed893 214px,#eed893 326.2px,#ebcf90 326.2px,#ebcf90 411.5px,#e8c78d 411.5px,#e8c78d 504.8px,#e5be8a 504.8px,#e5be8a 604px,#e2b587 604px)"></i>
<i style="left:268px;background:linear-gradient(#f4ea9a 93px,#f1e197 93px,#f1e197 215.2px,#eed893 215.2px,#eed893 328.5px,#ebcf90 328.5px,#ebcf90 413.2px,#e8c78d 413.2px,#e8c78d 507.5px,#e5be8a 507.5px,#e5be8a 609.8px,#e2b587 609.8px)"></i>
<i style="left:269px;background:linear-gradient(#f4ea9a 95.2px,#f1e197 95.2px,#f1e197 216.2px,#eed893 216.2px,#eed893 344.2px,#ebcf90 344.2px,#ebcf90 415.8px,#e8c78d 415.8px,#e8c78d 504px,#e5be8a 504px,#e5be8a 607px,#e2b587 607px)"></i>
<i style="left:270px;background:linear-gradient(#f4ea9a 97.5px,#f1e197 97.5px,#f1e197 217.5px,#eed893 217.5px,#eed893 346px,#ebcf90 346px,#ebcf90 419px,#e8c78d 419px,#e8c78d 509.2px,#e5be8a 509.2px,#e5be8a 616px,#e2b587 616px)"></i>
<i style="left:271px;background:linear-gradient(#f4ea9a 99.8px,#f1e197 99.8px,#f1e197 218.5px,#eed893 218.5px,#eed893 347.8px,#ebcf90 347.8px,#ebcf90 422.5px,#e8c78d 422.5px,#e8c78d 515px,#e5be8a 515px,#e5be8a 625.5px,#e2b587 625.5px)"></i>
<i style="left:272px;background:linear-gradient(#f4ea9a 102px,#f1e197 102px,#f1e197 219.5px,#eed893 219.5px,#eed893 349.5px,#ebcf90 349.5px,#ebcf90 439.2px,#e8c78d 439.2px,#e8c78d 538.2px,#e5be8a 538.2px,#e5be8a 646.2px,#e2b587 646.2px)"></i>
<i style="left:273px;background:linear-gradient(#f4ea9a 104px,#f1e197 104px,#f1e197 220.8px,#eed893 220.8px,#eed893 351.2px,#ebcf90 351.2px,#ebcf90 440.8px,#e8c78d 440.8px,#e8c78d 541.8px,#e5be8a 541.8px,#e5be8a 654.5px,#e2b587 654.5px)"></i>
<i style="left:274px;background:linear-gradient(#f4ea9a 106.2px,#f1e197 106.2px,#f1e197 221.8px,#eed893 221.8px,#eed893 353px,#ebcf90 353px,#ebcf90 442.5px,#e8c78d 442.5px,#e8c78d 545.5px,#e5be8a 545.5px,#e5be8a 663.5px,#e2b587 663.5px)"></i>
<i style="left:275px;background:linear-gradient(#f4ea9a 108.5px,#f1e197 108.5px,#f1e197 223px,#eed893 223px,#eed893 354.8px,#ebcf90 354.8px,#ebcf90 444px,#e8c78d 444px,#e8c78d 549.2px,#e5be8a 549.2px,#e5be8a 674.2px,#e2b587 674.2px)"></i>
<i style="left:276px;background:linear-gradient(#f4ea9a 110.8px,#f1e197 110.8px,#f1e197 224px,#eed893 224px,#eed893 356.5px,#ebcf90 356.5px,#ebcf90 445.8px,#e8c78d 445.8px,#e8c78d 553px,#e5be8a 553px)"></i>
<i style="left:277px;background:linear-gradient(#f4ea9a 112.8px,#f1e197 112.8px,#f1e197 225.2px,#eed893 225.2px,#eed893 358.8px,#ebcf90 358.8px,#ebcf90 447.2px,#e8c78d 447.2px,#e8c78d 556.8px,#e5be8a 556.8px)"></i>
<i style="left:278px;background:linear-gradient(#f4ea9a 115px,#f1e197 115px,#f1e197 226.2px,#eed893 226.2px,#eed893 361.5px,#ebcf90 361.5px,#ebcf90 450.2px,#e8c78d 450.2px,#e8c78d 562.2px,#e5be8a 562.2px)"></i>
<i style="left:279px;background:linear-gradient(#f4ea9a 117px,#f1e197 117px,#f1e197 229.2px,#eed893 229.2px,#eed893 364px,#ebcf90 364px,#ebcf90 454.8px,#e8c78d 454.8px,#e8c78d 569.5px,#e5be8a 569.5px)"></i>
<i style="left:280px;background:linear-gradient(#f4ea9a 119px,#f1e197 119px,#f1e197 234.2px,#eed893 234.2px,#eed893 366.5px,#ebcf90 366.5px,#ebcf90 459.2px,#e8c78d 459.2px,#e8c78d 577.2px,#e5be8a 577.2px)"></i>
<i style="left:281px;background:linear-gradient(#f4ea9a 121px,#f1e197 121px,#f1e197 239.2px,#eed893 239.2px,#eed893 369.2px,#ebcf90 369.2px,#ebcf90 463.8px,#e8c78d 463.8px,#e8c78d 585.2px,#e5be8a 585.2px)"></i>
<i style="left:282px;background:linear-gradient(#f4ea9a 123px,#f1e197 123px,#f1e197 244.2px,#eed893 244.2px,#eed893 372.2px,#ebcf90 372.2px,#ebcf90 468px,#e8c78d 468px,#e8c78d 592.8px,#e5be8a 592.8px)"></i>
<i style="left:283px;background:linear-gradient(#f4ea9a 125px,#f1e197 125px,#f1e197 247.5px,#eed893 247.5px,#eed893 375.8px,#ebcf90 375.8px,#ebcf90 471.5px,#e8c78d 471.5px,#e8c78d 599.8px,#e5be8a 599.8px)"></i>
<i style="left:284px;background:linear-gradient(#f4ea9a 127px,#f1e197 127px,#f1e197 249px,#eed893 249px,#eed893 379.5px,#ebcf90 379.5px,#ebcf90 475px,#e8c78d 475px,#e8c78d 607.5px,#e5be8a 607.5px)"></i>
<i style="left:285px;background:linear-gradient(#f4ea9a 129px,#f1e197 129px,#f1e197 250.5px,#eed893 250.5px,#eed893 383px,#ebcf90 383px,#ebcf90 478.8px,#e8c78d 478.8px,#e8c78d 616px,#e5be8a 616px)"></i>
<i style="left:286px;background:linear-gradient(#f4ea9a 131px,#f1e197 131px,#f1e197 252px,#eed893 252px,#eed893 386.5px,#ebcf90 386.5px,#ebcf90 482.2px,#e8c78d 482.2px,#e8c78d 625.5px,#e5be8a 625.5px)"></i>
<i style="left:287px;background:linear-gradient(#f4ea9a 133px,#f1e197 133px,#f1e197 253.5px,#eed893 253.5px,#eed893 390px,#ebcf90 390px,#ebcf90 493px,#e8c78d 493px,#e8c78d 643px,#e5be8a 643px)"></i>
<i style="left:288px;background:linear-gradient(#f4ea9a 135px,#f1e197 135px,#f1e197 255px,#eed893 255px,#eed893 393.8px,#ebcf90 393.8px,#ebcf90 495px,#e8c78d 495px,#e8c78d 654.5px,#e5be8a 654.5px)"></i>
<i style="left:289px;background:linear-gradient(#f4ea9a 136.8px,#f1e197 136.8px,#f1e197 259.2px,#eed893 259.2px,#eed893 397.8px,#ebcf90 397.8px,#ebcf90 497px,#e8c78d 497px,#e8c78d 670.8px,#e5be8a 670.8px)"></i>
<i style="left:290px;background:linear-gradient(#f4ea9a 138.8px,#f1e197 138.8px,#f1e197 266.5px,#eed893 266.5px,#eed893 402.5px,#ebcf90 402.5px,#ebcf90 512.5px,#e8c78d 512.5px)"></i>
<i style="left:291px;background:linear-gradient(#f4ea9a 140.8px,#f1e197 140.8px,#f1e197 273.5px,#eed893 273.5px,#eed893 407px,#ebcf90 407px,#ebcf90 514.2px,#e8c78d 514.2px)"></i>
<i style="left:292px;background:linear-gradient(#f4ea9a 142.8px,#f1e197 142.8px,#f1e197 280.5px,#eed893 280.5px,#eed893 411.8px,#ebcf90 411.8px,#ebcf90 539px,#e8c78d 539px)"></i>
<i style="left:293px;background:linear-gradient(#f4ea9a 144.8px,#f1e197 144.8px,#f1e197 287.5px,#eed893 287.5px,#eed893 416.5px,#ebcf90 416.5px,#ebcf90 543.8px,#e8c78d 543.8px)"></i>
<i style="left:294px;background:linear-gradient(#f4ea9a 146.8px,#f1e197 146.8px,#f1e197 292.8px,#eed893 292.8px,#eed893 421px,#ebcf90 421px,#ebcf90 548.2px,#e8c78d 548.2px)"></i>
<i style="left:295px;background:linear-gradient(#f4ea9a 148.8px,#f1e197 148.8px,#f1e197 296.8px,#eed893 296.8px,#eed893 427px,#ebcf90 427px,#ebcf90 552.8px,#e8c78d 552.8px)"></i>
<i style="left:296px;background:linear-gradient(#f4ea9a 150.8px,#f1e197 150.8px,#f1e197 300.8px,#eed893 300.8px,#eed893 434.5px,#ebcf90 434.5px,#ebcf90 557.2px,#e8c78d 557.2px)"></i>
<i style="left:297px;background:linear-gradient(#f4ea9a 152.8px,#f1e197 152.8px,#f1e197 304.5px,#eed893 304.5px,#eed893 441.8px,#ebcf90 441.8px,#ebcf90 563.2px,#e8c78d 563.2px)"></i>
<i style="left:298px;background:linear-gradient(#f4ea9a 154.8px,#f1e197 154.8px,#f1e197 308.5px,#eed893 308.5px,#eed893 447.5px,#ebcf90 447.5px,#ebcf90 569.8px,#e8c78d 569.8px)"></i>
<i style="left:299px;background:linear-gradient(#f4ea9a 156.5px,#f1e197 156.5px,#f1e197 312.2px,#eed893 312.2px,#eed893 451.2px,#ebcf90 451.2px,#ebcf90 576.2px,#e8c78d 576.2px)"></i>
<i style="left:300px;background:linear-gradient(#f4ea9a 158.5px,#f1e197 158.5px,#f1e197 316.2px,#eed893 316.2px,#eed893 455.2px,#ebcf90 455.2px,#ebcf90 582.8px,#e8c78d 582.8px)"></i>
<i style="left:301px;background:linear-gradient(#f4ea9a 160.5px,#f1e197 160.5px,#f1e197 320.2px,#eed893 320.2px,#eed893 459.2px,#ebcf90 459.2px,#ebcf90 591px,#e8c78d 591px)"></i>
<i style="left:302px;background:linear-gradient(#f4ea9a 162.5px,#f1e197 162.5px,#f1e197 324px,#eed893 324px,#eed893 463.2px,#ebcf90 463.2px,#ebcf90 600.5px,#e8c78d 600.5px)"></i>
<i style="left:303px;background:linear-gradient(#f4ea9a 164.5px,#f1e197 164.5px,#f1e197 328px,#eed893 328px,#eed893 470.2px,#ebcf90 470.2px,#ebcf90 610.2px,#e8c78d 610.2px)"></i>
<i style="left:304px;background:linear-gradient(#f4ea9a 166.5px,#f1e197 166.5px,#f1e197 332.2px,#eed893 332.2px,#eed893 480px,#ebcf90 480px)"></i>
<i style="left:305px;background:linear-gradient(#f4ea9a 168.5px,#f1e197 168.5px,#f1e197 336.5px,#eed893 336.5px,#eed893 487.8px,#ebcf90 487.8px)"></i>
<i style="left:306px;background:linear-gradient(#f4ea9a 170.5px,#f1e197 170.5px,#f1e197 340.8px,#eed893 340.8px,#eed893 493px,#ebcf90 493px)"></i>
<i style="left:307px;background:linear-gradient(#f4ea9a 172.5px,#f1e197 172.5px,#f1e197 345px,#eed893 345px,#eed893 498.2px,#ebcf90 498.2px)"></i>
<i style="left:308px;background:linear-gradient(#f4ea9a 174.5px,#f1e197 174.5px,#f1e197 349.2px,#eed893 349.2px,#eed893 530px,#ebcf90 530px)"></i>
<i style="left:309px;background:linear-gradient(#f4ea9a 176.2px,#f1e197 176.2px,#f1e197 353.5px,#eed893 353.5px,#eed893 543.8px,#ebcf90 543.8px)"></i>
<i style="left:310px;background:linear-gradient(#f4ea9a 178.2px,#f1e197 178.2px,#f1e197 357.8px,#eed893 357.8px,#eed893 561px,#ebcf90 561px)"></i>
<i style="left:311px;background:linear-gradient(#f4ea9a 180.2px,#f1e197 180.2px,#f1e197 362px,#eed893 362px,#eed893 578.5px,#ebcf90 578.5px)"></i>
<i style="left:312px;background:linear-gradient(#f4ea9a 182.2px,#f1e197 182.2px,#f1e197 366.2px,#eed893 366.2px,#eed893 596px,#ebcf90 596px)"></i>
<i style="left:313px;background:linear-gradient(#f4ea9a 184.2px,#f1e197 184.2px,#f1e197 387px,#eed893 387px,#eed893 614.2px,#ebcf90 614.2px)"></i>
<i style="left:314px;background:linear-gradient(#f4ea9a 186.2px,#f1e197 186.2px,#f1e197 398.5px,#eed893 398.5px,#eed893 632.8px,#ebcf90 632.8px)"></i>
<i style="left:315px;background:linear-gradient(#f4ea9a 188.2px,#f1e197 188.2px,#f1e197 400.5px,#eed893 400.5px,#eed893 651.5px,#ebcf90 651.5px)"></i>
<i style="left:316px;background:linear-gradient(#f4ea9a 190.2px,#f1e197 190.2px,#f1e197 402.5px,#eed893 402.5px,#eed893 670.8px,#ebcf90 670.8px)"></i>
<i style="left:317px;background:linear-gradient(#f4ea9a 192.2px,#f1e197 192.2px,#f1e197 404.5px,#eed893 404.5px)"></i>
<i style="left:318px;background:linear-gradient(#f4ea9a 194.2px,#f1e197 194.2px,#f1e197 406.5px,#eed893 406.5px)"></i>
<i style="left:319px;background:linear-gradient(#f4ea9a 196px,#f1e197 196px,#f1e197 422.5px,#eed893 422.5px)"></i>
<i style="left:320px;background:linear-gradient(#f4ea9a 197.8px,#f1e197 197.8px,#f1e197 439.2px,#eed893 439.2px)"></i>
<i style="left:321px;background:linear-gradient(#f4ea9a 199.5px,#f1e197 199.5px,#f1e197 442.5px,#eed893 442.5px)"></i>
<i style="left:322px;background:linear-gradient(#f4ea9a 201.2px,#f1e197 201.2px,#f1e197 445.8px,#eed893 445.8px)"></i>
<i style="left:323px;background:linear-gradient(#f4ea9a 203px,#f1e197 203px,#f1e197 449px,#eed893 449px)"></i>
<i style="left:324px;background:linear-gradient(#f4ea9a 204.5px,#f1e197 204.5px,#f1e197 452.2px,#eed893 452.2px)"></i>
<i style="left:325px;background:linear-gradient(#f4ea9a 206.2px,#f1e197 206.2px,#f1e197 456.2px,#eed893 456.2px)"></i>
<i style="left:326px;background:linear-gradient(#f4ea9a 208px,#f1e197 208px,#f1e197 461.2px,#eed893 461.2px)"></i>
<i style="left:327px;background:linear-gradient(#f4ea9a 209.8px,#f1e197 209.8px,#f1e197 466px,#eed893 466px)"></i>
<i style="left:328px;background:linear-gradient(#f4ea9a 211.5px,#f1e197 211.5px,#f1e197 471px,#eed893 471px)"></i>
<i style="left:329px;background:linear-gradient(#f4ea9a 213px,#f1e197 213px,#f1e197 478.5px,#eed893 478.5px)"></i>
<i style="left:330px;background:linear-gradient(#f4ea9a 214.8px,#f1e197 214.8px,#f1e197 488.8px,#eed893 488.8px)"></i>
<i style="left:331px;background:linear-gradient(#f4ea9a 216.5px,#f1e197 216.5px,#f1e197 499px,#eed893 499px)"></i>
<i style="left:332px;background:linear-gradient(#f4ea9a 218.2px,#f1e197 218.2px,#f1e197 519.8px,#eed893 519.8px)"></i>
<i style="left:333px;background:linear-gradient(#f4ea9a 220px,#f1e197 220px,#f1e197 553.8px,#eed893 553.8px)"></i>
<i style="left:334px;background:linear-gradient(#f4ea9a 221.5px,#f1e197 221.5px,#f1e197 591px,#eed893 591px)"></i>
<i style="left:335px;background:linear-gradient(#f4ea9a 223.2px,#f1e197 223.2px,#f1e197 628.5px,#eed893 628.5px)"></i>
<i style="left:336px;background:linear-gradient(#f4ea9a 247px,#f1e197 247px,#f1e197 664.2px,#eed893 664.2px)"></i>
<i style="left:337px;background:linear-gradient(#f4ea9a 248.5px,#f1e197 248.5px)"></i>
<i style="left:338px;background:linear-gradient(#f4ea9a 250px,#f1e197 250px)"></i>
<i style="left:339px;background:linear-gradient(#f4ea9a 251.8px,#f1e197 251.8px)"></i>
<i style="left:340px;background:linear-gradient(#f4ea9a 253.2px,#f1e197 253.2px)"></i>
<i style="left:341px;background:linear-gradient(#f4ea9a 254.8px,#f1e197 254.8px)"></i>
<i style="left:342px;background:linear-gradient(#f4ea9a 256.2px,#f1e197 256.2px)"></i>
<i style="left:343px;background:linear-gradient(#f4ea9a 258px,#f1e197 258px)"></i>
<i style="left:344px;background:linear-gradient(#f4ea9a 259.8px,#f1e197 259.8px)"></i>
<i style="left:345px;background:linear-gradient(#f4ea9a 261.5px,#f1e197 261.5px)"></i>
<i style="left:346px;background:linear-gradient(#f4ea9a 263.2px,#f1e197 263.2px)"></i>
<i style="left:347px;background:linear-gradient(#f4ea9a 265px,#f1e197 265px)"></i>
<i style="left:348px;background:linear-gradient(#f4ea9a 266.5px,#f1e197 266.5px)"></i>
<i style="left:349px;background:linear-gradient(#f7f29d 1.2px,#f4ea9a 1.2px,#f4ea9a 268.2px,#f1e197 268.2px)"></i>
<i style="left:350px;background:linear-gradient(#f7f29d 4.8px,#f4ea9a 4.8px,#f4ea9a 270px,#f1e197 270px)"></i>
<i style="left:351px;background:linear-gradient(#f7f29d 7.5px,#f4ea9a 7.5px,#f4ea9a 271.8px,#f1e197 271.8px)"></i>
<i style="left:352px;background:linear-gradient(#f7f29d 10.2px,#f4ea9a 10.2px,#f4ea9a 273.5px,#f1e197 273.5px)"></i>
<i style="left:353px;background:linear-gradient(#f7f29d 12.8px,#f4ea9a 12.8px,#f4ea9a 275.2px,#f1e197 275.2px)"></i>
<i style="left:354px;background:linear-gradient(#f7f29d 15.5px,#f4ea9a 15.5px,#f4ea9a 295.5px,#f1e197 295.5px)"></i>
<i style="left:355px;background:linear-gradient(#f7f29d 18.2px,#f4ea9a 18.2px,#f4ea9a 297.2px,#f1e197 297.2px)"></i>
<i style="left:356px;background:linear-gradient(#f7f29d 21px,#f4ea9a 21px,#f4ea9a 298.8px,#f1e197 298.8px)"></i>
<i style="left:357px;background:linear-gradient(#f7f29d 23.5px,#f4ea9a 23.5px,#f4ea9a 300.5px,#f1e197 300.5px)"></i>
<i style="left:358px;background:linear-gradient(#f7f29d 26.2px,#f4ea9a 26.2px,#f4ea9a 302px,#f1e197 302px)"></i>
<i style="left:359px;background:linear-gradient(#f7f29d 29px,#f4ea9a 29px,#f4ea9a 303.8px,#f1e197 303.8px)"></i>
<i style="left:360px;background:linear-gradient(#f7f29d 31.8px,#f4ea9a 31.8px,#f4ea9a 305.2px,#f1e197 305.2px)"></i>
<i style="left:361px;background:linear-gradient(#f7f29d 34.5px,#f4ea9a 34.5px,#f4ea9a 307px,#f1e197 307px)"></i>
<i style="left:362px;background:linear-gradient(#f7f29d 37.2px,#f4ea9a 37.2px,#f4ea9a 308.8px,#f1e197 308.8px)"></i>
<i style="left:363px;background:linear-gradient(#f7f29d 40px,#f4ea9a 40px,#f4ea9a 310.2px,#f1e197 310.2px)"></i>
<i style="left:364px;background:linear-gradient(#f7f29d 42.8px,#f4ea9a 42.8px,#f4ea9a 314.2px,#f1e197 314.2px)"></i>
<i style="left:365px;background:linear-gradient(#f7f29d 45.2px,#f4ea9a 45.2px,#f4ea9a 320.8px,#f1e197 320.8px)"></i>
<i style="left:366px;background:linear-gradient(#f7f29d 48px,#f4ea9a 48px,#f4ea9a 327.2px,#f1e197 327.2px)"></i>
<i style="left:367px;background:linear-gradient(#f7f29d 50.8px,#f4ea9a 50.8px,#f4ea9a 333.8px,#f1e197 333.8px)"></i>
<i style="left:368px;background:linear-gradient(#f7f29d 53.5px,#f4ea9a 53.5px,#f4ea9a 341.8px,#f1e197 341.8px)"></i>
<i style="left:369px;background:linear-gradient(#f7f29d 56.2px,#f4ea9a 56.2px,#f4ea9a 351px,#f1e197 351px)"></i>
<i style="left:370px;background:linear-gradient(#f7f29d 59px,#f4ea9a 59px,#f4ea9a 360.5px,#f1e197 360.5px)"></i>
<i style="left:371px;background:linear-gradient(#f7f29d 61.5px,#f4ea9a 61.5px,#f4ea9a 365.5px,#f1e197 365.5px)"></i>
<i style="left:372px;background:linear-gradient(#f7f29d 64.2px,#f4ea9a 64.2px,#f4ea9a 366.5px,#f1e197 366.5px)"></i>
<i style="left:373px;background:linear-gradient(#f7f29d 67px,#f4ea9a 67px,#f4ea9a 367.5px,#f1e197 367.5px)"></i>
<i style="left:374px;background:linear-gradient(#f7f29d 69.8px,#f4ea9a 69.8px,#f4ea9a 368.5px,#f1e197 368.5px)"></i>
<i style="left:375px;background:linear-gradient(#f7f29d 72.5px,#f4ea9a 72.5px,#f4ea9a 369.5px,#f1e197 369.5px)"></i>
<i style="left:376px;background:linear-gradient(#f7f29d 75.2px,#f4ea9a 75.2px,#f4ea9a 370.5px,#f1e197 370.5px)"></i>
<i style="left:377px;background:linear-gradient(#f7f29d 78px,#f4ea9a 78px,#f4ea9a 371.5px,#f1e197 371.5px)"></i>
<i style="left:378px;background:linear-gradient(#f7f29d 80.8px,#f4ea9a 80.8px,#f4ea9a 372.5px,#f1e197 372.5px)"></i>
<i style="left:379px;background:linear-gradient(#f7f29d 83.5px,#f4ea9a 83.5px,#f4ea9a 373.5px,#f1e197 373.5px)"></i>
<i style="left:380px;background:linear-gradient(#f7f29d 86.2px,#f4ea9a 86.2px,#f4ea9a 374.5px,#f1e197 374.5px)"></i>
<i style="left:381px;background:linear-gradient(#f7f29d 88.8px,#f4ea9a 88.8px,#f4ea9a 375.5px,#f1e197 375.5px)"></i>
<i style="left:382px;background:linear-gradient(#f7f29d 91.5px,#f4ea9a 91.5px,#f4ea9a 376.5px,#f1e197 376.5px)"></i>
<i style="left:383px;background:linear-gradient(#f7f29d 94.2px,#f4ea9a 94.2px,#f4ea9a 377.5px,#f1e197 377.5px)"></i>
<i style="left:384px;background:linear-gradient(#f7f29d 97px,#f4ea9a 97px,#f4ea9a 378.5px,#f1e197 378.5px)"></i>
<i style="left:385px;background:linear-gradient(#f7f29d 99.8px,#f4ea9a 99.8px,#f4ea9a 379.5px,#f1e197 379.5px)"></i>
<i style="left:386px;background:linear-gradient(#f7f29d 102.5px,#f4ea9a 102.5px,#f4ea9a 380.5px,#f1e197 380.5px)"></i>
<i style="left:387px;background:linear-gradient(#f7f29d 105.2px,#f4ea9a 105.2px,#f4ea9a 381.5px,#f1e197 381.5px)"></i>
<i style="left:388px;background:linear-gradient(#f7f29d 108px,#f4ea9a 108px,#f4ea9a 382.5px,#f1e197 382.5px)"></i>
<i style="left:389px;background:linear-gradient(#f7f29d 110.8px,#f4ea9a 110.8px,#f4ea9a 383.5px,#f1e197 383.5px)"></i>
<i style="left:390px;background:linear-gradient(#f7f29d 113.2px,#f4ea9a 113.2px,#f4ea9a 390px,#f1e197 390px)"></i>
<i style="left:391px;background:linear-gradient(#f7f29d 116px,#f4ea9a 116px,#f4ea9a 413.5px,#f1e197 413.5px)"></i>
<i style="left:392px;background:linear-gradient(#f7f29d 118.5px,#f4ea9a 118.5px,#f4ea9a 448.5px,#f1e197 448.5px)"></i>
<i style="left:393px;background:linear-gradient(#f7f29d 121.2px,#f4ea9a 121.2px,#f4ea9a 481.2px,#f1e197 481.2px)"></i>
<i style="left:394px;background:linear-gradient(#f7f29d 123.8px,#f4ea9a 123.8px,#f4ea9a 511.8px,#f1e197 511.8px)"></i>
<i style="left:395px;background:linear-gradient(#f7f29d 126.2px,#f4ea9a 126.2px)"></i>
<i style="left:396px;background:linear-gradient(#f7f29d 128.8px,#f4ea9a 128.8px)"></i>
<i style="left:397px;background:linear-gradient(#f7f29d 131.5px,#f4ea9a 131.5px)"></i>
<i style="left:398px;background:linear-gradient(#f7f29d 134.2px,#f4ea9a 134.2px)"></i>
<i style="left:399px;background:linear-gradient(#f7f29d 136.8px,#f4ea9a 136.8px)"></i>
<i style="left:400px;background:linear-gradient(#f7f29d 139.5px,#f4ea9a 139.5px)"></i>
<i style="left:401px;background:linear-gradient(#f7f29d 142.2px,#f4ea9a 142.2px)"></i>
<i style="left:402px;background:linear-gradient(#f7f29d 144.8px,#f4ea9a 144.8px)"></i>
<i style="left:403px;background:linear-gradient(#f7f29d 147.5px,#f4ea9a 147.5px)"></i>
<i style="left:404px;background:linear-gradient(#f7f29d 150.2px,#f4ea9a 150.2px)"></i>
<i style="left:405px;background:linear-gradient(#f7f29d 153px,#f4ea9a 153px)"></i>
<i style="left:406px;background:linear-gradient(#f7f29d 155.5px,#f4ea9a 155.5px)"></i>
<i style="left:407px;background:linear-gradient(#f7f29d 158.2px,#f4ea9a 158.2px)"></i>
<i style="left:408px;background:linear-gradient(#f7f29d 161px,#f4ea9a 161px)"></i>
<i style="left:409px;background:linear-gradient(#f7f29d 163.5px,#f4ea9a 163.5px)"></i>
<i style="left:410px;background:linear-gradient(#f7f29d 166.2px,#f4ea9a 166.2px)"></i>
<i style="left:411px;background:linear-gradient(#f7f29d 169px,#f4ea9a 169px)"></i>
<i style="left:412px;background:linear-gradient(#f7f29d 171.5px,#f4ea9a 171.5px)"></i>
<i style="left:413px;background:linear-gradient(#f7f29d 174.2px,#f4ea9a 174.2px)"></i>
<i style="left:414px;background:linear-gradient(#f7f29d 177px,#f4ea9a 177px)"></i>
<i style="left:415px;background:linear-gradient(#f7f29d 179.5px,#f4ea9a 179.5px)"></i>
<i style="left:416px;background:linear-gradient(#f7f29d 182.2px,#f4ea9a 182.2px)"></i>
<i style="left:417px;background:linear-gradient(#f7f29d 184.8px,#f4ea9a 184.8px)"></i>
<i style="left:418px;background:linear-gradient(#f7f29d 187.5px,#f4ea9a 187.5px)"></i>
<i style="left:419px;background:linear-gradient(#f7f29d 190.2px,#f4ea9a 190.2px)"></i>
<i style="left:420px;background:linear-gradient(#f7f29d 192.8px,#f4ea9a 192.8px)"></i>
<i style="left:421px;background:linear-gradient(#f7f29d 195.2px,#f4ea9a 195.2px)"></i>
<i style="left:422px;background:linear-gradient(#f7f29d 197.8px,#f4ea9a 197.8px)"></i>
<i style="left:423px;background:linear-gradient(#f7f29d 200px,#f4ea9a 200px)"></i>
<i style="left:424px;background:linear-gradient(#f7f29d 202.5px,#f4ea9a 202.5px)"></i>
<i style="left:425px;background:linear-gradient(#f7f29d 204.8px,#f4ea9a 204.8px)"></i>
<i style="left:426px;background:linear-gradient(#f7f29d 207.2px,#f4ea9a 207.2px)"></i>
<i style="left:427px;background:linear-gradient(#f7f29d 209.5px,#f4ea9a 209.5px)"></i>
<i style="left:428px;background:linear-gradient(#f7f29d 212px,#f4ea9a 212px)"></i>
<i style="left:429px;background:linear-gradient(#f7f29d 214.2px,#f4ea9a 214.2px)"></i>
<i style="left:430px;background:linear-gradient(#f7f29d 216.8px,#f4ea9a 216.8px)"></i>
<i style="left:431px;background:linear-gradient(#f7f29d 219px,#f4ea9a 219px)"></i>
<i style="left:432px;background:linear-gradient(#f7f29d 221.5px,#f4ea9a 221.5px)"></i>
<i style="left:433px;background:linear-gradient(#f7f29d 223.8px,#f4ea9a 223.8px)"></i>
<i style="left:434px;background:linear-gradient(#f7f29d 226.2px,#f4ea9a 226.2px)"></i>
<i style="left:435px;background:linear-gradient(#f7f29d 277.5px,#f4ea9a 277.5px)"></i>
<i style="left:436px;background:linear-gradient(#f7f29d 280px,#f4ea9a 280px)"></i>
<i style="left:437px;background:linear-gradient(#f7f29d 282.5px,#f4ea9a 282.5px)"></i>
<i style="left:438px;background:linear-gradient(#f7f29d 284.8px,#f4ea9a 284.8px)"></i>
<i style="left:439px;background:linear-gradient(#f7f29d 287.5px,#f4ea9a 287.5px)"></i>
<i style="left:440px;background:linear-gradient(#f7f29d 290.2px,#f4ea9a 290.2px)"></i>
<i style="left:441px;background:linear-gradient(#f7f29d 293px,#f4ea9a 293px)"></i>
<i style="left:442px;background:linear-gradient(#f7f29d 295.5px,#f4ea9a 295.5px)"></i>
<i style="left:443px;background:linear-gradient(#f7f29d 298.2px,#f4ea9a 298.2px)"></i>
<i style="left:444px;background:linear-gradient(#f7f29d 301px,#f4ea9a 301px)"></i>
<i style="left:445px;background:linear-gradient(#f7f29d 303.8px,#f4ea9a 303.8px)"></i>
<i style="left:446px;background:linear-gradient(#f7f29d 306.2px,#f4ea9a 306.2px)"></i>
<i style="left:447px;background:linear-gradient(#f7f29d 309px,#f4ea9a 309px)"></i>
<i style="left:448px;background:linear-gradient(#f7f29d 311.8px,#f4ea9a 311.8px)"></i>
<i style="left:449px;background:linear-gradient(#f7f29d 314px,#f4ea9a 314px)"></i>
<i style="left:450px;background:linear-gradient(#f7f29d 315.8px,#f4ea9a 315.8px)"></i>
<i style="left:451px;background:linear-gradient(#f7f29d 317.5px,#f4ea9a 317.5px)"></i>
<i style="left:452px;background:linear-gradient(#f7f29d 319.2px,#f4ea9a 319.2px)"></i>
<i style="left:453px;background:linear-gradient(#f7f29d 321px,#f4ea9a 321px)"></i>
<i style="left:454px;background:linear-gradient(#f7f29d 322.8px,#f4ea9a 322.8px)"></i>
<i style="left:455px;background:linear-gradient(#f7f29d 324.5px,#f4ea9a 324.5px)"></i>
<i style="left:456px;background:linear-gradient(#f7f29d 326.2px,#f4ea9a 326.2px)"></i>
<i style="left:457px;background:linear-gradient(#f7f29d 327.8px,#f4ea9a 327.8px)"></i>
<i style="left:458px;background:linear-gradient(#f7f29d 329.2px,#f4ea9a 329.2px)"></i>
<i style="left:459px;background:linear-gradient(#f7f29d 330.8px,#f4ea9a 330.8px)"></i>
<i style="left:460px;background:linear-gradient(#f7f29d 332px,#f4ea9a 332px)"></i>
<i style="left:461px;background:linear-gradient(#f7f29d 333.2px,#f4ea9a 333.2px)"></i>
<i style="left:462px;background:linear-gradient(#f7f29d 334.2px,#f4ea9a 334.2px)"></i>
<i style="left:463px;background:linear-gradient(#f7f29d 486.2px,#f4ea9a 486.2px)"></i>
<i style="left:464px;background:linear-gradient(#f7f29d 513px,#f4ea9a 513px)"></i>
<i style="left:465px;background:linear-gradient(#f7f29d 540.8px,#f4ea9a 540.8px)"></i>
<i style="left:466px;background:linear-gradient(#f7f29d 575.2px,#f4ea9a 575.2px)"></i>
<i style="left:467px;background:linear-gradient(#f7f29d 616.8px,#f4ea9a 616.8px)"></i>
<i style="left:468px;background:linear-gradient(#f7f29d 658.5px,#f4ea9a 658.5px)"></i>
<i style="left:469px;background:#f7f29d"></i>
<i style="left:470px;background:#f7f29d"></i>
<i style="left:471px;background:#f7f29d"></i>
<i style="left:472px;background:#f7f29d"></i>
<i style="left:473px;background:#f7f29d"></i>
<i style="left:474px;background:#f7f29d"></i>
<i style="left:475px;background:#f7f29d"></i>
<i style="left:476px;background:#f7f29d"></i>
<i style="left:477px;background:#f7f29d"></i>
<i style="left:478px;background:#f7f29d"></i>
<i style="left:479px;background:#f7f29d"></i>
<i style="left:480px;background:#f7f29d"></i>
<i style="left:481px;background:#f7f29d"></i>
<i style="left:482px;background:#f7f29d"></i>
<i style="left:483px;background:#f7f29d"></i>
</div>
<svg id="ov" width="999" height="851" viewBox="0 0 999 851">
<defs><clipPath id="pc"><rect x="125.3" y="73.5" width="709.5" height="682.1"/></clipPath></defs>
<polyline points="351,164.4 357,170 365,175.5 369,176 374.6,169.6 372,166 381,157 385,149 386.5,144 388,149 395,152 403,158 408.5,162 411,176 417,210 423,245.5 429,220 435,190 438,180.5 441,198 445,230 449,266 454,284 458,300 461.5,309 465,300 473,270 480.2,244.5 485,258 493,278 498,292 509,312 516,328 525,342 532,360 541,375.5 553,380 578,387 581,389.5 572,392 578,395 588,399 584,405 594,412 592,419 599,427 604,442 612,458 611,473 620,488 623,498 621,509 629,522 633,540 638,558 637,564 641,572 639,582 643,589 640,598 642,606 645,620 647.7,632 652,660 655,689 650.7,707 652,725 653.7,740 655,755" fill="none" stroke="#bdbdc0" stroke-width="1.45" stroke-linejoin="round"/>
<polyline points="350.6,354.3 359,363 368.6,371 380,364 381,357 386,353.5 393,358 394,364 409,384 416,412 423,442 431,428 438,412 441,434 441.6,440 444.3,460 447,486 452,494 461,520.5 480,519.5 487,525 489,531 506,539 510,549 514,558 511,565 516,578 519,588 518,596 522,601 522,610 523.4,619 527,634 529,656 532,675 534,694 536.6,716.6 536.6,731.6 538,755" fill="none" stroke="#bdbdc0" stroke-width="1.45" stroke-linejoin="round"/>
<polyline points="351.6,451.3 359,457.9 367.6,464.8 380.7,462.2 385.4,457 390,465.4 397.7,477.6 407,500.2 416.5,522.8 420.2,534 423,543.4 433.4,540.6 438,536 439,552.8 442.8,583 446.6,600 448,613 465,651 471,666 477,692 480,702.5 499,692 505.5,688 508,700 513,720 517,731.6 518,755" fill="none" stroke="#bdbdc0" stroke-width="1.45" stroke-linejoin="round"/>
<polyline points="351.6,521.2 360,525.6 368.5,532.2 385.4,530.3 390,536.9 396.7,551 407,575.4 414.6,590.5 418,603 423,619 430,623 437,626.7 439,640 441,652 444.4,684.6 446.6,695 448,709 452,718 453,755" fill="none" stroke="#bdbdc0" stroke-width="1.45" stroke-linejoin="round"/>
<polyline points="351.6,580.7 360,583 368.5,586.3 385.4,583.3 389.2,588.6 394.8,601.3 401.4,618.2 411.8,638.9 415.5,648.3 420,662 423,674.6 427.8,682 431,684.6 437,695 439,714 439.5,755" fill="none" stroke="#bdbdc0" stroke-width="1.45" stroke-linejoin="round"/>
<polyline points="358,708.5 355.3,691.6 354.4,669 358,652 363.8,639 368.5,634.8 385.4,635 390,641.7 398,656 407,672.8 412,686 417.4,701 418.3,703.8" fill="none" stroke="#bdbdc0" stroke-width="1.45"/>
<polyline points="369.4,708 366.6,699 367.6,687.8 370.4,681.2 385.4,676.5 396.7,688.7 408,704.7" fill="none" stroke="#bdbdc0" stroke-width="1.45"/>
<polyline points="538,750 560,749 583,748 583,751 560,752" fill="none" stroke="#c2c6cb" stroke-width="1"/>
<polygon points="351.5,710 369,708 407,707.5 409.5,703 438,703 438.5,716.5 446,718.4 447,721 480,725 480,734 537.5,734 538.4,756 351.5,756" fill="#c0c0c0"/>
<g clip-path="url(#pc)"><polyline points="187.5,756 207.5,746.5 260,688.5 297.5,674 345,644 385,639 412.5,645 422.5,643.5 500,662.5 537.5,670 605,691.5 775,727.5" fill="none" stroke="#000" stroke-width="4.4" stroke-linejoin="round" stroke-linecap="round"/></g>
<g clip-path="url(#pc)" stroke="#000" stroke-width="2.4" fill="none">
<path d="M345.4 531.6V599.4M340.1 531.6H350.7M340.1 599.4H350.7"/>
<path d="M351 560.4V627.4M345.7 560.4H356.3M345.7 627.4H356.3"/>
<path d="M359.4 596V646.2M354.1 596H364.7M354.1 646.2H364.7"/>
<path d="M368.5 646.2V770M363.2 646.2H373.8M363.2 770H373.8"/>
</g>
<circle cx="345.4" cy="542.2" r="6.6" fill="#fff" stroke="#000" stroke-width="1.9"/>
<circle cx="351" cy="570.7" r="6.6" fill="#fff" stroke="#000" stroke-width="1.9"/>
<circle cx="359.4" cy="607" r="6.6" fill="#fff" stroke="#000" stroke-width="1.9"/>
<circle cx="368.5" cy="657.1" r="6.6" fill="#fff" stroke="#000" stroke-width="1.9"/>
<rect x="146" y="219" width="15.2" height="15.2" fill="#000"/>
<rect x="200" y="293.5" width="15.2" height="15.2" fill="#000"/>
<rect x="252.2" y="393.6" width="15.2" height="15.2" fill="#000"/>
<rect x="286.9" y="481.9" width="15.2" height="15.2" fill="#000"/>
<rect x="125.3" y="73.5" width="709.5" height="682.1" fill="none" stroke="#000" stroke-width="2.8"/>
<path d="M125.3 755.6V766.6M233.9 755.6V766.6M342.5 755.6V766.6M451.2 755.6V766.6M559.8 755.6V766.6M668.4 755.6V766.6M777 755.6V766.6M179.6 755.6V761.8M288.2 755.6V761.8M396.9 755.6V761.8M505.5 755.6V761.8M614.1 755.6V761.8M722.7 755.6V761.8M831.3 755.6V761.8M125.3 755.6H114M125.3 492.8H114M125.3 213.2H114M125.3 744.4H119.5M125.3 716.5H119.5M125.3 688.5H119.5M125.3 660.6H119.5M125.3 632.6H119.5M125.3 604.6H119.5M125.3 576.7H119.5M125.3 548.7H119.5M125.3 520.8H119.5M125.3 464.8H119.5M125.3 436.9H119.5M125.3 408.9H119.5M125.3 381H119.5M125.3 353H119.5M125.3 325H119.5M125.3 297.1H119.5M125.3 269.1H119.5M125.3 241.2H119.5M125.3 185.2H119.5M125.3 157.3H119.5M125.3 129.3H119.5M125.3 101.4H119.5" stroke="#000" stroke-width="2.6" fill="none"/>
<g font-family="Liberation Sans, sans-serif" font-size="29.4px" fill="#000">
<text transform="translate(125.8 798.8) scale(1 1.045)" text-anchor="middle">0.02</text>
<text transform="translate(234.4 798.8) scale(1 1.045)" text-anchor="middle">0.04</text>
<text transform="translate(343 798.8) scale(1 1.045)" text-anchor="middle">0.06</text>
<text transform="translate(451.7 798.8) scale(1 1.045)" text-anchor="middle">0.08</text>
<text transform="translate(560.3 798.8) scale(1 1.045)" text-anchor="middle">0.10</text>
<text transform="translate(668.9 798.8) scale(1 1.045)" text-anchor="middle">0.12</text>
<text transform="translate(777.5 798.8) scale(1 1.045)" text-anchor="middle">0.14</text>
<text transform="translate(107.9 765.8) scale(1 1.045)" text-anchor="end">3</text>
<text transform="translate(107.9 503) scale(1 1.045)" text-anchor="end">50</text>
<text transform="translate(107.9 223.4) scale(1 1.045)" text-anchor="end">100</text>
</g>
<rect shape-rendering="crispEdges" x="859.5" y="83.3" width="36.1" height="14.78" fill="#fafba0"/>
<rect shape-rendering="crispEdges" x="859.5" y="97.08" width="36.1" height="14.78" fill="#f7f29d"/>
<rect shape-rendering="crispEdges" x="859.5" y="110.85" width="36.1" height="14.78" fill="#f4ea9a"/>
<rect shape-rendering="crispEdges" x="859.5" y="124.62" width="36.1" height="14.78" fill="#f1e197"/>
<rect shape-rendering="crispEdges" x="859.5" y="138.4" width="36.1" height="14.78" fill="#eed893"/>
<rect shape-rendering="crispEdges" x="859.5" y="152.18" width="36.1" height="14.78" fill="#ebcf90"/>
<rect shape-rendering="crispEdges" x="859.5" y="165.95" width="36.1" height="14.78" fill="#e8c78d"/>
<rect shape-rendering="crispEdges" x="859.5" y="179.72" width="36.1" height="14.78" fill="#e5be8a"/>
<rect shape-rendering="crispEdges" x="859.5" y="193.5" width="36.1" height="14.78" fill="#e2b587"/>
<rect shape-rendering="crispEdges" x="859.5" y="207.28" width="36.1" height="14.78" fill="#dfac84"/>
<rect shape-rendering="crispEdges" x="859.5" y="221.05" width="36.1" height="14.78" fill="#dca481"/>
<rect shape-rendering="crispEdges" x="859.5" y="234.82" width="36.1" height="14.78" fill="#d99b7e"/>
<rect shape-rendering="crispEdges" x="859.5" y="248.6" width="36.1" height="14.78" fill="#d5927a"/>
<rect shape-rendering="crispEdges" x="859.5" y="262.38" width="36.1" height="14.78" fill="#d28977"/>
<rect shape-rendering="crispEdges" x="859.5" y="276.15" width="36.1" height="14.78" fill="#cf8174"/>
<rect shape-rendering="crispEdges" x="859.5" y="289.93" width="36.1" height="14.78" fill="#cc7871"/>
<rect shape-rendering="crispEdges" x="859.5" y="303.7" width="36.1" height="14.78" fill="#c96f6e"/>
<rect shape-rendering="crispEdges" x="859.5" y="317.48" width="36.1" height="14.78" fill="#c6666b"/>
<rect shape-rendering="crispEdges" x="859.5" y="331.25" width="36.1" height="14.78" fill="#c35e68"/>
<rect shape-rendering="crispEdges" x="859.5" y="345.03" width="36.1" height="14.78" fill="#c05565"/>
<rect shape-rendering="crispEdges" x="859.5" y="358.8" width="36.1" height="14.78" fill="#bd4c61"/>
<rect shape-rendering="crispEdges" x="859.5" y="372.58" width="36.1" height="14.78" fill="#ba435e"/>
<rect shape-rendering="crispEdges" x="859.5" y="386.35" width="36.1" height="14.78" fill="#b73b5b"/>
<rect shape-rendering="crispEdges" x="859.5" y="400.12" width="36.1" height="14.78" fill="#b43258"/>
<rect shape-rendering="crispEdges" x="859.5" y="413.9" width="36.1" height="14.78" fill="#b43258"/>
<rect shape-rendering="crispEdges" x="859.5" y="427.68" width="36.1" height="14.78" fill="#ac3054"/>
<rect shape-rendering="crispEdges" x="859.5" y="441.45" width="36.1" height="14.78" fill="#a42e51"/>
<rect shape-rendering="crispEdges" x="859.5" y="455.23" width="36.1" height="14.78" fill="#9d2b4d"/>
<rect shape-rendering="crispEdges" x="859.5" y="469" width="36.1" height="14.78" fill="#95294a"/>
<rect shape-rendering="crispEdges" x="859.5" y="482.78" width="36.1" height="14.78" fill="#8d2746"/>
<rect shape-rendering="crispEdges" x="859.5" y="496.55" width="36.1" height="14.78" fill="#852542"/>
<rect shape-rendering="crispEdges" x="859.5" y="510.33" width="36.1" height="14.78" fill="#7d233f"/>
<rect shape-rendering="crispEdges" x="859.5" y="524.1" width="36.1" height="14.78" fill="#75213b"/>
<rect shape-rendering="crispEdges" x="859.5" y="537.88" width="36.1" height="14.78" fill="#6e1e38"/>
<rect shape-rendering="crispEdges" x="859.5" y="551.65" width="36.1" height="14.78" fill="#661c34"/>
<rect shape-rendering="crispEdges" x="859.5" y="565.42" width="36.1" height="14.78" fill="#5e1a30"/>
<rect shape-rendering="crispEdges" x="859.5" y="579.2" width="36.1" height="14.78" fill="#56182d"/>
<rect shape-rendering="crispEdges" x="859.5" y="592.98" width="36.1" height="14.78" fill="#4e1629"/>
<rect shape-rendering="crispEdges" x="859.5" y="606.75" width="36.1" height="14.78" fill="#461425"/>
<rect shape-rendering="crispEdges" x="859.5" y="620.52" width="36.1" height="14.78" fill="#3f1122"/>
<rect shape-rendering="crispEdges" x="859.5" y="634.3" width="36.1" height="14.78" fill="#370f1e"/>
<rect shape-rendering="crispEdges" x="859.5" y="648.07" width="36.1" height="14.78" fill="#2f0d1b"/>
<rect shape-rendering="crispEdges" x="859.5" y="661.85" width="36.1" height="14.78" fill="#270b17"/>
<rect shape-rendering="crispEdges" x="859.5" y="675.62" width="36.1" height="14.78" fill="#1f0913"/>
<rect shape-rendering="crispEdges" x="859.5" y="689.4" width="36.1" height="14.78" fill="#170710"/>
<rect shape-rendering="crispEdges" x="859.5" y="703.17" width="36.1" height="14.78" fill="#10040c"/>
<rect shape-rendering="crispEdges" x="859.5" y="716.95" width="36.1" height="14.78" fill="#080209"/>
<rect shape-rendering="crispEdges" x="859.5" y="730.73" width="36.1" height="13.78" fill="#000005"/>
<rect x="859.5" y="83.3" width="36.1" height="661.2" fill="none" stroke="#000" stroke-width="1.2"/>
<g font-family="Liberation Sans, sans-serif" font-size="29.4px" fill="#000">
<path d="M895.6 196.2H907" stroke="#000" stroke-width="1.1"/>
<text transform="translate(917.3 207.1) scale(1 1.045)">-50.00</text>
<path d="M895.6 314.5H907" stroke="#000" stroke-width="1.1"/>
<text transform="translate(917.3 325.4) scale(1 1.045)">-100.00</text>
<path d="M895.6 432.3H907" stroke="#000" stroke-width="1.1"/>
<text transform="translate(917.3 443.2) scale(1 1.045)">-150.00</text>
<path d="M895.6 550.2H907" stroke="#000" stroke-width="1.1"/>
<text transform="translate(917.3 561.1) scale(1 1.045)">-200.00</text>
<path d="M895.6 668H907" stroke="#000" stroke-width="1.1"/>
<text transform="translate(917.3 678.9) scale(1 1.045)">-250.00</text>
</g>
<rect x="521.2" y="98.7" width="291.7" height="168.8" fill="#fff" stroke="#000" stroke-width="1.2"/>
<rect x="550.4" y="111.8" width="16" height="16" fill="#000"/>
<circle cx="557.8" cy="161.5" r="7.1" fill="#fff" stroke="#000" stroke-width="1.8"/>
<path d="M525.7 204.2H590.6" stroke="#000" stroke-width="4.2" stroke-linecap="round"/>
<path d="M525.7 246.5H590.6" stroke="#bebebe" stroke-width="5" stroke-linecap="round"/>
<g font-family="Liberation Sans, sans-serif" font-size="29.2px" word-spacing="0.9px" fill="#000">
<text transform="translate(598.6 129.7) scale(1 1.04)">T<tspan font-size="22.5px" dy="7.2">S</tspan><tspan dy="-7.2" dx="-2.3"></tspan></text>
<text transform="translate(598.6 172.2) scale(1 1.04)">T<tspan font-size="22.5px" dy="7.2">S</tspan><tspan dy="-7.2" dx="-2.3"> Upper Bound</tspan></text>
<text transform="translate(598.6 214.1) scale(1 1.04)">T<tspan font-size="22.5px" dy="7.2">C</tspan><tspan dy="-7.2" dx="-2.3"> (H = 0 T)</tspan></text>
<text transform="translate(598.6 256.4) scale(1 1.04)">SC (H = 45 T)</text>
</g>
<text transform="translate(386.6 844) scale(1 1.02)" font-family="Liberation Sans, sans-serif" font-size="35.3px">Doping</text>
<g font-family="Liberation Serif, serif" fill="#000">
<text transform="translate(509 836.5) scale(0.9 1)" font-size="39px" stroke="#fff" stroke-width="0.5" paint-order="fill">(</text>
<text transform="translate(521.6 836.6)" font-size="36px" font-style="italic" stroke="#fff" stroke-width="0.2" paint-order="fill">x</text>
<text transform="translate(540.2 836.5) scale(0.9 1)" font-size="39px" stroke="#fff" stroke-width="0.5" paint-order="fill">)</text>
<text transform="translate(26.5 459.6) rotate(-90) scale(1.07 1)" font-size="37.5px" font-style="italic" stroke="#fff" stroke-width="0.5" paint-order="fill">T</text>
<text transform="translate(26 424) rotate(-90) scale(0.9 1)" font-size="40px" stroke="#fff" stroke-width="0.5" paint-order="fill">(</text>
<text transform="translate(26.5 410.4) rotate(-90) scale(1.09 1)" font-size="37.5px" font-style="italic" stroke="#fff" stroke-width="0.5" paint-order="fill">K</text>
<text transform="translate(26 381) rotate(-90) scale(0.9 1)" font-size="40px" stroke="#fff" stroke-width="0.5" paint-order="fill">)</text>
<text transform="translate(843.2 34.4) scale(1.2 1)" font-size="35px" font-style="italic" stroke="#fff" stroke-width="0.5" paint-order="fill">m</text>
<text transform="translate(874.6 15.8) scale(1.18 1)" font-size="24px" font-style="italic" stroke="#fff" stroke-width="0.35" paint-order="fill">B</text>
<text transform="translate(892 18.9) scale(1.25 1)" font-size="15.5px">2</text>
<text transform="translate(902.2 18.9) scale(1.15 1)" font-size="16.5px" font-style="italic">g</text>
<text transform="translate(874.6 43.7) scale(1.18 1)" font-size="24px" font-style="italic" stroke="#fff" stroke-width="0.35" paint-order="fill">B</text>
<text transform="translate(892 46.8) scale(1.25 1)" font-size="15.5px">2</text>
<text transform="translate(902.2 46.8) scale(1.15 1)" font-size="16.5px" font-style="italic">g</text>
</g>
</svg>
</body></html>
